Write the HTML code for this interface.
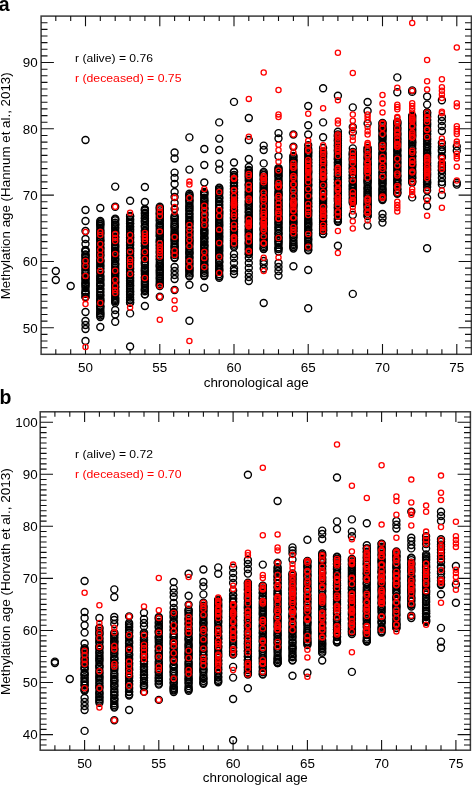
<!DOCTYPE html>
<html><head><meta charset="utf-8"><style>
html,body{margin:0;padding:0;background:#fff;}
body{width:472px;height:785px;overflow:hidden;}
svg{display:block;font-family:"Liberation Sans",sans-serif;}
</style></head><body>
<div style="will-change:transform;width:472px;height:785px"><svg width="472" height="785" viewBox="0 0 472 785" font-family="Liberation Sans, sans-serif"><rect x="41.1" y="16.1" width="430.3" height="338.2" fill="none" stroke="#3a3a3a" stroke-width="1.5"/><path d="M55.8 354.3v-5.0M55.8 16.1v5.0M70.7 354.3v-5.0M70.7 16.1v5.0M85.5 354.3v-10.2M85.5 16.1v10.2M100.3 354.3v-5.0M100.3 16.1v5.0M115.2 354.3v-5.0M115.2 16.1v5.0M130.1 354.3v-5.0M130.1 16.1v5.0M144.9 354.3v-5.0M144.9 16.1v5.0M159.8 354.3v-10.2M159.8 16.1v10.2M174.6 354.3v-5.0M174.6 16.1v5.0M189.4 354.3v-5.0M189.4 16.1v5.0M204.3 354.3v-5.0M204.3 16.1v5.0M219.2 354.3v-5.0M219.2 16.1v5.0M234.0 354.3v-10.2M234.0 16.1v10.2M248.8 354.3v-5.0M248.8 16.1v5.0M263.7 354.3v-5.0M263.7 16.1v5.0M278.5 354.3v-5.0M278.5 16.1v5.0M293.4 354.3v-5.0M293.4 16.1v5.0M308.2 354.3v-10.2M308.2 16.1v10.2M323.1 354.3v-5.0M323.1 16.1v5.0M337.9 354.3v-5.0M337.9 16.1v5.0M352.8 354.3v-5.0M352.8 16.1v5.0M367.6 354.3v-5.0M367.6 16.1v5.0M382.5 354.3v-10.2M382.5 16.1v10.2M397.3 354.3v-5.0M397.3 16.1v5.0M412.2 354.3v-5.0M412.2 16.1v5.0M427.1 354.3v-5.0M427.1 16.1v5.0M441.9 354.3v-5.0M441.9 16.1v5.0M456.8 354.3v-10.2M456.8 16.1v10.2M41.1 347.7h6.4M471.4 347.7h-6.4M41.1 341.0h6.4M471.4 341.0h-6.4M41.1 334.4h6.4M471.4 334.4h-6.4M41.1 327.8h12.8M471.4 327.8h-12.8M41.1 321.1h6.4M471.4 321.1h-6.4M41.1 314.5h6.4M471.4 314.5h-6.4M41.1 307.9h6.4M471.4 307.9h-6.4M41.1 301.2h6.4M471.4 301.2h-6.4M41.1 294.6h6.4M471.4 294.6h-6.4M41.1 288.0h6.4M471.4 288.0h-6.4M41.1 281.4h6.4M471.4 281.4h-6.4M41.1 274.7h6.4M471.4 274.7h-6.4M41.1 268.1h6.4M471.4 268.1h-6.4M41.1 261.5h12.8M471.4 261.5h-12.8M41.1 254.8h6.4M471.4 254.8h-6.4M41.1 248.2h6.4M471.4 248.2h-6.4M41.1 241.6h6.4M471.4 241.6h-6.4M41.1 234.9h6.4M471.4 234.9h-6.4M41.1 228.3h6.4M471.4 228.3h-6.4M41.1 221.7h6.4M471.4 221.7h-6.4M41.1 215.0h6.4M471.4 215.0h-6.4M41.1 208.4h6.4M471.4 208.4h-6.4M41.1 201.8h6.4M471.4 201.8h-6.4M41.1 195.1h12.8M471.4 195.1h-12.8M41.1 188.5h6.4M471.4 188.5h-6.4M41.1 181.9h6.4M471.4 181.9h-6.4M41.1 175.3h6.4M471.4 175.3h-6.4M41.1 168.6h6.4M471.4 168.6h-6.4M41.1 162.0h6.4M471.4 162.0h-6.4M41.1 155.4h6.4M471.4 155.4h-6.4M41.1 148.7h6.4M471.4 148.7h-6.4M41.1 142.1h6.4M471.4 142.1h-6.4M41.1 135.5h6.4M471.4 135.5h-6.4M41.1 128.8h12.8M471.4 128.8h-12.8M41.1 122.2h6.4M471.4 122.2h-6.4M41.1 115.6h6.4M471.4 115.6h-6.4M41.1 108.9h6.4M471.4 108.9h-6.4M41.1 102.3h6.4M471.4 102.3h-6.4M41.1 95.7h6.4M471.4 95.7h-6.4M41.1 89.0h6.4M471.4 89.0h-6.4M41.1 82.4h6.4M471.4 82.4h-6.4M41.1 75.8h6.4M471.4 75.8h-6.4M41.1 69.2h6.4M471.4 69.2h-6.4M41.1 62.5h12.8M471.4 62.5h-12.8M41.1 55.9h6.4M471.4 55.9h-6.4M41.1 49.3h6.4M471.4 49.3h-6.4M41.1 42.6h6.4M471.4 42.6h-6.4M41.1 36.0h6.4M471.4 36.0h-6.4M41.1 29.4h6.4M471.4 29.4h-6.4M41.1 22.7h6.4M471.4 22.7h-6.4" stroke="#111" stroke-width="1.1" fill="none"/><rect x="40.2" y="411.8" width="430.2" height="338.4" fill="none" stroke="#3a3a3a" stroke-width="1.5"/><path d="M54.9 750.2v-5.0M54.9 411.8v5.0M69.8 750.2v-5.0M69.8 411.8v5.0M84.6 750.2v-10.2M84.6 411.8v10.2M99.4 750.2v-5.0M99.4 411.8v5.0M114.3 750.2v-5.0M114.3 411.8v5.0M129.1 750.2v-5.0M129.1 411.8v5.0M144.0 750.2v-5.0M144.0 411.8v5.0M158.8 750.2v-10.2M158.8 411.8v10.2M173.7 750.2v-5.0M173.7 411.8v5.0M188.6 750.2v-5.0M188.6 411.8v5.0M203.4 750.2v-5.0M203.4 411.8v5.0M218.2 750.2v-5.0M218.2 411.8v5.0M233.1 750.2v-10.2M233.1 411.8v10.2M247.9 750.2v-5.0M247.9 411.8v5.0M262.8 750.2v-5.0M262.8 411.8v5.0M277.6 750.2v-5.0M277.6 411.8v5.0M292.5 750.2v-5.0M292.5 411.8v5.0M307.4 750.2v-10.2M307.4 411.8v10.2M322.2 750.2v-5.0M322.2 411.8v5.0M337.0 750.2v-5.0M337.0 411.8v5.0M351.9 750.2v-5.0M351.9 411.8v5.0M366.8 750.2v-5.0M366.8 411.8v5.0M381.6 750.2v-10.2M381.6 411.8v10.2M396.4 750.2v-5.0M396.4 411.8v5.0M411.3 750.2v-5.0M411.3 411.8v5.0M426.1 750.2v-5.0M426.1 411.8v5.0M441.0 750.2v-5.0M441.0 411.8v5.0M455.9 750.2v-10.2M455.9 411.8v10.2M40.2 745.0h6.4M470.4 745.0h-6.4M40.2 739.8h6.4M470.4 739.8h-6.4M40.2 734.6h12.8M470.4 734.6h-12.8M40.2 729.4h6.4M470.4 729.4h-6.4M40.2 724.2h6.4M470.4 724.2h-6.4M40.2 719.0h6.4M470.4 719.0h-6.4M40.2 713.8h6.4M470.4 713.8h-6.4M40.2 708.6h6.4M470.4 708.6h-6.4M40.2 703.3h6.4M470.4 703.3h-6.4M40.2 698.1h6.4M470.4 698.1h-6.4M40.2 692.9h6.4M470.4 692.9h-6.4M40.2 687.7h6.4M470.4 687.7h-6.4M40.2 682.5h12.8M470.4 682.5h-12.8M40.2 677.3h6.4M470.4 677.3h-6.4M40.2 672.1h6.4M470.4 672.1h-6.4M40.2 666.9h6.4M470.4 666.9h-6.4M40.2 661.7h6.4M470.4 661.7h-6.4M40.2 656.5h6.4M470.4 656.5h-6.4M40.2 651.3h6.4M470.4 651.3h-6.4M40.2 646.1h6.4M470.4 646.1h-6.4M40.2 640.9h6.4M470.4 640.9h-6.4M40.2 635.7h6.4M470.4 635.7h-6.4M40.2 630.5h12.8M470.4 630.5h-12.8M40.2 625.3h6.4M470.4 625.3h-6.4M40.2 620.0h6.4M470.4 620.0h-6.4M40.2 614.8h6.4M470.4 614.8h-6.4M40.2 609.6h6.4M470.4 609.6h-6.4M40.2 604.4h6.4M470.4 604.4h-6.4M40.2 599.2h6.4M470.4 599.2h-6.4M40.2 594.0h6.4M470.4 594.0h-6.4M40.2 588.8h6.4M470.4 588.8h-6.4M40.2 583.6h6.4M470.4 583.6h-6.4M40.2 578.4h12.8M470.4 578.4h-12.8M40.2 573.2h6.4M470.4 573.2h-6.4M40.2 568.0h6.4M470.4 568.0h-6.4M40.2 562.8h6.4M470.4 562.8h-6.4M40.2 557.6h6.4M470.4 557.6h-6.4M40.2 552.4h6.4M470.4 552.4h-6.4M40.2 547.2h6.4M470.4 547.2h-6.4M40.2 542.0h6.4M470.4 542.0h-6.4M40.2 536.7h6.4M470.4 536.7h-6.4M40.2 531.5h6.4M470.4 531.5h-6.4M40.2 526.3h12.8M470.4 526.3h-12.8M40.2 521.1h6.4M470.4 521.1h-6.4M40.2 515.9h6.4M470.4 515.9h-6.4M40.2 510.7h6.4M470.4 510.7h-6.4M40.2 505.5h6.4M470.4 505.5h-6.4M40.2 500.3h6.4M470.4 500.3h-6.4M40.2 495.1h6.4M470.4 495.1h-6.4M40.2 489.9h6.4M470.4 489.9h-6.4M40.2 484.7h6.4M470.4 484.7h-6.4M40.2 479.5h6.4M470.4 479.5h-6.4M40.2 474.3h12.8M470.4 474.3h-12.8M40.2 469.1h6.4M470.4 469.1h-6.4M40.2 463.9h6.4M470.4 463.9h-6.4M40.2 458.7h6.4M470.4 458.7h-6.4M40.2 453.4h6.4M470.4 453.4h-6.4M40.2 448.2h6.4M470.4 448.2h-6.4M40.2 443.0h6.4M470.4 443.0h-6.4M40.2 437.8h6.4M470.4 437.8h-6.4M40.2 432.6h6.4M470.4 432.6h-6.4M40.2 427.4h6.4M470.4 427.4h-6.4M40.2 422.2h12.8M470.4 422.2h-12.8M40.2 417.0h6.4M470.4 417.0h-6.4" stroke="#111" stroke-width="1.1" fill="none"/><g fill="none" stroke="#000" stroke-width="1.4"><circle cx="55.8" cy="271.0" r="3.5"/><circle cx="55.8" cy="280.0" r="3.5"/><circle cx="70.7" cy="286.0" r="3.5"/><circle cx="85.5" cy="140.0" r="3.5"/><circle cx="85.5" cy="210.0" r="3.5"/><circle cx="85.5" cy="221.0" r="3.5"/><circle cx="85.5" cy="231.0" r="3.5"/><circle cx="85.5" cy="239.0" r="3.5"/><circle cx="85.5" cy="244.0" r="3.5"/><circle cx="85.5" cy="312.0" r="3.5"/><circle cx="85.5" cy="321.0" r="3.5"/><circle cx="85.5" cy="325.0" r="3.5"/><circle cx="85.5" cy="329.0" r="3.5"/><circle cx="85.5" cy="341.0" r="3.5"/><circle cx="85.5" cy="250.0" r="3.5"/><circle cx="85.5" cy="297.0" r="3.5"/><circle cx="85.5" cy="250.7" r="3.5"/><circle cx="85.5" cy="251.6" r="3.5"/><circle cx="85.5" cy="254.4" r="3.5"/><circle cx="85.5" cy="255.2" r="3.5"/><circle cx="85.5" cy="256.8" r="3.5"/><circle cx="85.5" cy="258.1" r="3.5"/><circle cx="85.5" cy="260.3" r="3.5"/><circle cx="85.5" cy="261.2" r="3.5"/><circle cx="85.5" cy="262.7" r="3.5"/><circle cx="85.5" cy="264.8" r="3.5"/><circle cx="85.5" cy="266.5" r="3.5"/><circle cx="85.5" cy="267.5" r="3.5"/><circle cx="85.5" cy="269.7" r="3.5"/><circle cx="85.5" cy="270.9" r="3.5"/><circle cx="85.5" cy="273.4" r="3.5"/><circle cx="85.5" cy="273.6" r="3.5"/><circle cx="85.5" cy="276.6" r="3.5"/><circle cx="85.5" cy="277.3" r="3.5"/><circle cx="85.5" cy="279.0" r="3.5"/><circle cx="85.5" cy="280.0" r="3.5"/><circle cx="85.5" cy="282.5" r="3.5"/><circle cx="85.5" cy="283.2" r="3.5"/><circle cx="85.5" cy="285.0" r="3.5"/><circle cx="85.5" cy="286.1" r="3.5"/><circle cx="85.5" cy="288.1" r="3.5"/><circle cx="85.5" cy="290.7" r="3.5"/><circle cx="85.5" cy="292.3" r="3.5"/><circle cx="85.5" cy="293.5" r="3.5"/><circle cx="85.5" cy="293.9" r="3.5"/><circle cx="85.5" cy="296.9" r="3.5"/><circle cx="100.3" cy="208.0" r="3.5"/><circle cx="100.3" cy="327.0" r="3.5"/><circle cx="100.3" cy="221.0" r="3.5"/><circle cx="100.3" cy="317.0" r="3.5"/><circle cx="100.3" cy="222.3" r="3.5"/><circle cx="100.3" cy="223.7" r="3.5"/><circle cx="100.3" cy="224.4" r="3.5"/><circle cx="100.3" cy="225.8" r="3.5"/><circle cx="100.3" cy="227.8" r="3.5"/><circle cx="100.3" cy="230.1" r="3.5"/><circle cx="100.3" cy="231.2" r="3.5"/><circle cx="100.3" cy="233.0" r="3.5"/><circle cx="100.3" cy="233.7" r="3.5"/><circle cx="100.3" cy="235.7" r="3.5"/><circle cx="100.3" cy="237.6" r="3.5"/><circle cx="100.3" cy="239.3" r="3.5"/><circle cx="100.3" cy="240.8" r="3.5"/><circle cx="100.3" cy="241.5" r="3.5"/><circle cx="100.3" cy="244.0" r="3.5"/><circle cx="100.3" cy="244.6" r="3.5"/><circle cx="100.3" cy="247.0" r="3.5"/><circle cx="100.3" cy="248.2" r="3.5"/><circle cx="100.3" cy="249.2" r="3.5"/><circle cx="100.3" cy="251.3" r="3.5"/><circle cx="100.3" cy="252.8" r="3.5"/><circle cx="100.3" cy="255.0" r="3.5"/><circle cx="100.3" cy="255.1" r="3.5"/><circle cx="100.3" cy="256.9" r="3.5"/><circle cx="100.3" cy="259.7" r="3.5"/><circle cx="100.3" cy="261.0" r="3.5"/><circle cx="100.3" cy="261.5" r="3.5"/><circle cx="100.3" cy="263.2" r="3.5"/><circle cx="100.3" cy="265.2" r="3.5"/><circle cx="100.3" cy="266.1" r="3.5"/><circle cx="100.3" cy="268.0" r="3.5"/><circle cx="100.3" cy="269.1" r="3.5"/><circle cx="100.3" cy="271.7" r="3.5"/><circle cx="100.3" cy="272.2" r="3.5"/><circle cx="100.3" cy="275.2" r="3.5"/><circle cx="100.3" cy="276.6" r="3.5"/><circle cx="100.3" cy="278.0" r="3.5"/><circle cx="100.3" cy="279.5" r="3.5"/><circle cx="100.3" cy="280.4" r="3.5"/><circle cx="100.3" cy="282.4" r="3.5"/><circle cx="100.3" cy="284.1" r="3.5"/><circle cx="100.3" cy="285.2" r="3.5"/><circle cx="100.3" cy="286.1" r="3.5"/><circle cx="100.3" cy="288.6" r="3.5"/><circle cx="100.3" cy="289.6" r="3.5"/><circle cx="100.3" cy="291.6" r="3.5"/><circle cx="100.3" cy="292.9" r="3.5"/><circle cx="100.3" cy="295.2" r="3.5"/><circle cx="100.3" cy="295.6" r="3.5"/><circle cx="100.3" cy="298.1" r="3.5"/><circle cx="100.3" cy="299.5" r="3.5"/><circle cx="100.3" cy="300.8" r="3.5"/><circle cx="100.3" cy="301.6" r="3.5"/><circle cx="100.3" cy="303.3" r="3.5"/><circle cx="100.3" cy="306.1" r="3.5"/><circle cx="100.3" cy="306.5" r="3.5"/><circle cx="100.3" cy="308.0" r="3.5"/><circle cx="100.3" cy="309.7" r="3.5"/><circle cx="100.3" cy="311.6" r="3.5"/><circle cx="100.3" cy="313.2" r="3.5"/><circle cx="100.3" cy="313.9" r="3.5"/><circle cx="100.3" cy="315.5" r="3.5"/><circle cx="115.2" cy="186.6" r="3.5"/><circle cx="115.2" cy="206.7" r="3.5"/><circle cx="115.2" cy="310.0" r="3.5"/><circle cx="115.2" cy="314.5" r="3.5"/><circle cx="115.2" cy="321.7" r="3.5"/><circle cx="115.2" cy="218.6" r="3.5"/><circle cx="115.2" cy="302.7" r="3.5"/><circle cx="115.2" cy="219.4" r="3.5"/><circle cx="115.2" cy="220.4" r="3.5"/><circle cx="115.2" cy="222.7" r="3.5"/><circle cx="115.2" cy="224.5" r="3.5"/><circle cx="115.2" cy="225.0" r="3.5"/><circle cx="115.2" cy="227.2" r="3.5"/><circle cx="115.2" cy="228.6" r="3.5"/><circle cx="115.2" cy="230.7" r="3.5"/><circle cx="115.2" cy="232.5" r="3.5"/><circle cx="115.2" cy="233.3" r="3.5"/><circle cx="115.2" cy="234.6" r="3.5"/><circle cx="115.2" cy="237.1" r="3.5"/><circle cx="115.2" cy="237.3" r="3.5"/><circle cx="115.2" cy="239.4" r="3.5"/><circle cx="115.2" cy="241.0" r="3.5"/><circle cx="115.2" cy="242.2" r="3.5"/><circle cx="115.2" cy="244.6" r="3.5"/><circle cx="115.2" cy="245.9" r="3.5"/><circle cx="115.2" cy="247.0" r="3.5"/><circle cx="115.2" cy="248.8" r="3.5"/><circle cx="115.2" cy="250.8" r="3.5"/><circle cx="115.2" cy="251.8" r="3.5"/><circle cx="115.2" cy="253.0" r="3.5"/><circle cx="115.2" cy="255.1" r="3.5"/><circle cx="115.2" cy="256.3" r="3.5"/><circle cx="115.2" cy="258.5" r="3.5"/><circle cx="115.2" cy="259.4" r="3.5"/><circle cx="115.2" cy="260.9" r="3.5"/><circle cx="115.2" cy="263.6" r="3.5"/><circle cx="115.2" cy="264.3" r="3.5"/><circle cx="115.2" cy="265.8" r="3.5"/><circle cx="115.2" cy="267.7" r="3.5"/><circle cx="115.2" cy="269.5" r="3.5"/><circle cx="115.2" cy="271.0" r="3.5"/><circle cx="115.2" cy="272.8" r="3.5"/><circle cx="115.2" cy="273.5" r="3.5"/><circle cx="115.2" cy="275.3" r="3.5"/><circle cx="115.2" cy="276.8" r="3.5"/><circle cx="115.2" cy="278.6" r="3.5"/><circle cx="115.2" cy="280.2" r="3.5"/><circle cx="115.2" cy="281.9" r="3.5"/><circle cx="115.2" cy="282.6" r="3.5"/><circle cx="115.2" cy="284.6" r="3.5"/><circle cx="115.2" cy="286.7" r="3.5"/><circle cx="115.2" cy="287.2" r="3.5"/><circle cx="115.2" cy="289.8" r="3.5"/><circle cx="115.2" cy="291.3" r="3.5"/><circle cx="115.2" cy="292.4" r="3.5"/><circle cx="115.2" cy="294.1" r="3.5"/><circle cx="115.2" cy="295.3" r="3.5"/><circle cx="115.2" cy="297.6" r="3.5"/><circle cx="115.2" cy="298.8" r="3.5"/><circle cx="115.2" cy="300.0" r="3.5"/><circle cx="115.2" cy="301.2" r="3.5"/><circle cx="130.1" cy="200.8" r="3.5"/><circle cx="130.1" cy="313.4" r="3.5"/><circle cx="130.1" cy="346.5" r="3.5"/><circle cx="130.1" cy="216.0" r="3.5"/><circle cx="130.1" cy="302.7" r="3.5"/><circle cx="130.1" cy="216.5" r="3.5"/><circle cx="130.1" cy="219.0" r="3.5"/><circle cx="130.1" cy="220.1" r="3.5"/><circle cx="130.1" cy="221.6" r="3.5"/><circle cx="130.1" cy="223.6" r="3.5"/><circle cx="130.1" cy="223.8" r="3.5"/><circle cx="130.1" cy="226.2" r="3.5"/><circle cx="130.1" cy="227.1" r="3.5"/><circle cx="130.1" cy="229.0" r="3.5"/><circle cx="130.1" cy="230.2" r="3.5"/><circle cx="130.1" cy="232.0" r="3.5"/><circle cx="130.1" cy="234.4" r="3.5"/><circle cx="130.1" cy="235.7" r="3.5"/><circle cx="130.1" cy="237.4" r="3.5"/><circle cx="130.1" cy="237.8" r="3.5"/><circle cx="130.1" cy="239.7" r="3.5"/><circle cx="130.1" cy="242.0" r="3.5"/><circle cx="130.1" cy="242.4" r="3.5"/><circle cx="130.1" cy="244.2" r="3.5"/><circle cx="130.1" cy="245.5" r="3.5"/><circle cx="130.1" cy="248.2" r="3.5"/><circle cx="130.1" cy="248.9" r="3.5"/><circle cx="130.1" cy="250.7" r="3.5"/><circle cx="130.1" cy="251.6" r="3.5"/><circle cx="130.1" cy="253.3" r="3.5"/><circle cx="130.1" cy="255.5" r="3.5"/><circle cx="130.1" cy="257.5" r="3.5"/><circle cx="130.1" cy="258.3" r="3.5"/><circle cx="130.1" cy="259.8" r="3.5"/><circle cx="130.1" cy="261.0" r="3.5"/><circle cx="130.1" cy="262.6" r="3.5"/><circle cx="130.1" cy="264.2" r="3.5"/><circle cx="130.1" cy="265.9" r="3.5"/><circle cx="130.1" cy="268.0" r="3.5"/><circle cx="130.1" cy="269.2" r="3.5"/><circle cx="130.1" cy="271.7" r="3.5"/><circle cx="130.1" cy="272.2" r="3.5"/><circle cx="130.1" cy="274.6" r="3.5"/><circle cx="130.1" cy="275.0" r="3.5"/><circle cx="130.1" cy="277.2" r="3.5"/><circle cx="130.1" cy="278.8" r="3.5"/><circle cx="130.1" cy="280.5" r="3.5"/><circle cx="130.1" cy="281.7" r="3.5"/><circle cx="130.1" cy="283.4" r="3.5"/><circle cx="130.1" cy="285.3" r="3.5"/><circle cx="130.1" cy="285.9" r="3.5"/><circle cx="130.1" cy="288.0" r="3.5"/><circle cx="130.1" cy="289.7" r="3.5"/><circle cx="130.1" cy="291.5" r="3.5"/><circle cx="130.1" cy="292.1" r="3.5"/><circle cx="130.1" cy="294.1" r="3.5"/><circle cx="130.1" cy="295.0" r="3.5"/><circle cx="130.1" cy="297.5" r="3.5"/><circle cx="130.1" cy="299.4" r="3.5"/><circle cx="130.1" cy="300.2" r="3.5"/><circle cx="130.1" cy="302.4" r="3.5"/><circle cx="144.9" cy="187.0" r="3.5"/><circle cx="144.9" cy="202.0" r="3.5"/><circle cx="144.9" cy="306.0" r="3.5"/><circle cx="144.9" cy="209.0" r="3.5"/><circle cx="144.9" cy="294.4" r="3.5"/><circle cx="144.9" cy="210.0" r="3.5"/><circle cx="144.9" cy="210.6" r="3.5"/><circle cx="144.9" cy="212.8" r="3.5"/><circle cx="144.9" cy="213.7" r="3.5"/><circle cx="144.9" cy="215.7" r="3.5"/><circle cx="144.9" cy="218.0" r="3.5"/><circle cx="144.9" cy="218.5" r="3.5"/><circle cx="144.9" cy="220.7" r="3.5"/><circle cx="144.9" cy="221.5" r="3.5"/><circle cx="144.9" cy="223.1" r="3.5"/><circle cx="144.9" cy="226.0" r="3.5"/><circle cx="144.9" cy="226.2" r="3.5"/><circle cx="144.9" cy="227.9" r="3.5"/><circle cx="144.9" cy="230.6" r="3.5"/><circle cx="144.9" cy="231.2" r="3.5"/><circle cx="144.9" cy="232.6" r="3.5"/><circle cx="144.9" cy="234.0" r="3.5"/><circle cx="144.9" cy="236.2" r="3.5"/><circle cx="144.9" cy="237.0" r="3.5"/><circle cx="144.9" cy="238.8" r="3.5"/><circle cx="144.9" cy="240.4" r="3.5"/><circle cx="144.9" cy="242.8" r="3.5"/><circle cx="144.9" cy="243.4" r="3.5"/><circle cx="144.9" cy="245.6" r="3.5"/><circle cx="144.9" cy="246.6" r="3.5"/><circle cx="144.9" cy="249.4" r="3.5"/><circle cx="144.9" cy="250.9" r="3.5"/><circle cx="144.9" cy="252.4" r="3.5"/><circle cx="144.9" cy="253.9" r="3.5"/><circle cx="144.9" cy="254.9" r="3.5"/><circle cx="144.9" cy="257.0" r="3.5"/><circle cx="144.9" cy="258.1" r="3.5"/><circle cx="144.9" cy="258.9" r="3.5"/><circle cx="144.9" cy="261.4" r="3.5"/><circle cx="144.9" cy="263.1" r="3.5"/><circle cx="144.9" cy="263.4" r="3.5"/><circle cx="144.9" cy="265.2" r="3.5"/><circle cx="144.9" cy="267.7" r="3.5"/><circle cx="144.9" cy="269.2" r="3.5"/><circle cx="144.9" cy="270.4" r="3.5"/><circle cx="144.9" cy="271.3" r="3.5"/><circle cx="144.9" cy="273.1" r="3.5"/><circle cx="144.9" cy="274.6" r="3.5"/><circle cx="144.9" cy="277.3" r="3.5"/><circle cx="144.9" cy="277.7" r="3.5"/><circle cx="144.9" cy="279.4" r="3.5"/><circle cx="144.9" cy="281.5" r="3.5"/><circle cx="144.9" cy="283.0" r="3.5"/><circle cx="144.9" cy="284.4" r="3.5"/><circle cx="144.9" cy="286.1" r="3.5"/><circle cx="144.9" cy="288.0" r="3.5"/><circle cx="144.9" cy="289.6" r="3.5"/><circle cx="144.9" cy="289.9" r="3.5"/><circle cx="144.9" cy="291.3" r="3.5"/><circle cx="144.9" cy="294.3" r="3.5"/><circle cx="159.8" cy="296.8" r="3.5"/><circle cx="159.8" cy="206.7" r="3.5"/><circle cx="159.8" cy="286.0" r="3.5"/><circle cx="159.8" cy="208.1" r="3.5"/><circle cx="159.8" cy="208.8" r="3.5"/><circle cx="159.8" cy="210.4" r="3.5"/><circle cx="159.8" cy="212.4" r="3.5"/><circle cx="159.8" cy="213.6" r="3.5"/><circle cx="159.8" cy="214.6" r="3.5"/><circle cx="159.8" cy="216.4" r="3.5"/><circle cx="159.8" cy="218.1" r="3.5"/><circle cx="159.8" cy="220.0" r="3.5"/><circle cx="159.8" cy="221.0" r="3.5"/><circle cx="159.8" cy="223.4" r="3.5"/><circle cx="159.8" cy="225.3" r="3.5"/><circle cx="159.8" cy="226.0" r="3.5"/><circle cx="159.8" cy="227.8" r="3.5"/><circle cx="159.8" cy="229.5" r="3.5"/><circle cx="159.8" cy="231.3" r="3.5"/><circle cx="159.8" cy="232.6" r="3.5"/><circle cx="159.8" cy="233.9" r="3.5"/><circle cx="159.8" cy="235.8" r="3.5"/><circle cx="159.8" cy="236.3" r="3.5"/><circle cx="159.8" cy="239.3" r="3.5"/><circle cx="159.8" cy="240.8" r="3.5"/><circle cx="159.8" cy="242.0" r="3.5"/><circle cx="159.8" cy="242.8" r="3.5"/><circle cx="159.8" cy="245.0" r="3.5"/><circle cx="159.8" cy="245.6" r="3.5"/><circle cx="159.8" cy="247.7" r="3.5"/><circle cx="159.8" cy="249.0" r="3.5"/><circle cx="159.8" cy="251.1" r="3.5"/><circle cx="159.8" cy="252.2" r="3.5"/><circle cx="159.8" cy="253.5" r="3.5"/><circle cx="159.8" cy="256.1" r="3.5"/><circle cx="159.8" cy="256.8" r="3.5"/><circle cx="159.8" cy="258.9" r="3.5"/><circle cx="159.8" cy="259.6" r="3.5"/><circle cx="159.8" cy="262.0" r="3.5"/><circle cx="159.8" cy="263.9" r="3.5"/><circle cx="159.8" cy="265.5" r="3.5"/><circle cx="159.8" cy="266.3" r="3.5"/><circle cx="159.8" cy="267.5" r="3.5"/><circle cx="159.8" cy="269.8" r="3.5"/><circle cx="159.8" cy="270.9" r="3.5"/><circle cx="159.8" cy="272.5" r="3.5"/><circle cx="159.8" cy="273.9" r="3.5"/><circle cx="159.8" cy="275.7" r="3.5"/><circle cx="159.8" cy="277.7" r="3.5"/><circle cx="159.8" cy="278.8" r="3.5"/><circle cx="159.8" cy="280.8" r="3.5"/><circle cx="159.8" cy="282.5" r="3.5"/><circle cx="159.8" cy="284.2" r="3.5"/><circle cx="159.8" cy="285.3" r="3.5"/><circle cx="174.6" cy="152.5" r="3.5"/><circle cx="174.6" cy="158.5" r="3.5"/><circle cx="174.6" cy="172.6" r="3.5"/><circle cx="174.6" cy="178.0" r="3.5"/><circle cx="174.6" cy="184.0" r="3.5"/><circle cx="174.6" cy="192.0" r="3.5"/><circle cx="174.6" cy="197.0" r="3.5"/><circle cx="174.6" cy="203.0" r="3.5"/><circle cx="174.6" cy="209.0" r="3.5"/><circle cx="174.6" cy="267.0" r="3.5"/><circle cx="174.6" cy="271.0" r="3.5"/><circle cx="174.6" cy="275.0" r="3.5"/><circle cx="174.6" cy="279.0" r="3.5"/><circle cx="174.6" cy="290.0" r="3.5"/><circle cx="174.6" cy="216.0" r="3.5"/><circle cx="174.6" cy="258.0" r="3.5"/><circle cx="174.6" cy="217.5" r="3.5"/><circle cx="174.6" cy="218.3" r="3.5"/><circle cx="174.6" cy="219.9" r="3.5"/><circle cx="174.6" cy="221.7" r="3.5"/><circle cx="174.6" cy="223.7" r="3.5"/><circle cx="174.6" cy="224.9" r="3.5"/><circle cx="174.6" cy="226.8" r="3.5"/><circle cx="174.6" cy="227.1" r="3.5"/><circle cx="174.6" cy="229.1" r="3.5"/><circle cx="174.6" cy="231.1" r="3.5"/><circle cx="174.6" cy="232.7" r="3.5"/><circle cx="174.6" cy="234.4" r="3.5"/><circle cx="174.6" cy="235.1" r="3.5"/><circle cx="174.6" cy="236.7" r="3.5"/><circle cx="174.6" cy="238.4" r="3.5"/><circle cx="174.6" cy="239.9" r="3.5"/><circle cx="174.6" cy="241.0" r="3.5"/><circle cx="174.6" cy="243.1" r="3.5"/><circle cx="174.6" cy="245.0" r="3.5"/><circle cx="174.6" cy="246.7" r="3.5"/><circle cx="174.6" cy="247.5" r="3.5"/><circle cx="174.6" cy="249.6" r="3.5"/><circle cx="174.6" cy="251.4" r="3.5"/><circle cx="174.6" cy="252.0" r="3.5"/><circle cx="174.6" cy="253.4" r="3.5"/><circle cx="174.6" cy="255.1" r="3.5"/><circle cx="174.6" cy="257.5" r="3.5"/><circle cx="189.4" cy="137.4" r="3.5"/><circle cx="189.4" cy="169.6" r="3.5"/><circle cx="189.4" cy="284.8" r="3.5"/><circle cx="189.4" cy="320.8" r="3.5"/><circle cx="189.4" cy="193.7" r="3.5"/><circle cx="189.4" cy="276.3" r="3.5"/><circle cx="189.4" cy="195.1" r="3.5"/><circle cx="189.4" cy="195.9" r="3.5"/><circle cx="189.4" cy="197.3" r="3.5"/><circle cx="189.4" cy="199.4" r="3.5"/><circle cx="189.4" cy="200.4" r="3.5"/><circle cx="189.4" cy="201.6" r="3.5"/><circle cx="189.4" cy="203.4" r="3.5"/><circle cx="189.4" cy="205.5" r="3.5"/><circle cx="189.4" cy="206.9" r="3.5"/><circle cx="189.4" cy="208.3" r="3.5"/><circle cx="189.4" cy="209.9" r="3.5"/><circle cx="189.4" cy="211.1" r="3.5"/><circle cx="189.4" cy="213.6" r="3.5"/><circle cx="189.4" cy="214.5" r="3.5"/><circle cx="189.4" cy="216.6" r="3.5"/><circle cx="189.4" cy="218.0" r="3.5"/><circle cx="189.4" cy="220.0" r="3.5"/><circle cx="189.4" cy="221.4" r="3.5"/><circle cx="189.4" cy="222.0" r="3.5"/><circle cx="189.4" cy="224.0" r="3.5"/><circle cx="189.4" cy="224.9" r="3.5"/><circle cx="189.4" cy="227.6" r="3.5"/><circle cx="189.4" cy="228.3" r="3.5"/><circle cx="189.4" cy="231.1" r="3.5"/><circle cx="189.4" cy="231.5" r="3.5"/><circle cx="189.4" cy="233.5" r="3.5"/><circle cx="189.4" cy="235.0" r="3.5"/><circle cx="189.4" cy="237.1" r="3.5"/><circle cx="189.4" cy="238.3" r="3.5"/><circle cx="189.4" cy="240.3" r="3.5"/><circle cx="189.4" cy="241.0" r="3.5"/><circle cx="189.4" cy="242.2" r="3.5"/><circle cx="189.4" cy="243.9" r="3.5"/><circle cx="189.4" cy="245.2" r="3.5"/><circle cx="189.4" cy="247.8" r="3.5"/><circle cx="189.4" cy="249.3" r="3.5"/><circle cx="189.4" cy="251.0" r="3.5"/><circle cx="189.4" cy="252.6" r="3.5"/><circle cx="189.4" cy="253.1" r="3.5"/><circle cx="189.4" cy="254.6" r="3.5"/><circle cx="189.4" cy="257.1" r="3.5"/><circle cx="189.4" cy="257.6" r="3.5"/><circle cx="189.4" cy="259.7" r="3.5"/><circle cx="189.4" cy="261.6" r="3.5"/><circle cx="189.4" cy="263.3" r="3.5"/><circle cx="189.4" cy="264.8" r="3.5"/><circle cx="189.4" cy="266.9" r="3.5"/><circle cx="189.4" cy="268.5" r="3.5"/><circle cx="189.4" cy="269.0" r="3.5"/><circle cx="189.4" cy="270.6" r="3.5"/><circle cx="189.4" cy="271.7" r="3.5"/><circle cx="189.4" cy="273.4" r="3.5"/><circle cx="189.4" cy="275.4" r="3.5"/><circle cx="204.3" cy="149.0" r="3.5"/><circle cx="204.3" cy="165.0" r="3.5"/><circle cx="204.3" cy="182.5" r="3.5"/><circle cx="204.3" cy="287.8" r="3.5"/><circle cx="204.3" cy="192.0" r="3.5"/><circle cx="204.3" cy="276.0" r="3.5"/><circle cx="204.3" cy="193.0" r="3.5"/><circle cx="204.3" cy="193.9" r="3.5"/><circle cx="204.3" cy="195.3" r="3.5"/><circle cx="204.3" cy="197.7" r="3.5"/><circle cx="204.3" cy="199.3" r="3.5"/><circle cx="204.3" cy="200.6" r="3.5"/><circle cx="204.3" cy="201.6" r="3.5"/><circle cx="204.3" cy="203.2" r="3.5"/><circle cx="204.3" cy="204.9" r="3.5"/><circle cx="204.3" cy="207.3" r="3.5"/><circle cx="204.3" cy="209.0" r="3.5"/><circle cx="204.3" cy="209.2" r="3.5"/><circle cx="204.3" cy="212.1" r="3.5"/><circle cx="204.3" cy="213.6" r="3.5"/><circle cx="204.3" cy="215.0" r="3.5"/><circle cx="204.3" cy="215.7" r="3.5"/><circle cx="204.3" cy="218.4" r="3.5"/><circle cx="204.3" cy="219.7" r="3.5"/><circle cx="204.3" cy="220.2" r="3.5"/><circle cx="204.3" cy="221.6" r="3.5"/><circle cx="204.3" cy="223.7" r="3.5"/><circle cx="204.3" cy="225.6" r="3.5"/><circle cx="204.3" cy="226.3" r="3.5"/><circle cx="204.3" cy="229.3" r="3.5"/><circle cx="204.3" cy="230.4" r="3.5"/><circle cx="204.3" cy="231.7" r="3.5"/><circle cx="204.3" cy="233.2" r="3.5"/><circle cx="204.3" cy="234.2" r="3.5"/><circle cx="204.3" cy="236.7" r="3.5"/><circle cx="204.3" cy="238.3" r="3.5"/><circle cx="204.3" cy="238.7" r="3.5"/><circle cx="204.3" cy="241.5" r="3.5"/><circle cx="204.3" cy="242.3" r="3.5"/><circle cx="204.3" cy="244.8" r="3.5"/><circle cx="204.3" cy="245.4" r="3.5"/><circle cx="204.3" cy="246.8" r="3.5"/><circle cx="204.3" cy="248.3" r="3.5"/><circle cx="204.3" cy="250.1" r="3.5"/><circle cx="204.3" cy="251.2" r="3.5"/><circle cx="204.3" cy="252.9" r="3.5"/><circle cx="204.3" cy="255.0" r="3.5"/><circle cx="204.3" cy="256.6" r="3.5"/><circle cx="204.3" cy="258.2" r="3.5"/><circle cx="204.3" cy="259.1" r="3.5"/><circle cx="204.3" cy="260.5" r="3.5"/><circle cx="204.3" cy="262.2" r="3.5"/><circle cx="204.3" cy="265.0" r="3.5"/><circle cx="204.3" cy="265.3" r="3.5"/><circle cx="204.3" cy="267.7" r="3.5"/><circle cx="204.3" cy="269.1" r="3.5"/><circle cx="204.3" cy="270.7" r="3.5"/><circle cx="204.3" cy="272.8" r="3.5"/><circle cx="204.3" cy="273.3" r="3.5"/><circle cx="204.3" cy="275.5" r="3.5"/><circle cx="219.2" cy="122.4" r="3.5"/><circle cx="219.2" cy="138.6" r="3.5"/><circle cx="219.2" cy="150.0" r="3.5"/><circle cx="219.2" cy="163.6" r="3.5"/><circle cx="219.2" cy="169.6" r="3.5"/><circle cx="219.2" cy="187.6" r="3.5"/><circle cx="219.2" cy="277.8" r="3.5"/><circle cx="219.2" cy="188.4" r="3.5"/><circle cx="219.2" cy="189.7" r="3.5"/><circle cx="219.2" cy="191.3" r="3.5"/><circle cx="219.2" cy="192.6" r="3.5"/><circle cx="219.2" cy="194.0" r="3.5"/><circle cx="219.2" cy="196.8" r="3.5"/><circle cx="219.2" cy="197.9" r="3.5"/><circle cx="219.2" cy="198.8" r="3.5"/><circle cx="219.2" cy="201.3" r="3.5"/><circle cx="219.2" cy="201.9" r="3.5"/><circle cx="219.2" cy="204.2" r="3.5"/><circle cx="219.2" cy="205.6" r="3.5"/><circle cx="219.2" cy="207.5" r="3.5"/><circle cx="219.2" cy="208.5" r="3.5"/><circle cx="219.2" cy="210.9" r="3.5"/><circle cx="219.2" cy="212.0" r="3.5"/><circle cx="219.2" cy="213.2" r="3.5"/><circle cx="219.2" cy="214.2" r="3.5"/><circle cx="219.2" cy="216.0" r="3.5"/><circle cx="219.2" cy="217.4" r="3.5"/><circle cx="219.2" cy="219.5" r="3.5"/><circle cx="219.2" cy="221.5" r="3.5"/><circle cx="219.2" cy="223.0" r="3.5"/><circle cx="219.2" cy="224.4" r="3.5"/><circle cx="219.2" cy="225.6" r="3.5"/><circle cx="219.2" cy="226.9" r="3.5"/><circle cx="219.2" cy="229.3" r="3.5"/><circle cx="219.2" cy="230.6" r="3.5"/><circle cx="219.2" cy="232.2" r="3.5"/><circle cx="219.2" cy="233.6" r="3.5"/><circle cx="219.2" cy="235.5" r="3.5"/><circle cx="219.2" cy="236.7" r="3.5"/><circle cx="219.2" cy="237.8" r="3.5"/><circle cx="219.2" cy="239.5" r="3.5"/><circle cx="219.2" cy="241.0" r="3.5"/><circle cx="219.2" cy="242.5" r="3.5"/><circle cx="219.2" cy="245.0" r="3.5"/><circle cx="219.2" cy="246.2" r="3.5"/><circle cx="219.2" cy="247.7" r="3.5"/><circle cx="219.2" cy="249.0" r="3.5"/><circle cx="219.2" cy="250.6" r="3.5"/><circle cx="219.2" cy="251.5" r="3.5"/><circle cx="219.2" cy="253.7" r="3.5"/><circle cx="219.2" cy="255.4" r="3.5"/><circle cx="219.2" cy="256.6" r="3.5"/><circle cx="219.2" cy="258.4" r="3.5"/><circle cx="219.2" cy="260.7" r="3.5"/><circle cx="219.2" cy="262.1" r="3.5"/><circle cx="219.2" cy="262.4" r="3.5"/><circle cx="219.2" cy="265.3" r="3.5"/><circle cx="219.2" cy="266.6" r="3.5"/><circle cx="219.2" cy="268.2" r="3.5"/><circle cx="219.2" cy="269.7" r="3.5"/><circle cx="219.2" cy="270.3" r="3.5"/><circle cx="219.2" cy="271.8" r="3.5"/><circle cx="219.2" cy="274.1" r="3.5"/><circle cx="219.2" cy="276.0" r="3.5"/><circle cx="219.2" cy="276.4" r="3.5"/><circle cx="234.0" cy="101.9" r="3.5"/><circle cx="234.0" cy="162.5" r="3.5"/><circle cx="234.0" cy="254.0" r="3.5"/><circle cx="234.0" cy="258.0" r="3.5"/><circle cx="234.0" cy="263.0" r="3.5"/><circle cx="234.0" cy="268.5" r="3.5"/><circle cx="234.0" cy="271.0" r="3.5"/><circle cx="234.0" cy="274.0" r="3.5"/><circle cx="234.0" cy="172.0" r="3.5"/><circle cx="234.0" cy="247.0" r="3.5"/><circle cx="234.0" cy="172.0" r="3.5"/><circle cx="234.0" cy="175.0" r="3.5"/><circle cx="234.0" cy="176.5" r="3.5"/><circle cx="234.0" cy="177.1" r="3.5"/><circle cx="234.0" cy="179.5" r="3.5"/><circle cx="234.0" cy="180.3" r="3.5"/><circle cx="234.0" cy="182.7" r="3.5"/><circle cx="234.0" cy="183.0" r="3.5"/><circle cx="234.0" cy="185.5" r="3.5"/><circle cx="234.0" cy="186.4" r="3.5"/><circle cx="234.0" cy="188.6" r="3.5"/><circle cx="234.0" cy="189.2" r="3.5"/><circle cx="234.0" cy="191.8" r="3.5"/><circle cx="234.0" cy="192.5" r="3.5"/><circle cx="234.0" cy="194.6" r="3.5"/><circle cx="234.0" cy="195.5" r="3.5"/><circle cx="234.0" cy="197.6" r="3.5"/><circle cx="234.0" cy="198.8" r="3.5"/><circle cx="234.0" cy="200.6" r="3.5"/><circle cx="234.0" cy="202.4" r="3.5"/><circle cx="234.0" cy="204.3" r="3.5"/><circle cx="234.0" cy="205.8" r="3.5"/><circle cx="234.0" cy="207.2" r="3.5"/><circle cx="234.0" cy="209.3" r="3.5"/><circle cx="234.0" cy="210.1" r="3.5"/><circle cx="234.0" cy="211.3" r="3.5"/><circle cx="234.0" cy="213.7" r="3.5"/><circle cx="234.0" cy="214.7" r="3.5"/><circle cx="234.0" cy="217.2" r="3.5"/><circle cx="234.0" cy="217.9" r="3.5"/><circle cx="234.0" cy="218.9" r="3.5"/><circle cx="234.0" cy="221.0" r="3.5"/><circle cx="234.0" cy="223.5" r="3.5"/><circle cx="234.0" cy="224.3" r="3.5"/><circle cx="234.0" cy="226.4" r="3.5"/><circle cx="234.0" cy="227.3" r="3.5"/><circle cx="234.0" cy="229.2" r="3.5"/><circle cx="234.0" cy="229.9" r="3.5"/><circle cx="234.0" cy="231.7" r="3.5"/><circle cx="234.0" cy="233.1" r="3.5"/><circle cx="234.0" cy="235.1" r="3.5"/><circle cx="234.0" cy="236.6" r="3.5"/><circle cx="234.0" cy="238.5" r="3.5"/><circle cx="234.0" cy="240.2" r="3.5"/><circle cx="234.0" cy="241.1" r="3.5"/><circle cx="234.0" cy="242.7" r="3.5"/><circle cx="234.0" cy="243.9" r="3.5"/><circle cx="234.0" cy="245.6" r="3.5"/><circle cx="248.8" cy="118.0" r="3.5"/><circle cx="248.8" cy="140.0" r="3.5"/><circle cx="248.8" cy="159.0" r="3.5"/><circle cx="248.8" cy="167.0" r="3.5"/><circle cx="248.8" cy="258.0" r="3.5"/><circle cx="248.8" cy="263.0" r="3.5"/><circle cx="248.8" cy="268.0" r="3.5"/><circle cx="248.8" cy="273.0" r="3.5"/><circle cx="248.8" cy="277.0" r="3.5"/><circle cx="248.8" cy="281.0" r="3.5"/><circle cx="248.8" cy="170.0" r="3.5"/><circle cx="248.8" cy="254.0" r="3.5"/><circle cx="248.8" cy="171.0" r="3.5"/><circle cx="248.8" cy="172.8" r="3.5"/><circle cx="248.8" cy="173.9" r="3.5"/><circle cx="248.8" cy="175.3" r="3.5"/><circle cx="248.8" cy="176.4" r="3.5"/><circle cx="248.8" cy="177.8" r="3.5"/><circle cx="248.8" cy="179.6" r="3.5"/><circle cx="248.8" cy="181.1" r="3.5"/><circle cx="248.8" cy="183.9" r="3.5"/><circle cx="248.8" cy="184.9" r="3.5"/><circle cx="248.8" cy="185.6" r="3.5"/><circle cx="248.8" cy="187.6" r="3.5"/><circle cx="248.8" cy="189.3" r="3.5"/><circle cx="248.8" cy="191.5" r="3.5"/><circle cx="248.8" cy="192.4" r="3.5"/><circle cx="248.8" cy="194.2" r="3.5"/><circle cx="248.8" cy="195.3" r="3.5"/><circle cx="248.8" cy="196.9" r="3.5"/><circle cx="248.8" cy="198.1" r="3.5"/><circle cx="248.8" cy="200.8" r="3.5"/><circle cx="248.8" cy="201.9" r="3.5"/><circle cx="248.8" cy="203.8" r="3.5"/><circle cx="248.8" cy="205.1" r="3.5"/><circle cx="248.8" cy="205.9" r="3.5"/><circle cx="248.8" cy="207.8" r="3.5"/><circle cx="248.8" cy="209.4" r="3.5"/><circle cx="248.8" cy="211.7" r="3.5"/><circle cx="248.8" cy="212.5" r="3.5"/><circle cx="248.8" cy="215.1" r="3.5"/><circle cx="248.8" cy="216.4" r="3.5"/><circle cx="248.8" cy="217.7" r="3.5"/><circle cx="248.8" cy="219.0" r="3.5"/><circle cx="248.8" cy="220.9" r="3.5"/><circle cx="248.8" cy="221.9" r="3.5"/><circle cx="248.8" cy="223.0" r="3.5"/><circle cx="248.8" cy="225.8" r="3.5"/><circle cx="248.8" cy="226.7" r="3.5"/><circle cx="248.8" cy="229.0" r="3.5"/><circle cx="248.8" cy="230.2" r="3.5"/><circle cx="248.8" cy="231.6" r="3.5"/><circle cx="248.8" cy="232.9" r="3.5"/><circle cx="248.8" cy="234.8" r="3.5"/><circle cx="248.8" cy="235.7" r="3.5"/><circle cx="248.8" cy="237.4" r="3.5"/><circle cx="248.8" cy="238.9" r="3.5"/><circle cx="248.8" cy="241.3" r="3.5"/><circle cx="248.8" cy="243.0" r="3.5"/><circle cx="248.8" cy="243.3" r="3.5"/><circle cx="248.8" cy="244.7" r="3.5"/><circle cx="248.8" cy="246.8" r="3.5"/><circle cx="248.8" cy="248.8" r="3.5"/><circle cx="248.8" cy="250.0" r="3.5"/><circle cx="248.8" cy="252.1" r="3.5"/><circle cx="248.8" cy="254.0" r="3.5"/><circle cx="263.7" cy="145.6" r="3.5"/><circle cx="263.7" cy="150.0" r="3.5"/><circle cx="263.7" cy="163.4" r="3.5"/><circle cx="263.7" cy="261.0" r="3.5"/><circle cx="263.7" cy="264.0" r="3.5"/><circle cx="263.7" cy="268.5" r="3.5"/><circle cx="263.7" cy="303.0" r="3.5"/><circle cx="263.7" cy="172.0" r="3.5"/><circle cx="263.7" cy="249.0" r="3.5"/><circle cx="263.7" cy="173.4" r="3.5"/><circle cx="263.7" cy="174.9" r="3.5"/><circle cx="263.7" cy="175.1" r="3.5"/><circle cx="263.7" cy="177.0" r="3.5"/><circle cx="263.7" cy="179.1" r="3.5"/><circle cx="263.7" cy="180.1" r="3.5"/><circle cx="263.7" cy="182.6" r="3.5"/><circle cx="263.7" cy="183.9" r="3.5"/><circle cx="263.7" cy="185.5" r="3.5"/><circle cx="263.7" cy="187.3" r="3.5"/><circle cx="263.7" cy="188.5" r="3.5"/><circle cx="263.7" cy="190.4" r="3.5"/><circle cx="263.7" cy="191.2" r="3.5"/><circle cx="263.7" cy="192.2" r="3.5"/><circle cx="263.7" cy="194.4" r="3.5"/><circle cx="263.7" cy="196.6" r="3.5"/><circle cx="263.7" cy="197.6" r="3.5"/><circle cx="263.7" cy="198.7" r="3.5"/><circle cx="263.7" cy="199.9" r="3.5"/><circle cx="263.7" cy="201.5" r="3.5"/><circle cx="263.7" cy="203.0" r="3.5"/><circle cx="263.7" cy="205.4" r="3.5"/><circle cx="263.7" cy="206.4" r="3.5"/><circle cx="263.7" cy="208.1" r="3.5"/><circle cx="263.7" cy="210.5" r="3.5"/><circle cx="263.7" cy="211.0" r="3.5"/><circle cx="263.7" cy="213.0" r="3.5"/><circle cx="263.7" cy="214.1" r="3.5"/><circle cx="263.7" cy="215.7" r="3.5"/><circle cx="263.7" cy="217.3" r="3.5"/><circle cx="263.7" cy="218.9" r="3.5"/><circle cx="263.7" cy="219.9" r="3.5"/><circle cx="263.7" cy="222.3" r="3.5"/><circle cx="263.7" cy="223.7" r="3.5"/><circle cx="263.7" cy="224.5" r="3.5"/><circle cx="263.7" cy="227.4" r="3.5"/><circle cx="263.7" cy="229.0" r="3.5"/><circle cx="263.7" cy="229.4" r="3.5"/><circle cx="263.7" cy="231.0" r="3.5"/><circle cx="263.7" cy="233.3" r="3.5"/><circle cx="263.7" cy="234.4" r="3.5"/><circle cx="263.7" cy="236.0" r="3.5"/><circle cx="263.7" cy="237.9" r="3.5"/><circle cx="263.7" cy="239.4" r="3.5"/><circle cx="263.7" cy="240.2" r="3.5"/><circle cx="263.7" cy="242.1" r="3.5"/><circle cx="263.7" cy="244.1" r="3.5"/><circle cx="263.7" cy="245.7" r="3.5"/><circle cx="263.7" cy="247.3" r="3.5"/><circle cx="263.7" cy="248.7" r="3.5"/><circle cx="278.5" cy="133.1" r="3.5"/><circle cx="278.5" cy="138.5" r="3.5"/><circle cx="278.5" cy="156.3" r="3.5"/><circle cx="278.5" cy="251.5" r="3.5"/><circle cx="278.5" cy="263.0" r="3.5"/><circle cx="278.5" cy="267.0" r="3.5"/><circle cx="278.5" cy="271.0" r="3.5"/><circle cx="278.5" cy="275.6" r="3.5"/><circle cx="278.5" cy="168.0" r="3.5"/><circle cx="278.5" cy="249.0" r="3.5"/><circle cx="278.5" cy="169.3" r="3.5"/><circle cx="278.5" cy="170.5" r="3.5"/><circle cx="278.5" cy="172.0" r="3.5"/><circle cx="278.5" cy="173.0" r="3.5"/><circle cx="278.5" cy="175.3" r="3.5"/><circle cx="278.5" cy="176.0" r="3.5"/><circle cx="278.5" cy="178.0" r="3.5"/><circle cx="278.5" cy="180.3" r="3.5"/><circle cx="278.5" cy="181.8" r="3.5"/><circle cx="278.5" cy="183.5" r="3.5"/><circle cx="278.5" cy="183.9" r="3.5"/><circle cx="278.5" cy="186.5" r="3.5"/><circle cx="278.5" cy="187.4" r="3.5"/><circle cx="278.5" cy="188.5" r="3.5"/><circle cx="278.5" cy="191.2" r="3.5"/><circle cx="278.5" cy="192.8" r="3.5"/><circle cx="278.5" cy="194.4" r="3.5"/><circle cx="278.5" cy="195.0" r="3.5"/><circle cx="278.5" cy="196.4" r="3.5"/><circle cx="278.5" cy="199.0" r="3.5"/><circle cx="278.5" cy="200.3" r="3.5"/><circle cx="278.5" cy="202.2" r="3.5"/><circle cx="278.5" cy="203.4" r="3.5"/><circle cx="278.5" cy="205.4" r="3.5"/><circle cx="278.5" cy="206.5" r="3.5"/><circle cx="278.5" cy="208.2" r="3.5"/><circle cx="278.5" cy="209.9" r="3.5"/><circle cx="278.5" cy="210.7" r="3.5"/><circle cx="278.5" cy="213.0" r="3.5"/><circle cx="278.5" cy="213.8" r="3.5"/><circle cx="278.5" cy="216.2" r="3.5"/><circle cx="278.5" cy="217.1" r="3.5"/><circle cx="278.5" cy="218.8" r="3.5"/><circle cx="278.5" cy="219.4" r="3.5"/><circle cx="278.5" cy="221.5" r="3.5"/><circle cx="278.5" cy="222.9" r="3.5"/><circle cx="278.5" cy="224.1" r="3.5"/><circle cx="278.5" cy="226.1" r="3.5"/><circle cx="278.5" cy="227.6" r="3.5"/><circle cx="278.5" cy="228.9" r="3.5"/><circle cx="278.5" cy="230.7" r="3.5"/><circle cx="278.5" cy="233.2" r="3.5"/><circle cx="278.5" cy="233.8" r="3.5"/><circle cx="278.5" cy="236.1" r="3.5"/><circle cx="278.5" cy="238.1" r="3.5"/><circle cx="278.5" cy="238.1" r="3.5"/><circle cx="278.5" cy="240.8" r="3.5"/><circle cx="278.5" cy="241.4" r="3.5"/><circle cx="278.5" cy="243.1" r="3.5"/><circle cx="278.5" cy="244.8" r="3.5"/><circle cx="278.5" cy="247.3" r="3.5"/><circle cx="278.5" cy="248.8" r="3.5"/><circle cx="293.4" cy="134.5" r="3.5"/><circle cx="293.4" cy="146.7" r="3.5"/><circle cx="293.4" cy="266.3" r="3.5"/><circle cx="293.4" cy="156.0" r="3.5"/><circle cx="293.4" cy="248.5" r="3.5"/><circle cx="293.4" cy="156.9" r="3.5"/><circle cx="293.4" cy="159.0" r="3.5"/><circle cx="293.4" cy="160.5" r="3.5"/><circle cx="293.4" cy="160.9" r="3.5"/><circle cx="293.4" cy="162.3" r="3.5"/><circle cx="293.4" cy="164.0" r="3.5"/><circle cx="293.4" cy="166.0" r="3.5"/><circle cx="293.4" cy="167.9" r="3.5"/><circle cx="293.4" cy="169.7" r="3.5"/><circle cx="293.4" cy="171.0" r="3.5"/><circle cx="293.4" cy="172.4" r="3.5"/><circle cx="293.4" cy="173.9" r="3.5"/><circle cx="293.4" cy="175.5" r="3.5"/><circle cx="293.4" cy="176.7" r="3.5"/><circle cx="293.4" cy="178.6" r="3.5"/><circle cx="293.4" cy="180.4" r="3.5"/><circle cx="293.4" cy="182.0" r="3.5"/><circle cx="293.4" cy="183.3" r="3.5"/><circle cx="293.4" cy="184.8" r="3.5"/><circle cx="293.4" cy="185.4" r="3.5"/><circle cx="293.4" cy="187.3" r="3.5"/><circle cx="293.4" cy="189.1" r="3.5"/><circle cx="293.4" cy="190.4" r="3.5"/><circle cx="293.4" cy="191.8" r="3.5"/><circle cx="293.4" cy="193.6" r="3.5"/><circle cx="293.4" cy="195.8" r="3.5"/><circle cx="293.4" cy="196.5" r="3.5"/><circle cx="293.4" cy="199.1" r="3.5"/><circle cx="293.4" cy="199.2" r="3.5"/><circle cx="293.4" cy="201.4" r="3.5"/><circle cx="293.4" cy="203.4" r="3.5"/><circle cx="293.4" cy="205.0" r="3.5"/><circle cx="293.4" cy="205.4" r="3.5"/><circle cx="293.4" cy="207.1" r="3.5"/><circle cx="293.4" cy="208.5" r="3.5"/><circle cx="293.4" cy="210.8" r="3.5"/><circle cx="293.4" cy="211.6" r="3.5"/><circle cx="293.4" cy="213.7" r="3.5"/><circle cx="293.4" cy="215.0" r="3.5"/><circle cx="293.4" cy="216.3" r="3.5"/><circle cx="293.4" cy="218.2" r="3.5"/><circle cx="293.4" cy="219.9" r="3.5"/><circle cx="293.4" cy="221.6" r="3.5"/><circle cx="293.4" cy="222.8" r="3.5"/><circle cx="293.4" cy="223.9" r="3.5"/><circle cx="293.4" cy="225.9" r="3.5"/><circle cx="293.4" cy="228.0" r="3.5"/><circle cx="293.4" cy="228.5" r="3.5"/><circle cx="293.4" cy="230.8" r="3.5"/><circle cx="293.4" cy="231.6" r="3.5"/><circle cx="293.4" cy="234.4" r="3.5"/><circle cx="293.4" cy="234.9" r="3.5"/><circle cx="293.4" cy="237.0" r="3.5"/><circle cx="293.4" cy="237.8" r="3.5"/><circle cx="293.4" cy="240.1" r="3.5"/><circle cx="293.4" cy="242.0" r="3.5"/><circle cx="293.4" cy="243.7" r="3.5"/><circle cx="293.4" cy="245.1" r="3.5"/><circle cx="293.4" cy="246.8" r="3.5"/><circle cx="293.4" cy="247.0" r="3.5"/><circle cx="308.2" cy="106.0" r="3.5"/><circle cx="308.2" cy="125.3" r="3.5"/><circle cx="308.2" cy="134.5" r="3.5"/><circle cx="308.2" cy="145.2" r="3.5"/><circle cx="308.2" cy="270.0" r="3.5"/><circle cx="308.2" cy="308.2" r="3.5"/><circle cx="308.2" cy="148.8" r="3.5"/><circle cx="308.2" cy="250.3" r="3.5"/><circle cx="308.2" cy="150.1" r="3.5"/><circle cx="308.2" cy="151.7" r="3.5"/><circle cx="308.2" cy="152.4" r="3.5"/><circle cx="308.2" cy="153.6" r="3.5"/><circle cx="308.2" cy="155.2" r="3.5"/><circle cx="308.2" cy="156.8" r="3.5"/><circle cx="308.2" cy="159.3" r="3.5"/><circle cx="308.2" cy="159.9" r="3.5"/><circle cx="308.2" cy="162.5" r="3.5"/><circle cx="308.2" cy="162.9" r="3.5"/><circle cx="308.2" cy="165.5" r="3.5"/><circle cx="308.2" cy="166.4" r="3.5"/><circle cx="308.2" cy="168.5" r="3.5"/><circle cx="308.2" cy="170.3" r="3.5"/><circle cx="308.2" cy="171.7" r="3.5"/><circle cx="308.2" cy="172.3" r="3.5"/><circle cx="308.2" cy="173.8" r="3.5"/><circle cx="308.2" cy="175.9" r="3.5"/><circle cx="308.2" cy="178.3" r="3.5"/><circle cx="308.2" cy="179.2" r="3.5"/><circle cx="308.2" cy="180.4" r="3.5"/><circle cx="308.2" cy="182.3" r="3.5"/><circle cx="308.2" cy="184.4" r="3.5"/><circle cx="308.2" cy="185.0" r="3.5"/><circle cx="308.2" cy="186.5" r="3.5"/><circle cx="308.2" cy="189.3" r="3.5"/><circle cx="308.2" cy="190.1" r="3.5"/><circle cx="308.2" cy="191.7" r="3.5"/><circle cx="308.2" cy="193.0" r="3.5"/><circle cx="308.2" cy="194.5" r="3.5"/><circle cx="308.2" cy="197.0" r="3.5"/><circle cx="308.2" cy="198.5" r="3.5"/><circle cx="308.2" cy="199.2" r="3.5"/><circle cx="308.2" cy="201.5" r="3.5"/><circle cx="308.2" cy="203.3" r="3.5"/><circle cx="308.2" cy="204.1" r="3.5"/><circle cx="308.2" cy="206.5" r="3.5"/><circle cx="308.2" cy="206.7" r="3.5"/><circle cx="308.2" cy="209.4" r="3.5"/><circle cx="308.2" cy="211.0" r="3.5"/><circle cx="308.2" cy="211.7" r="3.5"/><circle cx="308.2" cy="213.3" r="3.5"/><circle cx="308.2" cy="214.8" r="3.5"/><circle cx="308.2" cy="216.2" r="3.5"/><circle cx="308.2" cy="218.8" r="3.5"/><circle cx="308.2" cy="220.2" r="3.5"/><circle cx="308.2" cy="221.9" r="3.5"/><circle cx="308.2" cy="223.2" r="3.5"/><circle cx="308.2" cy="224.2" r="3.5"/><circle cx="308.2" cy="225.5" r="3.5"/><circle cx="308.2" cy="227.3" r="3.5"/><circle cx="308.2" cy="229.7" r="3.5"/><circle cx="308.2" cy="230.0" r="3.5"/><circle cx="308.2" cy="232.4" r="3.5"/><circle cx="308.2" cy="233.6" r="3.5"/><circle cx="308.2" cy="235.1" r="3.5"/><circle cx="308.2" cy="236.8" r="3.5"/><circle cx="308.2" cy="238.7" r="3.5"/><circle cx="308.2" cy="239.6" r="3.5"/><circle cx="308.2" cy="241.2" r="3.5"/><circle cx="308.2" cy="243.8" r="3.5"/><circle cx="308.2" cy="245.2" r="3.5"/><circle cx="308.2" cy="246.2" r="3.5"/><circle cx="308.2" cy="247.6" r="3.5"/><circle cx="308.2" cy="249.7" r="3.5"/><circle cx="323.1" cy="88.2" r="3.5"/><circle cx="323.1" cy="122.4" r="3.5"/><circle cx="323.1" cy="137.2" r="3.5"/><circle cx="323.1" cy="148.0" r="3.5"/><circle cx="323.1" cy="151.5" r="3.5"/><circle cx="323.1" cy="234.0" r="3.5"/><circle cx="323.1" cy="152.9" r="3.5"/><circle cx="323.1" cy="153.8" r="3.5"/><circle cx="323.1" cy="154.9" r="3.5"/><circle cx="323.1" cy="156.6" r="3.5"/><circle cx="323.1" cy="158.0" r="3.5"/><circle cx="323.1" cy="160.6" r="3.5"/><circle cx="323.1" cy="162.0" r="3.5"/><circle cx="323.1" cy="162.9" r="3.5"/><circle cx="323.1" cy="164.4" r="3.5"/><circle cx="323.1" cy="165.7" r="3.5"/><circle cx="323.1" cy="167.8" r="3.5"/><circle cx="323.1" cy="170.1" r="3.5"/><circle cx="323.1" cy="171.4" r="3.5"/><circle cx="323.1" cy="173.2" r="3.5"/><circle cx="323.1" cy="173.4" r="3.5"/><circle cx="323.1" cy="176.3" r="3.5"/><circle cx="323.1" cy="177.8" r="3.5"/><circle cx="323.1" cy="179.2" r="3.5"/><circle cx="323.1" cy="179.7" r="3.5"/><circle cx="323.1" cy="182.4" r="3.5"/><circle cx="323.1" cy="184.2" r="3.5"/><circle cx="323.1" cy="185.3" r="3.5"/><circle cx="323.1" cy="186.5" r="3.5"/><circle cx="323.1" cy="187.8" r="3.5"/><circle cx="323.1" cy="190.2" r="3.5"/><circle cx="323.1" cy="191.3" r="3.5"/><circle cx="323.1" cy="192.5" r="3.5"/><circle cx="323.1" cy="193.7" r="3.5"/><circle cx="323.1" cy="195.1" r="3.5"/><circle cx="323.1" cy="197.7" r="3.5"/><circle cx="323.1" cy="198.7" r="3.5"/><circle cx="323.1" cy="200.0" r="3.5"/><circle cx="323.1" cy="201.8" r="3.5"/><circle cx="323.1" cy="203.6" r="3.5"/><circle cx="323.1" cy="205.7" r="3.5"/><circle cx="323.1" cy="206.7" r="3.5"/><circle cx="323.1" cy="207.7" r="3.5"/><circle cx="323.1" cy="210.4" r="3.5"/><circle cx="323.1" cy="211.7" r="3.5"/><circle cx="323.1" cy="213.1" r="3.5"/><circle cx="323.1" cy="215.2" r="3.5"/><circle cx="323.1" cy="216.0" r="3.5"/><circle cx="323.1" cy="217.5" r="3.5"/><circle cx="323.1" cy="218.5" r="3.5"/><circle cx="323.1" cy="221.1" r="3.5"/><circle cx="323.1" cy="222.5" r="3.5"/><circle cx="323.1" cy="224.6" r="3.5"/><circle cx="323.1" cy="224.7" r="3.5"/><circle cx="323.1" cy="226.9" r="3.5"/><circle cx="323.1" cy="228.5" r="3.5"/><circle cx="323.1" cy="230.0" r="3.5"/><circle cx="323.1" cy="231.0" r="3.5"/><circle cx="323.1" cy="233.7" r="3.5"/><circle cx="337.9" cy="95.8" r="3.5"/><circle cx="337.9" cy="131.8" r="3.5"/><circle cx="337.9" cy="245.7" r="3.5"/><circle cx="337.9" cy="134.5" r="3.5"/><circle cx="337.9" cy="221.7" r="3.5"/><circle cx="337.9" cy="135.9" r="3.5"/><circle cx="337.9" cy="136.3" r="3.5"/><circle cx="337.9" cy="138.8" r="3.5"/><circle cx="337.9" cy="140.7" r="3.5"/><circle cx="337.9" cy="140.8" r="3.5"/><circle cx="337.9" cy="143.3" r="3.5"/><circle cx="337.9" cy="145.4" r="3.5"/><circle cx="337.9" cy="145.6" r="3.5"/><circle cx="337.9" cy="147.8" r="3.5"/><circle cx="337.9" cy="149.9" r="3.5"/><circle cx="337.9" cy="150.5" r="3.5"/><circle cx="337.9" cy="152.0" r="3.5"/><circle cx="337.9" cy="154.3" r="3.5"/><circle cx="337.9" cy="156.0" r="3.5"/><circle cx="337.9" cy="157.8" r="3.5"/><circle cx="337.9" cy="158.9" r="3.5"/><circle cx="337.9" cy="159.5" r="3.5"/><circle cx="337.9" cy="162.3" r="3.5"/><circle cx="337.9" cy="163.0" r="3.5"/><circle cx="337.9" cy="165.0" r="3.5"/><circle cx="337.9" cy="166.8" r="3.5"/><circle cx="337.9" cy="168.7" r="3.5"/><circle cx="337.9" cy="169.6" r="3.5"/><circle cx="337.9" cy="170.5" r="3.5"/><circle cx="337.9" cy="172.7" r="3.5"/><circle cx="337.9" cy="174.3" r="3.5"/><circle cx="337.9" cy="176.2" r="3.5"/><circle cx="337.9" cy="176.8" r="3.5"/><circle cx="337.9" cy="179.0" r="3.5"/><circle cx="337.9" cy="179.7" r="3.5"/><circle cx="337.9" cy="182.7" r="3.5"/><circle cx="337.9" cy="182.8" r="3.5"/><circle cx="337.9" cy="185.2" r="3.5"/><circle cx="337.9" cy="186.2" r="3.5"/><circle cx="337.9" cy="187.9" r="3.5"/><circle cx="337.9" cy="189.6" r="3.5"/><circle cx="337.9" cy="191.0" r="3.5"/><circle cx="337.9" cy="192.5" r="3.5"/><circle cx="337.9" cy="194.2" r="3.5"/><circle cx="337.9" cy="196.0" r="3.5"/><circle cx="337.9" cy="198.3" r="3.5"/><circle cx="337.9" cy="198.7" r="3.5"/><circle cx="337.9" cy="200.2" r="3.5"/><circle cx="337.9" cy="201.5" r="3.5"/><circle cx="337.9" cy="204.4" r="3.5"/><circle cx="337.9" cy="205.8" r="3.5"/><circle cx="337.9" cy="207.4" r="3.5"/><circle cx="337.9" cy="207.9" r="3.5"/><circle cx="337.9" cy="209.9" r="3.5"/><circle cx="337.9" cy="211.8" r="3.5"/><circle cx="337.9" cy="213.2" r="3.5"/><circle cx="337.9" cy="215.1" r="3.5"/><circle cx="337.9" cy="215.8" r="3.5"/><circle cx="337.9" cy="218.4" r="3.5"/><circle cx="337.9" cy="219.5" r="3.5"/><circle cx="337.9" cy="221.1" r="3.5"/><circle cx="352.8" cy="107.4" r="3.5"/><circle cx="352.8" cy="127.0" r="3.5"/><circle cx="352.8" cy="132.4" r="3.5"/><circle cx="352.8" cy="148.4" r="3.5"/><circle cx="352.8" cy="215.0" r="3.5"/><circle cx="352.8" cy="293.9" r="3.5"/><circle cx="352.8" cy="152.0" r="3.5"/><circle cx="352.8" cy="203.0" r="3.5"/><circle cx="352.8" cy="153.4" r="3.5"/><circle cx="352.8" cy="154.4" r="3.5"/><circle cx="352.8" cy="155.2" r="3.5"/><circle cx="352.8" cy="157.5" r="3.5"/><circle cx="352.8" cy="158.9" r="3.5"/><circle cx="352.8" cy="159.8" r="3.5"/><circle cx="352.8" cy="161.8" r="3.5"/><circle cx="352.8" cy="164.1" r="3.5"/><circle cx="352.8" cy="165.3" r="3.5"/><circle cx="352.8" cy="167.3" r="3.5"/><circle cx="352.8" cy="168.6" r="3.5"/><circle cx="352.8" cy="169.3" r="3.5"/><circle cx="352.8" cy="171.6" r="3.5"/><circle cx="352.8" cy="172.2" r="3.5"/><circle cx="352.8" cy="175.0" r="3.5"/><circle cx="352.8" cy="175.6" r="3.5"/><circle cx="352.8" cy="178.2" r="3.5"/><circle cx="352.8" cy="178.3" r="3.5"/><circle cx="352.8" cy="181.0" r="3.5"/><circle cx="352.8" cy="181.5" r="3.5"/><circle cx="352.8" cy="184.2" r="3.5"/><circle cx="352.8" cy="185.7" r="3.5"/><circle cx="352.8" cy="186.8" r="3.5"/><circle cx="352.8" cy="188.4" r="3.5"/><circle cx="352.8" cy="189.4" r="3.5"/><circle cx="352.8" cy="191.2" r="3.5"/><circle cx="352.8" cy="192.4" r="3.5"/><circle cx="352.8" cy="194.3" r="3.5"/><circle cx="352.8" cy="195.5" r="3.5"/><circle cx="352.8" cy="197.8" r="3.5"/><circle cx="352.8" cy="199.1" r="3.5"/><circle cx="352.8" cy="200.5" r="3.5"/><circle cx="352.8" cy="202.0" r="3.5"/><circle cx="367.6" cy="102.0" r="3.5"/><circle cx="367.6" cy="111.0" r="3.5"/><circle cx="367.6" cy="123.4" r="3.5"/><circle cx="367.6" cy="225.6" r="3.5"/><circle cx="367.6" cy="148.0" r="3.5"/><circle cx="367.6" cy="216.0" r="3.5"/><circle cx="367.6" cy="148.8" r="3.5"/><circle cx="367.6" cy="150.9" r="3.5"/><circle cx="367.6" cy="151.1" r="3.5"/><circle cx="367.6" cy="152.8" r="3.5"/><circle cx="367.6" cy="154.8" r="3.5"/><circle cx="367.6" cy="156.7" r="3.5"/><circle cx="367.6" cy="157.9" r="3.5"/><circle cx="367.6" cy="159.2" r="3.5"/><circle cx="367.6" cy="161.6" r="3.5"/><circle cx="367.6" cy="163.2" r="3.5"/><circle cx="367.6" cy="164.5" r="3.5"/><circle cx="367.6" cy="165.2" r="3.5"/><circle cx="367.6" cy="167.7" r="3.5"/><circle cx="367.6" cy="169.0" r="3.5"/><circle cx="367.6" cy="170.8" r="3.5"/><circle cx="367.6" cy="172.3" r="3.5"/><circle cx="367.6" cy="173.6" r="3.5"/><circle cx="367.6" cy="174.9" r="3.5"/><circle cx="367.6" cy="177.1" r="3.5"/><circle cx="367.6" cy="178.8" r="3.5"/><circle cx="367.6" cy="180.4" r="3.5"/><circle cx="367.6" cy="180.9" r="3.5"/><circle cx="367.6" cy="182.3" r="3.5"/><circle cx="367.6" cy="183.8" r="3.5"/><circle cx="367.6" cy="186.1" r="3.5"/><circle cx="367.6" cy="188.1" r="3.5"/><circle cx="367.6" cy="188.6" r="3.5"/><circle cx="367.6" cy="190.4" r="3.5"/><circle cx="367.6" cy="192.1" r="3.5"/><circle cx="367.6" cy="193.5" r="3.5"/><circle cx="367.6" cy="195.2" r="3.5"/><circle cx="367.6" cy="196.5" r="3.5"/><circle cx="367.6" cy="198.4" r="3.5"/><circle cx="367.6" cy="200.5" r="3.5"/><circle cx="367.6" cy="201.7" r="3.5"/><circle cx="367.6" cy="203.6" r="3.5"/><circle cx="367.6" cy="204.3" r="3.5"/><circle cx="367.6" cy="205.4" r="3.5"/><circle cx="367.6" cy="207.0" r="3.5"/><circle cx="367.6" cy="208.6" r="3.5"/><circle cx="367.6" cy="211.0" r="3.5"/><circle cx="367.6" cy="211.7" r="3.5"/><circle cx="367.6" cy="213.8" r="3.5"/><circle cx="367.6" cy="215.9" r="3.5"/><circle cx="382.5" cy="214.0" r="3.5"/><circle cx="382.5" cy="218.0" r="3.5"/><circle cx="382.5" cy="222.6" r="3.5"/><circle cx="382.5" cy="123.0" r="3.5"/><circle cx="382.5" cy="200.0" r="3.5"/><circle cx="382.5" cy="123.5" r="3.5"/><circle cx="382.5" cy="125.8" r="3.5"/><circle cx="382.5" cy="127.4" r="3.5"/><circle cx="382.5" cy="129.1" r="3.5"/><circle cx="382.5" cy="129.8" r="3.5"/><circle cx="382.5" cy="130.8" r="3.5"/><circle cx="382.5" cy="132.3" r="3.5"/><circle cx="382.5" cy="135.0" r="3.5"/><circle cx="382.5" cy="135.9" r="3.5"/><circle cx="382.5" cy="137.1" r="3.5"/><circle cx="382.5" cy="138.8" r="3.5"/><circle cx="382.5" cy="140.1" r="3.5"/><circle cx="382.5" cy="142.9" r="3.5"/><circle cx="382.5" cy="143.7" r="3.5"/><circle cx="382.5" cy="145.3" r="3.5"/><circle cx="382.5" cy="146.4" r="3.5"/><circle cx="382.5" cy="148.4" r="3.5"/><circle cx="382.5" cy="149.6" r="3.5"/><circle cx="382.5" cy="152.2" r="3.5"/><circle cx="382.5" cy="153.6" r="3.5"/><circle cx="382.5" cy="154.9" r="3.5"/><circle cx="382.5" cy="156.2" r="3.5"/><circle cx="382.5" cy="158.0" r="3.5"/><circle cx="382.5" cy="158.6" r="3.5"/><circle cx="382.5" cy="160.5" r="3.5"/><circle cx="382.5" cy="162.9" r="3.5"/><circle cx="382.5" cy="164.3" r="3.5"/><circle cx="382.5" cy="165.1" r="3.5"/><circle cx="382.5" cy="166.7" r="3.5"/><circle cx="382.5" cy="167.9" r="3.5"/><circle cx="382.5" cy="169.2" r="3.5"/><circle cx="382.5" cy="172.2" r="3.5"/><circle cx="382.5" cy="172.6" r="3.5"/><circle cx="382.5" cy="175.1" r="3.5"/><circle cx="382.5" cy="175.6" r="3.5"/><circle cx="382.5" cy="177.6" r="3.5"/><circle cx="382.5" cy="179.3" r="3.5"/><circle cx="382.5" cy="180.3" r="3.5"/><circle cx="382.5" cy="182.0" r="3.5"/><circle cx="382.5" cy="183.3" r="3.5"/><circle cx="382.5" cy="184.6" r="3.5"/><circle cx="382.5" cy="186.7" r="3.5"/><circle cx="382.5" cy="189.0" r="3.5"/><circle cx="382.5" cy="189.6" r="3.5"/><circle cx="382.5" cy="191.4" r="3.5"/><circle cx="382.5" cy="192.9" r="3.5"/><circle cx="382.5" cy="194.6" r="3.5"/><circle cx="382.5" cy="195.7" r="3.5"/><circle cx="382.5" cy="197.0" r="3.5"/><circle cx="382.5" cy="199.0" r="3.5"/><circle cx="397.3" cy="77.4" r="3.5"/><circle cx="397.3" cy="92.2" r="3.5"/><circle cx="397.3" cy="121.7" r="3.5"/><circle cx="397.3" cy="193.7" r="3.5"/><circle cx="397.3" cy="122.4" r="3.5"/><circle cx="397.3" cy="123.6" r="3.5"/><circle cx="397.3" cy="125.0" r="3.5"/><circle cx="397.3" cy="127.5" r="3.5"/><circle cx="397.3" cy="128.8" r="3.5"/><circle cx="397.3" cy="130.1" r="3.5"/><circle cx="397.3" cy="132.2" r="3.5"/><circle cx="397.3" cy="134.0" r="3.5"/><circle cx="397.3" cy="134.8" r="3.5"/><circle cx="397.3" cy="136.6" r="3.5"/><circle cx="397.3" cy="138.7" r="3.5"/><circle cx="397.3" cy="139.3" r="3.5"/><circle cx="397.3" cy="141.2" r="3.5"/><circle cx="397.3" cy="142.8" r="3.5"/><circle cx="397.3" cy="144.2" r="3.5"/><circle cx="397.3" cy="146.1" r="3.5"/><circle cx="397.3" cy="148.0" r="3.5"/><circle cx="397.3" cy="149.7" r="3.5"/><circle cx="397.3" cy="150.5" r="3.5"/><circle cx="397.3" cy="151.9" r="3.5"/><circle cx="397.3" cy="154.2" r="3.5"/><circle cx="397.3" cy="155.7" r="3.5"/><circle cx="397.3" cy="156.6" r="3.5"/><circle cx="397.3" cy="158.4" r="3.5"/><circle cx="397.3" cy="159.7" r="3.5"/><circle cx="397.3" cy="161.7" r="3.5"/><circle cx="397.3" cy="162.7" r="3.5"/><circle cx="397.3" cy="164.1" r="3.5"/><circle cx="397.3" cy="165.9" r="3.5"/><circle cx="397.3" cy="167.2" r="3.5"/><circle cx="397.3" cy="169.1" r="3.5"/><circle cx="397.3" cy="170.7" r="3.5"/><circle cx="397.3" cy="172.3" r="3.5"/><circle cx="397.3" cy="174.8" r="3.5"/><circle cx="397.3" cy="176.1" r="3.5"/><circle cx="397.3" cy="176.9" r="3.5"/><circle cx="397.3" cy="179.5" r="3.5"/><circle cx="397.3" cy="180.4" r="3.5"/><circle cx="397.3" cy="181.2" r="3.5"/><circle cx="397.3" cy="183.5" r="3.5"/><circle cx="397.3" cy="184.4" r="3.5"/><circle cx="397.3" cy="186.3" r="3.5"/><circle cx="397.3" cy="188.9" r="3.5"/><circle cx="397.3" cy="189.8" r="3.5"/><circle cx="397.3" cy="192.1" r="3.5"/><circle cx="397.3" cy="192.8" r="3.5"/><circle cx="412.2" cy="90.4" r="3.5"/><circle cx="412.2" cy="91.9" r="3.5"/><circle cx="412.2" cy="197.4" r="3.5"/><circle cx="412.2" cy="115.6" r="3.5"/><circle cx="412.2" cy="182.8" r="3.5"/><circle cx="412.2" cy="116.8" r="3.5"/><circle cx="412.2" cy="118.2" r="3.5"/><circle cx="412.2" cy="120.0" r="3.5"/><circle cx="412.2" cy="121.7" r="3.5"/><circle cx="412.2" cy="123.0" r="3.5"/><circle cx="412.2" cy="124.7" r="3.5"/><circle cx="412.2" cy="125.4" r="3.5"/><circle cx="412.2" cy="127.3" r="3.5"/><circle cx="412.2" cy="129.0" r="3.5"/><circle cx="412.2" cy="130.3" r="3.5"/><circle cx="412.2" cy="132.0" r="3.5"/><circle cx="412.2" cy="133.5" r="3.5"/><circle cx="412.2" cy="135.2" r="3.5"/><circle cx="412.2" cy="136.0" r="3.5"/><circle cx="412.2" cy="137.7" r="3.5"/><circle cx="412.2" cy="140.2" r="3.5"/><circle cx="412.2" cy="142.0" r="3.5"/><circle cx="412.2" cy="142.5" r="3.5"/><circle cx="412.2" cy="143.9" r="3.5"/><circle cx="412.2" cy="145.7" r="3.5"/><circle cx="412.2" cy="148.2" r="3.5"/><circle cx="412.2" cy="149.1" r="3.5"/><circle cx="412.2" cy="151.5" r="3.5"/><circle cx="412.2" cy="152.3" r="3.5"/><circle cx="412.2" cy="153.3" r="3.5"/><circle cx="412.2" cy="155.9" r="3.5"/><circle cx="412.2" cy="156.4" r="3.5"/><circle cx="412.2" cy="158.9" r="3.5"/><circle cx="412.2" cy="160.9" r="3.5"/><circle cx="412.2" cy="162.1" r="3.5"/><circle cx="412.2" cy="163.8" r="3.5"/><circle cx="412.2" cy="164.7" r="3.5"/><circle cx="412.2" cy="165.7" r="3.5"/><circle cx="412.2" cy="167.5" r="3.5"/><circle cx="412.2" cy="170.1" r="3.5"/><circle cx="412.2" cy="171.5" r="3.5"/><circle cx="412.2" cy="172.8" r="3.5"/><circle cx="412.2" cy="173.7" r="3.5"/><circle cx="412.2" cy="175.7" r="3.5"/><circle cx="412.2" cy="177.8" r="3.5"/><circle cx="412.2" cy="178.3" r="3.5"/><circle cx="412.2" cy="181.1" r="3.5"/><circle cx="412.2" cy="181.4" r="3.5"/><circle cx="427.1" cy="96.5" r="3.5"/><circle cx="427.1" cy="104.6" r="3.5"/><circle cx="427.1" cy="184.4" r="3.5"/><circle cx="427.1" cy="187.0" r="3.5"/><circle cx="427.1" cy="190.5" r="3.5"/><circle cx="427.1" cy="198.0" r="3.5"/><circle cx="427.1" cy="206.0" r="3.5"/><circle cx="427.1" cy="248.3" r="3.5"/><circle cx="427.1" cy="112.5" r="3.5"/><circle cx="427.1" cy="182.8" r="3.5"/><circle cx="427.1" cy="112.7" r="3.5"/><circle cx="427.1" cy="114.2" r="3.5"/><circle cx="427.1" cy="116.2" r="3.5"/><circle cx="427.1" cy="117.3" r="3.5"/><circle cx="427.1" cy="119.6" r="3.5"/><circle cx="427.1" cy="120.4" r="3.5"/><circle cx="427.1" cy="122.7" r="3.5"/><circle cx="427.1" cy="123.9" r="3.5"/><circle cx="427.1" cy="125.1" r="3.5"/><circle cx="427.1" cy="126.6" r="3.5"/><circle cx="427.1" cy="129.0" r="3.5"/><circle cx="427.1" cy="130.8" r="3.5"/><circle cx="427.1" cy="131.5" r="3.5"/><circle cx="427.1" cy="133.7" r="3.5"/><circle cx="427.1" cy="134.5" r="3.5"/><circle cx="427.1" cy="136.7" r="3.5"/><circle cx="427.1" cy="138.8" r="3.5"/><circle cx="427.1" cy="139.4" r="3.5"/><circle cx="427.1" cy="141.3" r="3.5"/><circle cx="427.1" cy="143.6" r="3.5"/><circle cx="427.1" cy="144.2" r="3.5"/><circle cx="427.1" cy="146.5" r="3.5"/><circle cx="427.1" cy="147.0" r="3.5"/><circle cx="427.1" cy="148.9" r="3.5"/><circle cx="427.1" cy="151.2" r="3.5"/><circle cx="427.1" cy="152.9" r="3.5"/><circle cx="427.1" cy="153.6" r="3.5"/><circle cx="427.1" cy="155.3" r="3.5"/><circle cx="427.1" cy="156.8" r="3.5"/><circle cx="427.1" cy="158.1" r="3.5"/><circle cx="427.1" cy="159.9" r="3.5"/><circle cx="427.1" cy="162.2" r="3.5"/><circle cx="427.1" cy="163.4" r="3.5"/><circle cx="427.1" cy="165.4" r="3.5"/><circle cx="427.1" cy="166.5" r="3.5"/><circle cx="427.1" cy="168.2" r="3.5"/><circle cx="427.1" cy="169.6" r="3.5"/><circle cx="427.1" cy="170.6" r="3.5"/><circle cx="427.1" cy="172.6" r="3.5"/><circle cx="427.1" cy="174.0" r="3.5"/><circle cx="427.1" cy="175.3" r="3.5"/><circle cx="427.1" cy="177.0" r="3.5"/><circle cx="427.1" cy="179.6" r="3.5"/><circle cx="427.1" cy="181.2" r="3.5"/><circle cx="427.1" cy="182.7" r="3.5"/><circle cx="441.9" cy="100.3" r="3.5"/><circle cx="441.9" cy="117.0" r="3.5"/><circle cx="441.9" cy="121.0" r="3.5"/><circle cx="441.9" cy="126.0" r="3.5"/><circle cx="441.9" cy="131.0" r="3.5"/><circle cx="441.9" cy="143.0" r="3.5"/><circle cx="441.9" cy="147.0" r="3.5"/><circle cx="441.9" cy="170.6" r="3.5"/><circle cx="441.9" cy="174.0" r="3.5"/><circle cx="441.9" cy="178.0" r="3.5"/><circle cx="441.9" cy="182.0" r="3.5"/><circle cx="441.9" cy="184.4" r="3.5"/><circle cx="441.9" cy="195.0" r="3.5"/><circle cx="441.9" cy="150.0" r="3.5"/><circle cx="441.9" cy="170.0" r="3.5"/><circle cx="441.9" cy="151.5" r="3.5"/><circle cx="441.9" cy="156.1" r="3.5"/><circle cx="441.9" cy="157.5" r="3.5"/><circle cx="441.9" cy="163.2" r="3.5"/><circle cx="441.9" cy="165.8" r="3.5"/><circle cx="441.9" cy="167.3" r="3.5"/><circle cx="456.8" cy="146.4" r="3.5"/><circle cx="456.8" cy="150.7" r="3.5"/><circle cx="456.8" cy="182.8" r="3.5"/><circle cx="456.8" cy="184.6" r="3.5"/></g><g fill="none" stroke="#000" stroke-width="1.4"><circle cx="54.9" cy="661.6" r="3.5"/><circle cx="54.9" cy="663.0" r="3.5"/><circle cx="69.8" cy="679.0" r="3.5"/><circle cx="84.6" cy="581.0" r="3.5"/><circle cx="84.6" cy="612.0" r="3.5"/><circle cx="84.6" cy="618.0" r="3.5"/><circle cx="84.6" cy="625.3" r="3.5"/><circle cx="84.6" cy="632.6" r="3.5"/><circle cx="84.6" cy="643.5" r="3.5"/><circle cx="84.6" cy="698.0" r="3.5"/><circle cx="84.6" cy="702.0" r="3.5"/><circle cx="84.6" cy="706.0" r="3.5"/><circle cx="84.6" cy="710.0" r="3.5"/><circle cx="84.6" cy="730.9" r="3.5"/><circle cx="84.6" cy="648.3" r="3.5"/><circle cx="84.6" cy="690.7" r="3.5"/><circle cx="84.6" cy="649.5" r="3.5"/><circle cx="84.6" cy="650.6" r="3.5"/><circle cx="84.6" cy="652.0" r="3.5"/><circle cx="84.6" cy="653.8" r="3.5"/><circle cx="84.6" cy="656.1" r="3.5"/><circle cx="84.6" cy="658.8" r="3.5"/><circle cx="84.6" cy="659.3" r="3.5"/><circle cx="84.6" cy="661.6" r="3.5"/><circle cx="84.6" cy="663.2" r="3.5"/><circle cx="84.6" cy="664.5" r="3.5"/><circle cx="84.6" cy="667.2" r="3.5"/><circle cx="84.6" cy="668.3" r="3.5"/><circle cx="84.6" cy="669.6" r="3.5"/><circle cx="84.6" cy="672.8" r="3.5"/><circle cx="84.6" cy="674.4" r="3.5"/><circle cx="84.6" cy="674.9" r="3.5"/><circle cx="84.6" cy="677.4" r="3.5"/><circle cx="84.6" cy="678.9" r="3.5"/><circle cx="84.6" cy="681.3" r="3.5"/><circle cx="84.6" cy="682.4" r="3.5"/><circle cx="84.6" cy="684.9" r="3.5"/><circle cx="84.6" cy="685.5" r="3.5"/><circle cx="84.6" cy="688.8" r="3.5"/><circle cx="84.6" cy="690.1" r="3.5"/><circle cx="99.4" cy="618.0" r="3.5"/><circle cx="99.4" cy="627.8" r="3.5"/><circle cx="99.4" cy="702.8" r="3.5"/><circle cx="99.4" cy="628.5" r="3.5"/><circle cx="99.4" cy="631.0" r="3.5"/><circle cx="99.4" cy="632.7" r="3.5"/><circle cx="99.4" cy="633.7" r="3.5"/><circle cx="99.4" cy="635.1" r="3.5"/><circle cx="99.4" cy="637.9" r="3.5"/><circle cx="99.4" cy="639.3" r="3.5"/><circle cx="99.4" cy="641.8" r="3.5"/><circle cx="99.4" cy="642.4" r="3.5"/><circle cx="99.4" cy="645.4" r="3.5"/><circle cx="99.4" cy="647.2" r="3.5"/><circle cx="99.4" cy="647.8" r="3.5"/><circle cx="99.4" cy="649.7" r="3.5"/><circle cx="99.4" cy="652.1" r="3.5"/><circle cx="99.4" cy="653.3" r="3.5"/><circle cx="99.4" cy="655.5" r="3.5"/><circle cx="99.4" cy="657.3" r="3.5"/><circle cx="99.4" cy="658.9" r="3.5"/><circle cx="99.4" cy="660.2" r="3.5"/><circle cx="99.4" cy="662.2" r="3.5"/><circle cx="99.4" cy="665.0" r="3.5"/><circle cx="99.4" cy="666.7" r="3.5"/><circle cx="99.4" cy="667.3" r="3.5"/><circle cx="99.4" cy="670.1" r="3.5"/><circle cx="99.4" cy="672.2" r="3.5"/><circle cx="99.4" cy="673.5" r="3.5"/><circle cx="99.4" cy="675.9" r="3.5"/><circle cx="99.4" cy="677.1" r="3.5"/><circle cx="99.4" cy="678.6" r="3.5"/><circle cx="99.4" cy="680.3" r="3.5"/><circle cx="99.4" cy="682.4" r="3.5"/><circle cx="99.4" cy="684.3" r="3.5"/><circle cx="99.4" cy="686.7" r="3.5"/><circle cx="99.4" cy="687.0" r="3.5"/><circle cx="99.4" cy="689.1" r="3.5"/><circle cx="99.4" cy="691.9" r="3.5"/><circle cx="99.4" cy="693.3" r="3.5"/><circle cx="99.4" cy="694.4" r="3.5"/><circle cx="99.4" cy="696.7" r="3.5"/><circle cx="99.4" cy="697.6" r="3.5"/><circle cx="99.4" cy="699.5" r="3.5"/><circle cx="99.4" cy="701.1" r="3.5"/><circle cx="114.3" cy="589.4" r="3.5"/><circle cx="114.3" cy="597.0" r="3.5"/><circle cx="114.3" cy="617.0" r="3.5"/><circle cx="114.3" cy="620.0" r="3.5"/><circle cx="114.3" cy="624.0" r="3.5"/><circle cx="114.3" cy="720.2" r="3.5"/><circle cx="114.3" cy="632.6" r="3.5"/><circle cx="114.3" cy="707.6" r="3.5"/><circle cx="114.3" cy="634.1" r="3.5"/><circle cx="114.3" cy="634.6" r="3.5"/><circle cx="114.3" cy="636.8" r="3.5"/><circle cx="114.3" cy="638.5" r="3.5"/><circle cx="114.3" cy="641.0" r="3.5"/><circle cx="114.3" cy="641.7" r="3.5"/><circle cx="114.3" cy="643.3" r="3.5"/><circle cx="114.3" cy="645.4" r="3.5"/><circle cx="114.3" cy="647.9" r="3.5"/><circle cx="114.3" cy="649.3" r="3.5"/><circle cx="114.3" cy="650.6" r="3.5"/><circle cx="114.3" cy="652.8" r="3.5"/><circle cx="114.3" cy="654.5" r="3.5"/><circle cx="114.3" cy="657.1" r="3.5"/><circle cx="114.3" cy="658.9" r="3.5"/><circle cx="114.3" cy="659.4" r="3.5"/><circle cx="114.3" cy="662.7" r="3.5"/><circle cx="114.3" cy="663.1" r="3.5"/><circle cx="114.3" cy="665.5" r="3.5"/><circle cx="114.3" cy="667.3" r="3.5"/><circle cx="114.3" cy="668.4" r="3.5"/><circle cx="114.3" cy="670.3" r="3.5"/><circle cx="114.3" cy="673.2" r="3.5"/><circle cx="114.3" cy="674.9" r="3.5"/><circle cx="114.3" cy="676.9" r="3.5"/><circle cx="114.3" cy="679.0" r="3.5"/><circle cx="114.3" cy="680.6" r="3.5"/><circle cx="114.3" cy="681.4" r="3.5"/><circle cx="114.3" cy="683.8" r="3.5"/><circle cx="114.3" cy="685.6" r="3.5"/><circle cx="114.3" cy="686.6" r="3.5"/><circle cx="114.3" cy="689.3" r="3.5"/><circle cx="114.3" cy="691.4" r="3.5"/><circle cx="114.3" cy="692.6" r="3.5"/><circle cx="114.3" cy="694.7" r="3.5"/><circle cx="114.3" cy="695.6" r="3.5"/><circle cx="114.3" cy="698.4" r="3.5"/><circle cx="114.3" cy="699.3" r="3.5"/><circle cx="114.3" cy="701.0" r="3.5"/><circle cx="114.3" cy="703.3" r="3.5"/><circle cx="114.3" cy="705.1" r="3.5"/><circle cx="114.3" cy="706.6" r="3.5"/><circle cx="129.1" cy="616.4" r="3.5"/><circle cx="129.1" cy="710.0" r="3.5"/><circle cx="129.1" cy="623.0" r="3.5"/><circle cx="129.1" cy="695.5" r="3.5"/><circle cx="129.1" cy="624.5" r="3.5"/><circle cx="129.1" cy="626.2" r="3.5"/><circle cx="129.1" cy="627.6" r="3.5"/><circle cx="129.1" cy="630.0" r="3.5"/><circle cx="129.1" cy="631.0" r="3.5"/><circle cx="129.1" cy="632.8" r="3.5"/><circle cx="129.1" cy="635.7" r="3.5"/><circle cx="129.1" cy="636.3" r="3.5"/><circle cx="129.1" cy="637.7" r="3.5"/><circle cx="129.1" cy="640.9" r="3.5"/><circle cx="129.1" cy="642.4" r="3.5"/><circle cx="129.1" cy="643.5" r="3.5"/><circle cx="129.1" cy="646.2" r="3.5"/><circle cx="129.1" cy="647.8" r="3.5"/><circle cx="129.1" cy="649.2" r="3.5"/><circle cx="129.1" cy="651.1" r="3.5"/><circle cx="129.1" cy="653.7" r="3.5"/><circle cx="129.1" cy="654.8" r="3.5"/><circle cx="129.1" cy="655.8" r="3.5"/><circle cx="129.1" cy="658.2" r="3.5"/><circle cx="129.1" cy="659.8" r="3.5"/><circle cx="129.1" cy="662.8" r="3.5"/><circle cx="129.1" cy="663.7" r="3.5"/><circle cx="129.1" cy="665.4" r="3.5"/><circle cx="129.1" cy="667.9" r="3.5"/><circle cx="129.1" cy="669.7" r="3.5"/><circle cx="129.1" cy="670.3" r="3.5"/><circle cx="129.1" cy="673.2" r="3.5"/><circle cx="129.1" cy="675.4" r="3.5"/><circle cx="129.1" cy="676.6" r="3.5"/><circle cx="129.1" cy="677.9" r="3.5"/><circle cx="129.1" cy="680.9" r="3.5"/><circle cx="129.1" cy="681.1" r="3.5"/><circle cx="129.1" cy="683.7" r="3.5"/><circle cx="129.1" cy="685.0" r="3.5"/><circle cx="129.1" cy="687.4" r="3.5"/><circle cx="129.1" cy="689.0" r="3.5"/><circle cx="129.1" cy="691.7" r="3.5"/><circle cx="129.1" cy="692.0" r="3.5"/><circle cx="129.1" cy="694.5" r="3.5"/><circle cx="144.0" cy="612.8" r="3.5"/><circle cx="144.0" cy="619.0" r="3.5"/><circle cx="144.0" cy="623.0" r="3.5"/><circle cx="144.0" cy="626.5" r="3.5"/><circle cx="144.0" cy="691.9" r="3.5"/><circle cx="144.0" cy="632.6" r="3.5"/><circle cx="144.0" cy="687.0" r="3.5"/><circle cx="144.0" cy="633.1" r="3.5"/><circle cx="144.0" cy="634.6" r="3.5"/><circle cx="144.0" cy="637.8" r="3.5"/><circle cx="144.0" cy="639.2" r="3.5"/><circle cx="144.0" cy="640.5" r="3.5"/><circle cx="144.0" cy="642.6" r="3.5"/><circle cx="144.0" cy="644.3" r="3.5"/><circle cx="144.0" cy="645.4" r="3.5"/><circle cx="144.0" cy="647.7" r="3.5"/><circle cx="144.0" cy="649.0" r="3.5"/><circle cx="144.0" cy="650.9" r="3.5"/><circle cx="144.0" cy="654.1" r="3.5"/><circle cx="144.0" cy="655.8" r="3.5"/><circle cx="144.0" cy="656.7" r="3.5"/><circle cx="144.0" cy="658.0" r="3.5"/><circle cx="144.0" cy="661.4" r="3.5"/><circle cx="144.0" cy="661.7" r="3.5"/><circle cx="144.0" cy="663.9" r="3.5"/><circle cx="144.0" cy="666.8" r="3.5"/><circle cx="144.0" cy="668.1" r="3.5"/><circle cx="144.0" cy="669.7" r="3.5"/><circle cx="144.0" cy="672.1" r="3.5"/><circle cx="144.0" cy="674.2" r="3.5"/><circle cx="144.0" cy="675.4" r="3.5"/><circle cx="144.0" cy="677.8" r="3.5"/><circle cx="144.0" cy="678.1" r="3.5"/><circle cx="144.0" cy="680.7" r="3.5"/><circle cx="144.0" cy="682.8" r="3.5"/><circle cx="144.0" cy="684.9" r="3.5"/><circle cx="144.0" cy="686.0" r="3.5"/><circle cx="158.8" cy="699.9" r="3.5"/><circle cx="158.8" cy="617.0" r="3.5"/><circle cx="158.8" cy="684.6" r="3.5"/><circle cx="158.8" cy="618.1" r="3.5"/><circle cx="158.8" cy="619.3" r="3.5"/><circle cx="158.8" cy="621.9" r="3.5"/><circle cx="158.8" cy="623.4" r="3.5"/><circle cx="158.8" cy="625.9" r="3.5"/><circle cx="158.8" cy="626.8" r="3.5"/><circle cx="158.8" cy="628.0" r="3.5"/><circle cx="158.8" cy="630.9" r="3.5"/><circle cx="158.8" cy="632.0" r="3.5"/><circle cx="158.8" cy="633.2" r="3.5"/><circle cx="158.8" cy="636.5" r="3.5"/><circle cx="158.8" cy="637.4" r="3.5"/><circle cx="158.8" cy="638.6" r="3.5"/><circle cx="158.8" cy="640.5" r="3.5"/><circle cx="158.8" cy="642.4" r="3.5"/><circle cx="158.8" cy="645.3" r="3.5"/><circle cx="158.8" cy="646.9" r="3.5"/><circle cx="158.8" cy="647.3" r="3.5"/><circle cx="158.8" cy="650.3" r="3.5"/><circle cx="158.8" cy="651.4" r="3.5"/><circle cx="158.8" cy="653.4" r="3.5"/><circle cx="158.8" cy="655.7" r="3.5"/><circle cx="158.8" cy="656.7" r="3.5"/><circle cx="158.8" cy="658.4" r="3.5"/><circle cx="158.8" cy="661.4" r="3.5"/><circle cx="158.8" cy="662.9" r="3.5"/><circle cx="158.8" cy="664.7" r="3.5"/><circle cx="158.8" cy="666.4" r="3.5"/><circle cx="158.8" cy="668.5" r="3.5"/><circle cx="158.8" cy="669.9" r="3.5"/><circle cx="158.8" cy="671.7" r="3.5"/><circle cx="158.8" cy="672.7" r="3.5"/><circle cx="158.8" cy="675.2" r="3.5"/><circle cx="158.8" cy="677.4" r="3.5"/><circle cx="158.8" cy="678.5" r="3.5"/><circle cx="158.8" cy="680.5" r="3.5"/><circle cx="158.8" cy="681.4" r="3.5"/><circle cx="158.8" cy="683.6" r="3.5"/><circle cx="173.7" cy="582.0" r="3.5"/><circle cx="173.7" cy="588.6" r="3.5"/><circle cx="173.7" cy="592.8" r="3.5"/><circle cx="173.7" cy="597.0" r="3.5"/><circle cx="173.7" cy="603.0" r="3.5"/><circle cx="173.7" cy="608.0" r="3.5"/><circle cx="173.7" cy="688.3" r="3.5"/><circle cx="173.7" cy="612.0" r="3.5"/><circle cx="173.7" cy="692.0" r="3.5"/><circle cx="173.7" cy="613.0" r="3.5"/><circle cx="173.7" cy="615.1" r="3.5"/><circle cx="173.7" cy="616.6" r="3.5"/><circle cx="173.7" cy="617.9" r="3.5"/><circle cx="173.7" cy="621.1" r="3.5"/><circle cx="173.7" cy="622.0" r="3.5"/><circle cx="173.7" cy="623.1" r="3.5"/><circle cx="173.7" cy="626.3" r="3.5"/><circle cx="173.7" cy="627.2" r="3.5"/><circle cx="173.7" cy="630.1" r="3.5"/><circle cx="173.7" cy="630.2" r="3.5"/><circle cx="173.7" cy="633.4" r="3.5"/><circle cx="173.7" cy="635.1" r="3.5"/><circle cx="173.7" cy="636.9" r="3.5"/><circle cx="173.7" cy="637.5" r="3.5"/><circle cx="173.7" cy="640.2" r="3.5"/><circle cx="173.7" cy="642.0" r="3.5"/><circle cx="173.7" cy="643.5" r="3.5"/><circle cx="173.7" cy="644.9" r="3.5"/><circle cx="173.7" cy="647.7" r="3.5"/><circle cx="173.7" cy="649.0" r="3.5"/><circle cx="173.7" cy="652.0" r="3.5"/><circle cx="173.7" cy="652.4" r="3.5"/><circle cx="173.7" cy="654.5" r="3.5"/><circle cx="173.7" cy="656.8" r="3.5"/><circle cx="173.7" cy="657.7" r="3.5"/><circle cx="173.7" cy="659.5" r="3.5"/><circle cx="173.7" cy="661.3" r="3.5"/><circle cx="173.7" cy="664.5" r="3.5"/><circle cx="173.7" cy="666.2" r="3.5"/><circle cx="173.7" cy="666.8" r="3.5"/><circle cx="173.7" cy="668.9" r="3.5"/><circle cx="173.7" cy="671.4" r="3.5"/><circle cx="173.7" cy="672.1" r="3.5"/><circle cx="173.7" cy="673.9" r="3.5"/><circle cx="173.7" cy="676.0" r="3.5"/><circle cx="173.7" cy="678.9" r="3.5"/><circle cx="173.7" cy="679.7" r="3.5"/><circle cx="173.7" cy="682.4" r="3.5"/><circle cx="173.7" cy="683.2" r="3.5"/><circle cx="173.7" cy="685.9" r="3.5"/><circle cx="173.7" cy="687.8" r="3.5"/><circle cx="173.7" cy="689.5" r="3.5"/><circle cx="173.7" cy="690.5" r="3.5"/><circle cx="188.6" cy="573.7" r="3.5"/><circle cx="188.6" cy="595.8" r="3.5"/><circle cx="188.6" cy="604.8" r="3.5"/><circle cx="188.6" cy="609.6" r="3.5"/><circle cx="188.6" cy="690.7" r="3.5"/><circle cx="188.6" cy="610.4" r="3.5"/><circle cx="188.6" cy="611.9" r="3.5"/><circle cx="188.6" cy="613.8" r="3.5"/><circle cx="188.6" cy="615.6" r="3.5"/><circle cx="188.6" cy="618.4" r="3.5"/><circle cx="188.6" cy="618.9" r="3.5"/><circle cx="188.6" cy="621.1" r="3.5"/><circle cx="188.6" cy="623.6" r="3.5"/><circle cx="188.6" cy="624.2" r="3.5"/><circle cx="188.6" cy="627.2" r="3.5"/><circle cx="188.6" cy="629.3" r="3.5"/><circle cx="188.6" cy="630.5" r="3.5"/><circle cx="188.6" cy="632.9" r="3.5"/><circle cx="188.6" cy="633.8" r="3.5"/><circle cx="188.6" cy="636.2" r="3.5"/><circle cx="188.6" cy="638.4" r="3.5"/><circle cx="188.6" cy="639.3" r="3.5"/><circle cx="188.6" cy="641.1" r="3.5"/><circle cx="188.6" cy="643.8" r="3.5"/><circle cx="188.6" cy="645.1" r="3.5"/><circle cx="188.6" cy="646.6" r="3.5"/><circle cx="188.6" cy="648.2" r="3.5"/><circle cx="188.6" cy="650.5" r="3.5"/><circle cx="188.6" cy="652.8" r="3.5"/><circle cx="188.6" cy="653.8" r="3.5"/><circle cx="188.6" cy="655.5" r="3.5"/><circle cx="188.6" cy="657.4" r="3.5"/><circle cx="188.6" cy="658.3" r="3.5"/><circle cx="188.6" cy="661.5" r="3.5"/><circle cx="188.6" cy="663.2" r="3.5"/><circle cx="188.6" cy="664.8" r="3.5"/><circle cx="188.6" cy="666.7" r="3.5"/><circle cx="188.6" cy="668.7" r="3.5"/><circle cx="188.6" cy="669.9" r="3.5"/><circle cx="188.6" cy="671.9" r="3.5"/><circle cx="188.6" cy="673.1" r="3.5"/><circle cx="188.6" cy="675.5" r="3.5"/><circle cx="188.6" cy="677.5" r="3.5"/><circle cx="188.6" cy="679.1" r="3.5"/><circle cx="188.6" cy="680.2" r="3.5"/><circle cx="188.6" cy="682.2" r="3.5"/><circle cx="188.6" cy="683.6" r="3.5"/><circle cx="188.6" cy="686.1" r="3.5"/><circle cx="188.6" cy="688.1" r="3.5"/><circle cx="188.6" cy="689.5" r="3.5"/><circle cx="203.4" cy="569.5" r="3.5"/><circle cx="203.4" cy="582.0" r="3.5"/><circle cx="203.4" cy="586.4" r="3.5"/><circle cx="203.4" cy="594.4" r="3.5"/><circle cx="203.4" cy="602.7" r="3.5"/><circle cx="203.4" cy="605.7" r="3.5"/><circle cx="203.4" cy="683.7" r="3.5"/><circle cx="203.4" cy="606.9" r="3.5"/><circle cx="203.4" cy="608.2" r="3.5"/><circle cx="203.4" cy="610.2" r="3.5"/><circle cx="203.4" cy="611.5" r="3.5"/><circle cx="203.4" cy="613.9" r="3.5"/><circle cx="203.4" cy="615.2" r="3.5"/><circle cx="203.4" cy="617.0" r="3.5"/><circle cx="203.4" cy="619.2" r="3.5"/><circle cx="203.4" cy="621.4" r="3.5"/><circle cx="203.4" cy="623.0" r="3.5"/><circle cx="203.4" cy="624.3" r="3.5"/><circle cx="203.4" cy="626.7" r="3.5"/><circle cx="203.4" cy="628.7" r="3.5"/><circle cx="203.4" cy="629.7" r="3.5"/><circle cx="203.4" cy="631.3" r="3.5"/><circle cx="203.4" cy="634.5" r="3.5"/><circle cx="203.4" cy="635.3" r="3.5"/><circle cx="203.4" cy="637.6" r="3.5"/><circle cx="203.4" cy="639.2" r="3.5"/><circle cx="203.4" cy="641.1" r="3.5"/><circle cx="203.4" cy="642.5" r="3.5"/><circle cx="203.4" cy="644.1" r="3.5"/><circle cx="203.4" cy="646.9" r="3.5"/><circle cx="203.4" cy="648.7" r="3.5"/><circle cx="203.4" cy="650.9" r="3.5"/><circle cx="203.4" cy="652.0" r="3.5"/><circle cx="203.4" cy="654.4" r="3.5"/><circle cx="203.4" cy="655.6" r="3.5"/><circle cx="203.4" cy="658.3" r="3.5"/><circle cx="203.4" cy="658.6" r="3.5"/><circle cx="203.4" cy="660.7" r="3.5"/><circle cx="203.4" cy="663.3" r="3.5"/><circle cx="203.4" cy="664.5" r="3.5"/><circle cx="203.4" cy="666.6" r="3.5"/><circle cx="203.4" cy="669.0" r="3.5"/><circle cx="203.4" cy="669.6" r="3.5"/><circle cx="203.4" cy="671.1" r="3.5"/><circle cx="203.4" cy="672.8" r="3.5"/><circle cx="203.4" cy="675.8" r="3.5"/><circle cx="203.4" cy="678.2" r="3.5"/><circle cx="203.4" cy="678.7" r="3.5"/><circle cx="203.4" cy="681.0" r="3.5"/><circle cx="203.4" cy="682.7" r="3.5"/><circle cx="218.2" cy="567.4" r="3.5"/><circle cx="218.2" cy="573.7" r="3.5"/><circle cx="218.2" cy="599.6" r="3.5"/><circle cx="218.2" cy="682.2" r="3.5"/><circle cx="218.2" cy="600.5" r="3.5"/><circle cx="218.2" cy="602.9" r="3.5"/><circle cx="218.2" cy="604.8" r="3.5"/><circle cx="218.2" cy="606.0" r="3.5"/><circle cx="218.2" cy="607.6" r="3.5"/><circle cx="218.2" cy="610.2" r="3.5"/><circle cx="218.2" cy="611.2" r="3.5"/><circle cx="218.2" cy="612.7" r="3.5"/><circle cx="218.2" cy="614.8" r="3.5"/><circle cx="218.2" cy="616.9" r="3.5"/><circle cx="218.2" cy="618.0" r="3.5"/><circle cx="218.2" cy="620.7" r="3.5"/><circle cx="218.2" cy="621.8" r="3.5"/><circle cx="218.2" cy="623.1" r="3.5"/><circle cx="218.2" cy="626.0" r="3.5"/><circle cx="218.2" cy="628.1" r="3.5"/><circle cx="218.2" cy="630.0" r="3.5"/><circle cx="218.2" cy="631.9" r="3.5"/><circle cx="218.2" cy="632.0" r="3.5"/><circle cx="218.2" cy="635.5" r="3.5"/><circle cx="218.2" cy="637.1" r="3.5"/><circle cx="218.2" cy="638.9" r="3.5"/><circle cx="218.2" cy="639.1" r="3.5"/><circle cx="218.2" cy="642.1" r="3.5"/><circle cx="218.2" cy="643.1" r="3.5"/><circle cx="218.2" cy="646.1" r="3.5"/><circle cx="218.2" cy="646.8" r="3.5"/><circle cx="218.2" cy="648.2" r="3.5"/><circle cx="218.2" cy="650.9" r="3.5"/><circle cx="218.2" cy="652.9" r="3.5"/><circle cx="218.2" cy="654.4" r="3.5"/><circle cx="218.2" cy="656.0" r="3.5"/><circle cx="218.2" cy="657.2" r="3.5"/><circle cx="218.2" cy="660.2" r="3.5"/><circle cx="218.2" cy="660.7" r="3.5"/><circle cx="218.2" cy="663.5" r="3.5"/><circle cx="218.2" cy="664.4" r="3.5"/><circle cx="218.2" cy="666.9" r="3.5"/><circle cx="218.2" cy="668.9" r="3.5"/><circle cx="218.2" cy="670.1" r="3.5"/><circle cx="218.2" cy="672.8" r="3.5"/><circle cx="218.2" cy="673.7" r="3.5"/><circle cx="218.2" cy="676.6" r="3.5"/><circle cx="218.2" cy="677.5" r="3.5"/><circle cx="218.2" cy="679.8" r="3.5"/><circle cx="218.2" cy="681.2" r="3.5"/><circle cx="233.1" cy="567.8" r="3.5"/><circle cx="233.1" cy="573.0" r="3.5"/><circle cx="233.1" cy="578.0" r="3.5"/><circle cx="233.1" cy="583.0" r="3.5"/><circle cx="233.1" cy="590.4" r="3.5"/><circle cx="233.1" cy="666.9" r="3.5"/><circle cx="233.1" cy="677.6" r="3.5"/><circle cx="233.1" cy="699.0" r="3.5"/><circle cx="233.1" cy="740.2" r="3.5"/><circle cx="233.1" cy="595.0" r="3.5"/><circle cx="233.1" cy="654.6" r="3.5"/><circle cx="233.1" cy="595.3" r="3.5"/><circle cx="233.1" cy="598.2" r="3.5"/><circle cx="233.1" cy="599.1" r="3.5"/><circle cx="233.1" cy="601.4" r="3.5"/><circle cx="233.1" cy="602.3" r="3.5"/><circle cx="233.1" cy="605.1" r="3.5"/><circle cx="233.1" cy="606.4" r="3.5"/><circle cx="233.1" cy="607.7" r="3.5"/><circle cx="233.1" cy="609.5" r="3.5"/><circle cx="233.1" cy="611.7" r="3.5"/><circle cx="233.1" cy="614.0" r="3.5"/><circle cx="233.1" cy="616.2" r="3.5"/><circle cx="233.1" cy="616.7" r="3.5"/><circle cx="233.1" cy="619.4" r="3.5"/><circle cx="233.1" cy="620.9" r="3.5"/><circle cx="233.1" cy="623.2" r="3.5"/><circle cx="233.1" cy="625.2" r="3.5"/><circle cx="233.1" cy="625.9" r="3.5"/><circle cx="233.1" cy="628.0" r="3.5"/><circle cx="233.1" cy="630.9" r="3.5"/><circle cx="233.1" cy="632.3" r="3.5"/><circle cx="233.1" cy="633.2" r="3.5"/><circle cx="233.1" cy="635.7" r="3.5"/><circle cx="233.1" cy="637.2" r="3.5"/><circle cx="233.1" cy="638.6" r="3.5"/><circle cx="233.1" cy="640.9" r="3.5"/><circle cx="233.1" cy="642.9" r="3.5"/><circle cx="233.1" cy="645.0" r="3.5"/><circle cx="233.1" cy="647.2" r="3.5"/><circle cx="233.1" cy="647.9" r="3.5"/><circle cx="233.1" cy="651.0" r="3.5"/><circle cx="233.1" cy="651.7" r="3.5"/><circle cx="233.1" cy="654.0" r="3.5"/><circle cx="247.9" cy="474.7" r="3.5"/><circle cx="247.9" cy="560.0" r="3.5"/><circle cx="247.9" cy="564.0" r="3.5"/><circle cx="247.9" cy="569.0" r="3.5"/><circle cx="247.9" cy="573.6" r="3.5"/><circle cx="247.9" cy="688.3" r="3.5"/><circle cx="247.9" cy="582.8" r="3.5"/><circle cx="247.9" cy="674.5" r="3.5"/><circle cx="247.9" cy="583.6" r="3.5"/><circle cx="247.9" cy="585.2" r="3.5"/><circle cx="247.9" cy="587.1" r="3.5"/><circle cx="247.9" cy="589.1" r="3.5"/><circle cx="247.9" cy="590.2" r="3.5"/><circle cx="247.9" cy="593.2" r="3.5"/><circle cx="247.9" cy="594.7" r="3.5"/><circle cx="247.9" cy="596.7" r="3.5"/><circle cx="247.9" cy="598.0" r="3.5"/><circle cx="247.9" cy="599.3" r="3.5"/><circle cx="247.9" cy="602.1" r="3.5"/><circle cx="247.9" cy="604.1" r="3.5"/><circle cx="247.9" cy="606.0" r="3.5"/><circle cx="247.9" cy="607.5" r="3.5"/><circle cx="247.9" cy="608.2" r="3.5"/><circle cx="247.9" cy="610.3" r="3.5"/><circle cx="247.9" cy="612.8" r="3.5"/><circle cx="247.9" cy="613.4" r="3.5"/><circle cx="247.9" cy="615.7" r="3.5"/><circle cx="247.9" cy="617.7" r="3.5"/><circle cx="247.9" cy="620.2" r="3.5"/><circle cx="247.9" cy="620.6" r="3.5"/><circle cx="247.9" cy="622.8" r="3.5"/><circle cx="247.9" cy="625.3" r="3.5"/><circle cx="247.9" cy="626.0" r="3.5"/><circle cx="247.9" cy="628.3" r="3.5"/><circle cx="247.9" cy="630.9" r="3.5"/><circle cx="247.9" cy="632.2" r="3.5"/><circle cx="247.9" cy="634.5" r="3.5"/><circle cx="247.9" cy="635.4" r="3.5"/><circle cx="247.9" cy="638.0" r="3.5"/><circle cx="247.9" cy="638.8" r="3.5"/><circle cx="247.9" cy="641.5" r="3.5"/><circle cx="247.9" cy="643.6" r="3.5"/><circle cx="247.9" cy="644.0" r="3.5"/><circle cx="247.9" cy="646.2" r="3.5"/><circle cx="247.9" cy="648.1" r="3.5"/><circle cx="247.9" cy="650.9" r="3.5"/><circle cx="247.9" cy="651.2" r="3.5"/><circle cx="247.9" cy="653.7" r="3.5"/><circle cx="247.9" cy="656.5" r="3.5"/><circle cx="247.9" cy="656.7" r="3.5"/><circle cx="247.9" cy="660.0" r="3.5"/><circle cx="247.9" cy="660.2" r="3.5"/><circle cx="247.9" cy="662.9" r="3.5"/><circle cx="247.9" cy="664.5" r="3.5"/><circle cx="247.9" cy="666.7" r="3.5"/><circle cx="247.9" cy="667.8" r="3.5"/><circle cx="247.9" cy="670.0" r="3.5"/><circle cx="247.9" cy="672.5" r="3.5"/><circle cx="247.9" cy="673.0" r="3.5"/><circle cx="262.8" cy="564.6" r="3.5"/><circle cx="262.8" cy="585.8" r="3.5"/><circle cx="262.8" cy="674.5" r="3.5"/><circle cx="262.8" cy="586.0" r="3.5"/><circle cx="262.8" cy="588.5" r="3.5"/><circle cx="262.8" cy="590.1" r="3.5"/><circle cx="262.8" cy="592.7" r="3.5"/><circle cx="262.8" cy="593.2" r="3.5"/><circle cx="262.8" cy="596.2" r="3.5"/><circle cx="262.8" cy="598.3" r="3.5"/><circle cx="262.8" cy="598.6" r="3.5"/><circle cx="262.8" cy="601.5" r="3.5"/><circle cx="262.8" cy="603.4" r="3.5"/><circle cx="262.8" cy="605.3" r="3.5"/><circle cx="262.8" cy="607.3" r="3.5"/><circle cx="262.8" cy="608.4" r="3.5"/><circle cx="262.8" cy="610.5" r="3.5"/><circle cx="262.8" cy="612.2" r="3.5"/><circle cx="262.8" cy="613.8" r="3.5"/><circle cx="262.8" cy="615.0" r="3.5"/><circle cx="262.8" cy="617.6" r="3.5"/><circle cx="262.8" cy="619.3" r="3.5"/><circle cx="262.8" cy="620.8" r="3.5"/><circle cx="262.8" cy="623.3" r="3.5"/><circle cx="262.8" cy="625.4" r="3.5"/><circle cx="262.8" cy="626.5" r="3.5"/><circle cx="262.8" cy="628.1" r="3.5"/><circle cx="262.8" cy="630.2" r="3.5"/><circle cx="262.8" cy="632.4" r="3.5"/><circle cx="262.8" cy="633.4" r="3.5"/><circle cx="262.8" cy="636.2" r="3.5"/><circle cx="262.8" cy="637.7" r="3.5"/><circle cx="262.8" cy="639.6" r="3.5"/><circle cx="262.8" cy="641.2" r="3.5"/><circle cx="262.8" cy="642.0" r="3.5"/><circle cx="262.8" cy="644.9" r="3.5"/><circle cx="262.8" cy="647.1" r="3.5"/><circle cx="262.8" cy="648.6" r="3.5"/><circle cx="262.8" cy="650.7" r="3.5"/><circle cx="262.8" cy="651.2" r="3.5"/><circle cx="262.8" cy="653.6" r="3.5"/><circle cx="262.8" cy="655.9" r="3.5"/><circle cx="262.8" cy="658.1" r="3.5"/><circle cx="262.8" cy="658.4" r="3.5"/><circle cx="262.8" cy="660.4" r="3.5"/><circle cx="262.8" cy="662.3" r="3.5"/><circle cx="262.8" cy="664.1" r="3.5"/><circle cx="262.8" cy="666.6" r="3.5"/><circle cx="262.8" cy="668.0" r="3.5"/><circle cx="262.8" cy="670.7" r="3.5"/><circle cx="262.8" cy="672.1" r="3.5"/><circle cx="262.8" cy="673.9" r="3.5"/><circle cx="277.6" cy="501.0" r="3.5"/><circle cx="277.6" cy="562.7" r="3.5"/><circle cx="277.6" cy="663.0" r="3.5"/><circle cx="277.6" cy="567.3" r="3.5"/><circle cx="277.6" cy="663.0" r="3.5"/><circle cx="277.6" cy="568.5" r="3.5"/><circle cx="277.6" cy="570.7" r="3.5"/><circle cx="277.6" cy="571.4" r="3.5"/><circle cx="277.6" cy="573.2" r="3.5"/><circle cx="277.6" cy="576.2" r="3.5"/><circle cx="277.6" cy="576.4" r="3.5"/><circle cx="277.6" cy="579.2" r="3.5"/><circle cx="277.6" cy="580.2" r="3.5"/><circle cx="277.6" cy="583.1" r="3.5"/><circle cx="277.6" cy="583.8" r="3.5"/><circle cx="277.6" cy="586.9" r="3.5"/><circle cx="277.6" cy="587.7" r="3.5"/><circle cx="277.6" cy="590.6" r="3.5"/><circle cx="277.6" cy="591.9" r="3.5"/><circle cx="277.6" cy="594.0" r="3.5"/><circle cx="277.6" cy="594.8" r="3.5"/><circle cx="277.6" cy="597.4" r="3.5"/><circle cx="277.6" cy="599.2" r="3.5"/><circle cx="277.6" cy="600.5" r="3.5"/><circle cx="277.6" cy="602.6" r="3.5"/><circle cx="277.6" cy="604.4" r="3.5"/><circle cx="277.6" cy="606.7" r="3.5"/><circle cx="277.6" cy="608.8" r="3.5"/><circle cx="277.6" cy="610.3" r="3.5"/><circle cx="277.6" cy="611.5" r="3.5"/><circle cx="277.6" cy="612.6" r="3.5"/><circle cx="277.6" cy="615.4" r="3.5"/><circle cx="277.6" cy="617.8" r="3.5"/><circle cx="277.6" cy="618.2" r="3.5"/><circle cx="277.6" cy="619.9" r="3.5"/><circle cx="277.6" cy="621.8" r="3.5"/><circle cx="277.6" cy="623.4" r="3.5"/><circle cx="277.6" cy="626.0" r="3.5"/><circle cx="277.6" cy="627.3" r="3.5"/><circle cx="277.6" cy="630.3" r="3.5"/><circle cx="277.6" cy="632.1" r="3.5"/><circle cx="277.6" cy="633.9" r="3.5"/><circle cx="277.6" cy="635.1" r="3.5"/><circle cx="277.6" cy="636.7" r="3.5"/><circle cx="277.6" cy="638.9" r="3.5"/><circle cx="277.6" cy="640.3" r="3.5"/><circle cx="277.6" cy="642.4" r="3.5"/><circle cx="277.6" cy="643.3" r="3.5"/><circle cx="277.6" cy="645.9" r="3.5"/><circle cx="277.6" cy="647.8" r="3.5"/><circle cx="277.6" cy="648.9" r="3.5"/><circle cx="277.6" cy="650.7" r="3.5"/><circle cx="277.6" cy="653.0" r="3.5"/><circle cx="277.6" cy="655.6" r="3.5"/><circle cx="277.6" cy="657.6" r="3.5"/><circle cx="277.6" cy="658.9" r="3.5"/><circle cx="277.6" cy="660.0" r="3.5"/><circle cx="277.6" cy="661.8" r="3.5"/><circle cx="292.5" cy="547.4" r="3.5"/><circle cx="292.5" cy="550.5" r="3.5"/><circle cx="292.5" cy="553.5" r="3.5"/><circle cx="292.5" cy="559.6" r="3.5"/><circle cx="292.5" cy="675.8" r="3.5"/><circle cx="292.5" cy="573.4" r="3.5"/><circle cx="292.5" cy="660.5" r="3.5"/><circle cx="292.5" cy="574.7" r="3.5"/><circle cx="292.5" cy="575.9" r="3.5"/><circle cx="292.5" cy="578.1" r="3.5"/><circle cx="292.5" cy="579.1" r="3.5"/><circle cx="292.5" cy="581.0" r="3.5"/><circle cx="292.5" cy="583.1" r="3.5"/><circle cx="292.5" cy="584.8" r="3.5"/><circle cx="292.5" cy="587.4" r="3.5"/><circle cx="292.5" cy="589.3" r="3.5"/><circle cx="292.5" cy="590.3" r="3.5"/><circle cx="292.5" cy="593.1" r="3.5"/><circle cx="292.5" cy="594.0" r="3.5"/><circle cx="292.5" cy="596.7" r="3.5"/><circle cx="292.5" cy="598.3" r="3.5"/><circle cx="292.5" cy="599.7" r="3.5"/><circle cx="292.5" cy="602.0" r="3.5"/><circle cx="292.5" cy="603.9" r="3.5"/><circle cx="292.5" cy="604.6" r="3.5"/><circle cx="292.5" cy="607.7" r="3.5"/><circle cx="292.5" cy="608.5" r="3.5"/><circle cx="292.5" cy="609.8" r="3.5"/><circle cx="292.5" cy="613.3" r="3.5"/><circle cx="292.5" cy="615.1" r="3.5"/><circle cx="292.5" cy="616.3" r="3.5"/><circle cx="292.5" cy="617.0" r="3.5"/><circle cx="292.5" cy="618.8" r="3.5"/><circle cx="292.5" cy="622.0" r="3.5"/><circle cx="292.5" cy="623.6" r="3.5"/><circle cx="292.5" cy="625.7" r="3.5"/><circle cx="292.5" cy="627.8" r="3.5"/><circle cx="292.5" cy="629.0" r="3.5"/><circle cx="292.5" cy="631.1" r="3.5"/><circle cx="292.5" cy="632.1" r="3.5"/><circle cx="292.5" cy="634.0" r="3.5"/><circle cx="292.5" cy="636.2" r="3.5"/><circle cx="292.5" cy="637.5" r="3.5"/><circle cx="292.5" cy="639.9" r="3.5"/><circle cx="292.5" cy="642.1" r="3.5"/><circle cx="292.5" cy="643.2" r="3.5"/><circle cx="292.5" cy="645.8" r="3.5"/><circle cx="292.5" cy="647.4" r="3.5"/><circle cx="292.5" cy="648.3" r="3.5"/><circle cx="292.5" cy="649.7" r="3.5"/><circle cx="292.5" cy="652.0" r="3.5"/><circle cx="292.5" cy="654.3" r="3.5"/><circle cx="292.5" cy="656.1" r="3.5"/><circle cx="292.5" cy="657.2" r="3.5"/><circle cx="292.5" cy="659.9" r="3.5"/><circle cx="307.4" cy="539.7" r="3.5"/><circle cx="307.4" cy="645.0" r="3.5"/><circle cx="307.4" cy="672.7" r="3.5"/><circle cx="307.4" cy="561.0" r="3.5"/><circle cx="307.4" cy="643.7" r="3.5"/><circle cx="307.4" cy="561.8" r="3.5"/><circle cx="307.4" cy="563.1" r="3.5"/><circle cx="307.4" cy="565.5" r="3.5"/><circle cx="307.4" cy="566.5" r="3.5"/><circle cx="307.4" cy="568.3" r="3.5"/><circle cx="307.4" cy="570.8" r="3.5"/><circle cx="307.4" cy="572.4" r="3.5"/><circle cx="307.4" cy="575.0" r="3.5"/><circle cx="307.4" cy="575.5" r="3.5"/><circle cx="307.4" cy="577.8" r="3.5"/><circle cx="307.4" cy="580.1" r="3.5"/><circle cx="307.4" cy="581.8" r="3.5"/><circle cx="307.4" cy="583.7" r="3.5"/><circle cx="307.4" cy="585.4" r="3.5"/><circle cx="307.4" cy="587.9" r="3.5"/><circle cx="307.4" cy="588.4" r="3.5"/><circle cx="307.4" cy="590.7" r="3.5"/><circle cx="307.4" cy="591.7" r="3.5"/><circle cx="307.4" cy="594.7" r="3.5"/><circle cx="307.4" cy="596.1" r="3.5"/><circle cx="307.4" cy="598.7" r="3.5"/><circle cx="307.4" cy="599.0" r="3.5"/><circle cx="307.4" cy="601.5" r="3.5"/><circle cx="307.4" cy="602.8" r="3.5"/><circle cx="307.4" cy="604.9" r="3.5"/><circle cx="307.4" cy="607.6" r="3.5"/><circle cx="307.4" cy="608.2" r="3.5"/><circle cx="307.4" cy="609.8" r="3.5"/><circle cx="307.4" cy="612.1" r="3.5"/><circle cx="307.4" cy="613.6" r="3.5"/><circle cx="307.4" cy="616.3" r="3.5"/><circle cx="307.4" cy="618.0" r="3.5"/><circle cx="307.4" cy="619.0" r="3.5"/><circle cx="307.4" cy="621.8" r="3.5"/><circle cx="307.4" cy="622.5" r="3.5"/><circle cx="307.4" cy="624.0" r="3.5"/><circle cx="307.4" cy="626.0" r="3.5"/><circle cx="307.4" cy="628.6" r="3.5"/><circle cx="307.4" cy="630.7" r="3.5"/><circle cx="307.4" cy="632.4" r="3.5"/><circle cx="307.4" cy="633.2" r="3.5"/><circle cx="307.4" cy="635.4" r="3.5"/><circle cx="307.4" cy="638.0" r="3.5"/><circle cx="307.4" cy="639.4" r="3.5"/><circle cx="307.4" cy="641.5" r="3.5"/><circle cx="307.4" cy="642.2" r="3.5"/><circle cx="322.2" cy="530.6" r="3.5"/><circle cx="322.2" cy="534.0" r="3.5"/><circle cx="322.2" cy="539.0" r="3.5"/><circle cx="322.2" cy="660.5" r="3.5"/><circle cx="322.2" cy="553.5" r="3.5"/><circle cx="322.2" cy="652.9" r="3.5"/><circle cx="322.2" cy="555.2" r="3.5"/><circle cx="322.2" cy="555.8" r="3.5"/><circle cx="322.2" cy="558.9" r="3.5"/><circle cx="322.2" cy="560.0" r="3.5"/><circle cx="322.2" cy="561.9" r="3.5"/><circle cx="322.2" cy="563.0" r="3.5"/><circle cx="322.2" cy="566.0" r="3.5"/><circle cx="322.2" cy="566.4" r="3.5"/><circle cx="322.2" cy="569.2" r="3.5"/><circle cx="322.2" cy="571.4" r="3.5"/><circle cx="322.2" cy="573.0" r="3.5"/><circle cx="322.2" cy="573.8" r="3.5"/><circle cx="322.2" cy="577.0" r="3.5"/><circle cx="322.2" cy="578.5" r="3.5"/><circle cx="322.2" cy="580.6" r="3.5"/><circle cx="322.2" cy="582.1" r="3.5"/><circle cx="322.2" cy="584.1" r="3.5"/><circle cx="322.2" cy="584.6" r="3.5"/><circle cx="322.2" cy="586.4" r="3.5"/><circle cx="322.2" cy="588.3" r="3.5"/><circle cx="322.2" cy="590.5" r="3.5"/><circle cx="322.2" cy="591.8" r="3.5"/><circle cx="322.2" cy="594.9" r="3.5"/><circle cx="322.2" cy="596.6" r="3.5"/><circle cx="322.2" cy="597.5" r="3.5"/><circle cx="322.2" cy="599.1" r="3.5"/><circle cx="322.2" cy="600.7" r="3.5"/><circle cx="322.2" cy="602.7" r="3.5"/><circle cx="322.2" cy="604.6" r="3.5"/><circle cx="322.2" cy="606.5" r="3.5"/><circle cx="322.2" cy="609.0" r="3.5"/><circle cx="322.2" cy="609.6" r="3.5"/><circle cx="322.2" cy="612.3" r="3.5"/><circle cx="322.2" cy="614.6" r="3.5"/><circle cx="322.2" cy="615.4" r="3.5"/><circle cx="322.2" cy="617.9" r="3.5"/><circle cx="322.2" cy="619.0" r="3.5"/><circle cx="322.2" cy="622.0" r="3.5"/><circle cx="322.2" cy="623.1" r="3.5"/><circle cx="322.2" cy="624.6" r="3.5"/><circle cx="322.2" cy="627.5" r="3.5"/><circle cx="322.2" cy="628.5" r="3.5"/><circle cx="322.2" cy="630.1" r="3.5"/><circle cx="322.2" cy="631.6" r="3.5"/><circle cx="322.2" cy="633.2" r="3.5"/><circle cx="322.2" cy="635.4" r="3.5"/><circle cx="322.2" cy="636.7" r="3.5"/><circle cx="322.2" cy="640.0" r="3.5"/><circle cx="322.2" cy="641.9" r="3.5"/><circle cx="322.2" cy="643.6" r="3.5"/><circle cx="322.2" cy="644.7" r="3.5"/><circle cx="322.2" cy="646.3" r="3.5"/><circle cx="322.2" cy="648.0" r="3.5"/><circle cx="322.2" cy="649.5" r="3.5"/><circle cx="322.2" cy="651.6" r="3.5"/><circle cx="337.0" cy="477.5" r="3.5"/><circle cx="337.0" cy="521.4" r="3.5"/><circle cx="337.0" cy="529.0" r="3.5"/><circle cx="337.0" cy="559.0" r="3.5"/><circle cx="337.0" cy="641.6" r="3.5"/><circle cx="337.0" cy="556.6" r="3.5"/><circle cx="337.0" cy="642.2" r="3.5"/><circle cx="337.0" cy="557.3" r="3.5"/><circle cx="337.0" cy="559.4" r="3.5"/><circle cx="337.0" cy="560.9" r="3.5"/><circle cx="337.0" cy="563.7" r="3.5"/><circle cx="337.0" cy="564.2" r="3.5"/><circle cx="337.0" cy="567.0" r="3.5"/><circle cx="337.0" cy="568.7" r="3.5"/><circle cx="337.0" cy="569.6" r="3.5"/><circle cx="337.0" cy="572.3" r="3.5"/><circle cx="337.0" cy="573.9" r="3.5"/><circle cx="337.0" cy="575.9" r="3.5"/><circle cx="337.0" cy="577.1" r="3.5"/><circle cx="337.0" cy="578.3" r="3.5"/><circle cx="337.0" cy="580.6" r="3.5"/><circle cx="337.0" cy="583.3" r="3.5"/><circle cx="337.0" cy="585.0" r="3.5"/><circle cx="337.0" cy="585.7" r="3.5"/><circle cx="337.0" cy="588.1" r="3.5"/><circle cx="337.0" cy="588.8" r="3.5"/><circle cx="337.0" cy="591.8" r="3.5"/><circle cx="337.0" cy="593.3" r="3.5"/><circle cx="337.0" cy="594.7" r="3.5"/><circle cx="337.0" cy="596.3" r="3.5"/><circle cx="337.0" cy="597.8" r="3.5"/><circle cx="337.0" cy="599.8" r="3.5"/><circle cx="337.0" cy="601.9" r="3.5"/><circle cx="337.0" cy="603.7" r="3.5"/><circle cx="337.0" cy="605.0" r="3.5"/><circle cx="337.0" cy="607.8" r="3.5"/><circle cx="337.0" cy="608.3" r="3.5"/><circle cx="337.0" cy="610.4" r="3.5"/><circle cx="337.0" cy="612.4" r="3.5"/><circle cx="337.0" cy="614.0" r="3.5"/><circle cx="337.0" cy="616.9" r="3.5"/><circle cx="337.0" cy="618.9" r="3.5"/><circle cx="337.0" cy="619.9" r="3.5"/><circle cx="337.0" cy="621.4" r="3.5"/><circle cx="337.0" cy="624.1" r="3.5"/><circle cx="337.0" cy="625.7" r="3.5"/><circle cx="337.0" cy="627.3" r="3.5"/><circle cx="337.0" cy="629.6" r="3.5"/><circle cx="337.0" cy="629.8" r="3.5"/><circle cx="337.0" cy="632.6" r="3.5"/><circle cx="337.0" cy="633.8" r="3.5"/><circle cx="337.0" cy="636.8" r="3.5"/><circle cx="337.0" cy="637.0" r="3.5"/><circle cx="337.0" cy="640.2" r="3.5"/><circle cx="337.0" cy="642.1" r="3.5"/><circle cx="351.9" cy="519.4" r="3.5"/><circle cx="351.9" cy="531.6" r="3.5"/><circle cx="351.9" cy="536.2" r="3.5"/><circle cx="351.9" cy="671.9" r="3.5"/><circle cx="351.9" cy="559.0" r="3.5"/><circle cx="351.9" cy="634.0" r="3.5"/><circle cx="351.9" cy="560.0" r="3.5"/><circle cx="351.9" cy="561.5" r="3.5"/><circle cx="351.9" cy="563.8" r="3.5"/><circle cx="351.9" cy="565.1" r="3.5"/><circle cx="351.9" cy="567.6" r="3.5"/><circle cx="351.9" cy="568.9" r="3.5"/><circle cx="351.9" cy="570.8" r="3.5"/><circle cx="351.9" cy="572.6" r="3.5"/><circle cx="351.9" cy="574.2" r="3.5"/><circle cx="351.9" cy="576.0" r="3.5"/><circle cx="351.9" cy="576.9" r="3.5"/><circle cx="351.9" cy="578.9" r="3.5"/><circle cx="351.9" cy="581.0" r="3.5"/><circle cx="351.9" cy="582.6" r="3.5"/><circle cx="351.9" cy="584.3" r="3.5"/><circle cx="351.9" cy="587.0" r="3.5"/><circle cx="351.9" cy="588.4" r="3.5"/><circle cx="351.9" cy="589.6" r="3.5"/><circle cx="351.9" cy="592.3" r="3.5"/><circle cx="351.9" cy="593.2" r="3.5"/><circle cx="351.9" cy="595.2" r="3.5"/><circle cx="351.9" cy="596.9" r="3.5"/><circle cx="351.9" cy="599.5" r="3.5"/><circle cx="351.9" cy="601.0" r="3.5"/><circle cx="351.9" cy="601.9" r="3.5"/><circle cx="351.9" cy="604.9" r="3.5"/><circle cx="351.9" cy="605.7" r="3.5"/><circle cx="351.9" cy="607.7" r="3.5"/><circle cx="351.9" cy="609.2" r="3.5"/><circle cx="351.9" cy="611.9" r="3.5"/><circle cx="351.9" cy="613.6" r="3.5"/><circle cx="351.9" cy="614.8" r="3.5"/><circle cx="351.9" cy="617.9" r="3.5"/><circle cx="351.9" cy="618.6" r="3.5"/><circle cx="351.9" cy="620.0" r="3.5"/><circle cx="351.9" cy="622.9" r="3.5"/><circle cx="351.9" cy="624.2" r="3.5"/><circle cx="351.9" cy="625.9" r="3.5"/><circle cx="351.9" cy="627.9" r="3.5"/><circle cx="351.9" cy="629.5" r="3.5"/><circle cx="351.9" cy="631.2" r="3.5"/><circle cx="351.9" cy="632.3" r="3.5"/><circle cx="366.8" cy="523.3" r="3.5"/><circle cx="366.8" cy="545.3" r="3.5"/><circle cx="366.8" cy="641.3" r="3.5"/><circle cx="366.8" cy="548.4" r="3.5"/><circle cx="366.8" cy="641.6" r="3.5"/><circle cx="366.8" cy="548.5" r="3.5"/><circle cx="366.8" cy="551.7" r="3.5"/><circle cx="366.8" cy="552.3" r="3.5"/><circle cx="366.8" cy="554.9" r="3.5"/><circle cx="366.8" cy="557.3" r="3.5"/><circle cx="366.8" cy="558.3" r="3.5"/><circle cx="366.8" cy="560.7" r="3.5"/><circle cx="366.8" cy="562.2" r="3.5"/><circle cx="366.8" cy="564.3" r="3.5"/><circle cx="366.8" cy="564.5" r="3.5"/><circle cx="366.8" cy="567.2" r="3.5"/><circle cx="366.8" cy="569.3" r="3.5"/><circle cx="366.8" cy="571.2" r="3.5"/><circle cx="366.8" cy="573.4" r="3.5"/><circle cx="366.8" cy="573.8" r="3.5"/><circle cx="366.8" cy="576.2" r="3.5"/><circle cx="366.8" cy="578.2" r="3.5"/><circle cx="366.8" cy="579.6" r="3.5"/><circle cx="366.8" cy="582.3" r="3.5"/><circle cx="366.8" cy="583.4" r="3.5"/><circle cx="366.8" cy="584.4" r="3.5"/><circle cx="366.8" cy="587.2" r="3.5"/><circle cx="366.8" cy="589.2" r="3.5"/><circle cx="366.8" cy="590.9" r="3.5"/><circle cx="366.8" cy="592.3" r="3.5"/><circle cx="366.8" cy="594.0" r="3.5"/><circle cx="366.8" cy="596.5" r="3.5"/><circle cx="366.8" cy="598.1" r="3.5"/><circle cx="366.8" cy="599.8" r="3.5"/><circle cx="366.8" cy="601.8" r="3.5"/><circle cx="366.8" cy="602.4" r="3.5"/><circle cx="366.8" cy="605.2" r="3.5"/><circle cx="366.8" cy="607.3" r="3.5"/><circle cx="366.8" cy="608.9" r="3.5"/><circle cx="366.8" cy="611.0" r="3.5"/><circle cx="366.8" cy="611.8" r="3.5"/><circle cx="366.8" cy="614.3" r="3.5"/><circle cx="366.8" cy="616.1" r="3.5"/><circle cx="366.8" cy="617.8" r="3.5"/><circle cx="366.8" cy="619.2" r="3.5"/><circle cx="366.8" cy="621.0" r="3.5"/><circle cx="366.8" cy="623.5" r="3.5"/><circle cx="366.8" cy="624.1" r="3.5"/><circle cx="366.8" cy="626.0" r="3.5"/><circle cx="366.8" cy="627.6" r="3.5"/><circle cx="366.8" cy="630.6" r="3.5"/><circle cx="366.8" cy="632.3" r="3.5"/><circle cx="366.8" cy="633.3" r="3.5"/><circle cx="366.8" cy="635.1" r="3.5"/><circle cx="366.8" cy="637.6" r="3.5"/><circle cx="366.8" cy="639.2" r="3.5"/><circle cx="366.8" cy="640.6" r="3.5"/><circle cx="381.6" cy="543.8" r="3.5"/><circle cx="381.6" cy="632.5" r="3.5"/><circle cx="381.6" cy="543.9" r="3.5"/><circle cx="381.6" cy="546.8" r="3.5"/><circle cx="381.6" cy="548.2" r="3.5"/><circle cx="381.6" cy="549.7" r="3.5"/><circle cx="381.6" cy="551.8" r="3.5"/><circle cx="381.6" cy="554.3" r="3.5"/><circle cx="381.6" cy="555.5" r="3.5"/><circle cx="381.6" cy="558.2" r="3.5"/><circle cx="381.6" cy="560.0" r="3.5"/><circle cx="381.6" cy="561.2" r="3.5"/><circle cx="381.6" cy="562.1" r="3.5"/><circle cx="381.6" cy="564.0" r="3.5"/><circle cx="381.6" cy="566.5" r="3.5"/><circle cx="381.6" cy="568.8" r="3.5"/><circle cx="381.6" cy="571.0" r="3.5"/><circle cx="381.6" cy="572.3" r="3.5"/><circle cx="381.6" cy="572.8" r="3.5"/><circle cx="381.6" cy="576.2" r="3.5"/><circle cx="381.6" cy="577.5" r="3.5"/><circle cx="381.6" cy="578.4" r="3.5"/><circle cx="381.6" cy="581.3" r="3.5"/><circle cx="381.6" cy="583.5" r="3.5"/><circle cx="381.6" cy="584.1" r="3.5"/><circle cx="381.6" cy="586.5" r="3.5"/><circle cx="381.6" cy="588.4" r="3.5"/><circle cx="381.6" cy="590.1" r="3.5"/><circle cx="381.6" cy="591.5" r="3.5"/><circle cx="381.6" cy="593.7" r="3.5"/><circle cx="381.6" cy="596.2" r="3.5"/><circle cx="381.6" cy="597.3" r="3.5"/><circle cx="381.6" cy="598.4" r="3.5"/><circle cx="381.6" cy="601.0" r="3.5"/><circle cx="381.6" cy="603.1" r="3.5"/><circle cx="381.6" cy="603.7" r="3.5"/><circle cx="381.6" cy="606.9" r="3.5"/><circle cx="381.6" cy="608.0" r="3.5"/><circle cx="381.6" cy="609.4" r="3.5"/><circle cx="381.6" cy="611.2" r="3.5"/><circle cx="381.6" cy="612.7" r="3.5"/><circle cx="381.6" cy="615.9" r="3.5"/><circle cx="381.6" cy="617.7" r="3.5"/><circle cx="381.6" cy="618.8" r="3.5"/><circle cx="381.6" cy="621.6" r="3.5"/><circle cx="381.6" cy="622.0" r="3.5"/><circle cx="381.6" cy="623.5" r="3.5"/><circle cx="381.6" cy="626.8" r="3.5"/><circle cx="381.6" cy="628.4" r="3.5"/><circle cx="381.6" cy="629.2" r="3.5"/><circle cx="381.6" cy="631.3" r="3.5"/><circle cx="396.4" cy="521.0" r="3.5"/><circle cx="396.4" cy="524.8" r="3.5"/><circle cx="396.4" cy="528.5" r="3.5"/><circle cx="396.4" cy="624.8" r="3.5"/><circle cx="396.4" cy="551.5" r="3.5"/><circle cx="396.4" cy="628.0" r="3.5"/><circle cx="396.4" cy="552.5" r="3.5"/><circle cx="396.4" cy="554.8" r="3.5"/><circle cx="396.4" cy="556.5" r="3.5"/><circle cx="396.4" cy="557.0" r="3.5"/><circle cx="396.4" cy="559.4" r="3.5"/><circle cx="396.4" cy="561.0" r="3.5"/><circle cx="396.4" cy="564.0" r="3.5"/><circle cx="396.4" cy="565.5" r="3.5"/><circle cx="396.4" cy="567.4" r="3.5"/><circle cx="396.4" cy="567.9" r="3.5"/><circle cx="396.4" cy="571.1" r="3.5"/><circle cx="396.4" cy="571.8" r="3.5"/><circle cx="396.4" cy="573.7" r="3.5"/><circle cx="396.4" cy="576.0" r="3.5"/><circle cx="396.4" cy="578.1" r="3.5"/><circle cx="396.4" cy="579.3" r="3.5"/><circle cx="396.4" cy="582.2" r="3.5"/><circle cx="396.4" cy="583.8" r="3.5"/><circle cx="396.4" cy="586.0" r="3.5"/><circle cx="396.4" cy="586.4" r="3.5"/><circle cx="396.4" cy="588.8" r="3.5"/><circle cx="396.4" cy="590.4" r="3.5"/><circle cx="396.4" cy="592.3" r="3.5"/><circle cx="396.4" cy="593.6" r="3.5"/><circle cx="396.4" cy="596.9" r="3.5"/><circle cx="396.4" cy="597.3" r="3.5"/><circle cx="396.4" cy="599.0" r="3.5"/><circle cx="396.4" cy="600.7" r="3.5"/><circle cx="396.4" cy="603.9" r="3.5"/><circle cx="396.4" cy="605.9" r="3.5"/><circle cx="396.4" cy="606.7" r="3.5"/><circle cx="396.4" cy="608.3" r="3.5"/><circle cx="396.4" cy="610.3" r="3.5"/><circle cx="396.4" cy="612.4" r="3.5"/><circle cx="396.4" cy="614.5" r="3.5"/><circle cx="396.4" cy="615.7" r="3.5"/><circle cx="396.4" cy="618.4" r="3.5"/><circle cx="396.4" cy="620.2" r="3.5"/><circle cx="396.4" cy="622.4" r="3.5"/><circle cx="396.4" cy="624.2" r="3.5"/><circle cx="396.4" cy="625.7" r="3.5"/><circle cx="396.4" cy="627.9" r="3.5"/><circle cx="411.3" cy="511.7" r="3.5"/><circle cx="411.3" cy="537.7" r="3.5"/><circle cx="411.3" cy="541.0" r="3.5"/><circle cx="411.3" cy="545.0" r="3.5"/><circle cx="411.3" cy="548.4" r="3.5"/><circle cx="411.3" cy="615.7" r="3.5"/><circle cx="411.3" cy="618.0" r="3.5"/><circle cx="411.3" cy="557.6" r="3.5"/><circle cx="411.3" cy="606.5" r="3.5"/><circle cx="411.3" cy="558.4" r="3.5"/><circle cx="411.3" cy="560.1" r="3.5"/><circle cx="411.3" cy="562.8" r="3.5"/><circle cx="411.3" cy="564.0" r="3.5"/><circle cx="411.3" cy="565.1" r="3.5"/><circle cx="411.3" cy="567.4" r="3.5"/><circle cx="411.3" cy="569.2" r="3.5"/><circle cx="411.3" cy="570.8" r="3.5"/><circle cx="411.3" cy="572.3" r="3.5"/><circle cx="411.3" cy="575.4" r="3.5"/><circle cx="411.3" cy="577.0" r="3.5"/><circle cx="411.3" cy="579.3" r="3.5"/><circle cx="411.3" cy="580.6" r="3.5"/><circle cx="411.3" cy="582.0" r="3.5"/><circle cx="411.3" cy="584.6" r="3.5"/><circle cx="411.3" cy="585.9" r="3.5"/><circle cx="411.3" cy="588.2" r="3.5"/><circle cx="411.3" cy="590.0" r="3.5"/><circle cx="411.3" cy="591.1" r="3.5"/><circle cx="411.3" cy="592.4" r="3.5"/><circle cx="411.3" cy="594.4" r="3.5"/><circle cx="411.3" cy="597.2" r="3.5"/><circle cx="411.3" cy="598.2" r="3.5"/><circle cx="411.3" cy="600.0" r="3.5"/><circle cx="411.3" cy="601.5" r="3.5"/><circle cx="411.3" cy="604.3" r="3.5"/><circle cx="411.3" cy="604.7" r="3.5"/><circle cx="426.1" cy="536.2" r="3.5"/><circle cx="426.1" cy="540.0" r="3.5"/><circle cx="426.1" cy="544.0" r="3.5"/><circle cx="426.1" cy="548.4" r="3.5"/><circle cx="426.1" cy="613.5" r="3.5"/><circle cx="426.1" cy="617.0" r="3.5"/><circle cx="426.1" cy="620.2" r="3.5"/><circle cx="426.1" cy="554.5" r="3.5"/><circle cx="426.1" cy="621.8" r="3.5"/><circle cx="426.1" cy="556.3" r="3.5"/><circle cx="426.1" cy="557.4" r="3.5"/><circle cx="426.1" cy="559.0" r="3.5"/><circle cx="426.1" cy="560.3" r="3.5"/><circle cx="426.1" cy="562.7" r="3.5"/><circle cx="426.1" cy="565.1" r="3.5"/><circle cx="426.1" cy="566.7" r="3.5"/><circle cx="426.1" cy="567.4" r="3.5"/><circle cx="426.1" cy="569.6" r="3.5"/><circle cx="426.1" cy="572.5" r="3.5"/><circle cx="426.1" cy="572.9" r="3.5"/><circle cx="426.1" cy="575.6" r="3.5"/><circle cx="426.1" cy="577.9" r="3.5"/><circle cx="426.1" cy="579.4" r="3.5"/><circle cx="426.1" cy="581.1" r="3.5"/><circle cx="426.1" cy="581.9" r="3.5"/><circle cx="426.1" cy="584.1" r="3.5"/><circle cx="426.1" cy="585.9" r="3.5"/><circle cx="426.1" cy="587.7" r="3.5"/><circle cx="426.1" cy="590.3" r="3.5"/><circle cx="426.1" cy="591.5" r="3.5"/><circle cx="426.1" cy="592.7" r="3.5"/><circle cx="426.1" cy="594.6" r="3.5"/><circle cx="426.1" cy="597.1" r="3.5"/><circle cx="426.1" cy="598.9" r="3.5"/><circle cx="426.1" cy="601.0" r="3.5"/><circle cx="426.1" cy="602.4" r="3.5"/><circle cx="426.1" cy="605.1" r="3.5"/><circle cx="426.1" cy="607.1" r="3.5"/><circle cx="426.1" cy="608.9" r="3.5"/><circle cx="426.1" cy="610.8" r="3.5"/><circle cx="426.1" cy="611.6" r="3.5"/><circle cx="426.1" cy="613.5" r="3.5"/><circle cx="426.1" cy="616.1" r="3.5"/><circle cx="426.1" cy="616.6" r="3.5"/><circle cx="426.1" cy="619.8" r="3.5"/><circle cx="426.1" cy="621.5" r="3.5"/><circle cx="441.0" cy="511.7" r="3.5"/><circle cx="441.0" cy="516.0" r="3.5"/><circle cx="441.0" cy="521.0" r="3.5"/><circle cx="441.0" cy="594.3" r="3.5"/><circle cx="441.0" cy="627.9" r="3.5"/><circle cx="441.0" cy="641.6" r="3.5"/><circle cx="441.0" cy="647.8" r="3.5"/><circle cx="441.0" cy="539.2" r="3.5"/><circle cx="441.0" cy="585.0" r="3.5"/><circle cx="441.0" cy="541.7" r="3.5"/><circle cx="441.0" cy="544.6" r="3.5"/><circle cx="441.0" cy="546.5" r="3.5"/><circle cx="441.0" cy="549.4" r="3.5"/><circle cx="441.0" cy="552.6" r="3.5"/><circle cx="441.0" cy="556.1" r="3.5"/><circle cx="441.0" cy="559.0" r="3.5"/><circle cx="441.0" cy="562.3" r="3.5"/><circle cx="441.0" cy="566.4" r="3.5"/><circle cx="441.0" cy="567.8" r="3.5"/><circle cx="441.0" cy="571.4" r="3.5"/><circle cx="441.0" cy="573.4" r="3.5"/><circle cx="441.0" cy="577.6" r="3.5"/><circle cx="441.0" cy="580.7" r="3.5"/><circle cx="441.0" cy="584.0" r="3.5"/><circle cx="455.9" cy="566.0" r="3.5"/><circle cx="455.9" cy="584.5" r="3.5"/><circle cx="455.9" cy="602.8" r="3.5"/></g><g fill="none" stroke="#ff0000" stroke-width="1.3"><circle cx="85.5" cy="232.0" r="2.6"/><circle cx="85.5" cy="261.0" r="2.6"/><circle cx="85.5" cy="266.0" r="2.6"/><circle cx="85.5" cy="276.0" r="2.6"/><circle cx="85.5" cy="299.0" r="2.6"/><circle cx="85.5" cy="304.0" r="2.6"/><circle cx="85.5" cy="347.0" r="2.6"/><circle cx="100.3" cy="232.0" r="2.6"/><circle cx="100.3" cy="235.0" r="2.6"/><circle cx="100.3" cy="244.0" r="2.6"/><circle cx="100.3" cy="250.0" r="2.6"/><circle cx="100.3" cy="255.0" r="2.6"/><circle cx="100.3" cy="260.0" r="2.6"/><circle cx="100.3" cy="271.0" r="2.6"/><circle cx="100.3" cy="303.0" r="2.6"/><circle cx="115.2" cy="206.7" r="2.6"/><circle cx="115.2" cy="234.0" r="2.6"/><circle cx="115.2" cy="238.0" r="2.6"/><circle cx="115.2" cy="241.0" r="2.6"/><circle cx="115.2" cy="254.0" r="2.6"/><circle cx="115.2" cy="270.7" r="2.6"/><circle cx="115.2" cy="280.0" r="2.6"/><circle cx="115.2" cy="286.0" r="2.6"/><circle cx="115.2" cy="290.0" r="2.6"/><circle cx="115.2" cy="293.0" r="2.6"/><circle cx="130.1" cy="212.7" r="2.6"/><circle cx="130.1" cy="235.0" r="2.6"/><circle cx="130.1" cy="241.0" r="2.6"/><circle cx="130.1" cy="251.8" r="2.6"/><circle cx="130.1" cy="259.0" r="2.6"/><circle cx="130.1" cy="262.0" r="2.6"/><circle cx="130.1" cy="266.0" r="2.6"/><circle cx="130.1" cy="274.0" r="2.6"/><circle cx="130.1" cy="307.4" r="2.6"/><circle cx="144.9" cy="233.0" r="2.6"/><circle cx="144.9" cy="236.0" r="2.6"/><circle cx="144.9" cy="239.0" r="2.6"/><circle cx="144.9" cy="242.0" r="2.6"/><circle cx="144.9" cy="252.0" r="2.6"/><circle cx="144.9" cy="259.0" r="2.6"/><circle cx="144.9" cy="278.0" r="2.6"/><circle cx="159.8" cy="208.0" r="2.6"/><circle cx="159.8" cy="212.0" r="2.6"/><circle cx="159.8" cy="216.0" r="2.6"/><circle cx="159.8" cy="231.6" r="2.6"/><circle cx="159.8" cy="243.5" r="2.6"/><circle cx="159.8" cy="247.0" r="2.6"/><circle cx="159.8" cy="250.0" r="2.6"/><circle cx="159.8" cy="253.0" r="2.6"/><circle cx="159.8" cy="256.5" r="2.6"/><circle cx="159.8" cy="286.0" r="2.6"/><circle cx="159.8" cy="296.8" r="2.6"/><circle cx="159.8" cy="319.8" r="2.6"/><circle cx="174.6" cy="197.6" r="2.6"/><circle cx="174.6" cy="207.0" r="2.6"/><circle cx="174.6" cy="211.7" r="2.6"/><circle cx="174.6" cy="237.0" r="2.6"/><circle cx="174.6" cy="250.8" r="2.6"/><circle cx="174.6" cy="255.0" r="2.6"/><circle cx="174.6" cy="290.0" r="2.6"/><circle cx="174.6" cy="300.4" r="2.6"/><circle cx="174.6" cy="308.8" r="2.6"/><circle cx="189.4" cy="181.6" r="2.6"/><circle cx="189.4" cy="184.6" r="2.6"/><circle cx="189.4" cy="198.0" r="2.6"/><circle cx="189.4" cy="225.0" r="2.6"/><circle cx="189.4" cy="230.0" r="2.6"/><circle cx="189.4" cy="235.0" r="2.6"/><circle cx="189.4" cy="240.0" r="2.6"/><circle cx="189.4" cy="246.0" r="2.6"/><circle cx="189.4" cy="261.0" r="2.6"/><circle cx="189.4" cy="267.0" r="2.6"/><circle cx="189.4" cy="341.0" r="2.6"/><circle cx="204.3" cy="189.0" r="2.6"/><circle cx="204.3" cy="205.7" r="2.6"/><circle cx="204.3" cy="210.0" r="2.6"/><circle cx="204.3" cy="215.0" r="2.6"/><circle cx="204.3" cy="220.0" r="2.6"/><circle cx="204.3" cy="225.0" r="2.6"/><circle cx="204.3" cy="252.0" r="2.6"/><circle cx="204.3" cy="258.0" r="2.6"/><circle cx="204.3" cy="267.0" r="2.6"/><circle cx="219.2" cy="192.0" r="2.6"/><circle cx="219.2" cy="210.0" r="2.6"/><circle cx="219.2" cy="216.0" r="2.6"/><circle cx="219.2" cy="229.7" r="2.6"/><circle cx="219.2" cy="243.0" r="2.6"/><circle cx="219.2" cy="256.8" r="2.6"/><circle cx="219.2" cy="273.0" r="2.6"/><circle cx="234.0" cy="178.0" r="2.6"/><circle cx="234.0" cy="243.5" r="2.6"/><circle cx="234.0" cy="203.0" r="2.6"/><circle cx="234.0" cy="236.9" r="2.6"/><circle cx="234.0" cy="190.3" r="2.6"/><circle cx="234.0" cy="204.7" r="2.6"/><circle cx="234.0" cy="178.8" r="2.6"/><circle cx="234.0" cy="216.6" r="2.6"/><circle cx="234.0" cy="205.6" r="2.6"/><circle cx="234.0" cy="199.7" r="2.6"/><circle cx="234.0" cy="203.5" r="2.6"/><circle cx="234.0" cy="195.9" r="2.6"/><circle cx="234.0" cy="204.7" r="2.6"/><circle cx="234.0" cy="190.1" r="2.6"/><circle cx="234.0" cy="224.7" r="2.6"/><circle cx="234.0" cy="239.1" r="2.6"/><circle cx="234.0" cy="237.4" r="2.6"/><circle cx="234.0" cy="202.0" r="2.6"/><circle cx="234.0" cy="178.8" r="2.6"/><circle cx="234.0" cy="228.4" r="2.6"/><circle cx="234.0" cy="208.2" r="2.6"/><circle cx="234.0" cy="213.7" r="2.6"/><circle cx="248.8" cy="98.9" r="2.6"/><circle cx="248.8" cy="136.7" r="2.6"/><circle cx="248.8" cy="174.0" r="2.6"/><circle cx="248.8" cy="251.5" r="2.6"/><circle cx="248.8" cy="225.6" r="2.6"/><circle cx="248.8" cy="225.6" r="2.6"/><circle cx="248.8" cy="185.1" r="2.6"/><circle cx="248.8" cy="219.3" r="2.6"/><circle cx="248.8" cy="222.6" r="2.6"/><circle cx="248.8" cy="189.1" r="2.6"/><circle cx="248.8" cy="176.0" r="2.6"/><circle cx="248.8" cy="226.6" r="2.6"/><circle cx="248.8" cy="251.0" r="2.6"/><circle cx="248.8" cy="224.1" r="2.6"/><circle cx="248.8" cy="189.6" r="2.6"/><circle cx="248.8" cy="241.5" r="2.6"/><circle cx="248.8" cy="198.6" r="2.6"/><circle cx="248.8" cy="200.5" r="2.6"/><circle cx="248.8" cy="237.0" r="2.6"/><circle cx="248.8" cy="235.5" r="2.6"/><circle cx="263.7" cy="72.5" r="2.6"/><circle cx="263.7" cy="257.8" r="2.6"/><circle cx="263.7" cy="271.0" r="2.6"/><circle cx="263.7" cy="176.0" r="2.6"/><circle cx="263.7" cy="243.5" r="2.6"/><circle cx="263.7" cy="220.4" r="2.6"/><circle cx="263.7" cy="177.8" r="2.6"/><circle cx="263.7" cy="200.7" r="2.6"/><circle cx="263.7" cy="223.9" r="2.6"/><circle cx="263.7" cy="192.4" r="2.6"/><circle cx="263.7" cy="180.3" r="2.6"/><circle cx="263.7" cy="216.1" r="2.6"/><circle cx="263.7" cy="227.9" r="2.6"/><circle cx="263.7" cy="243.2" r="2.6"/><circle cx="263.7" cy="225.2" r="2.6"/><circle cx="263.7" cy="206.3" r="2.6"/><circle cx="263.7" cy="178.2" r="2.6"/><circle cx="263.7" cy="221.9" r="2.6"/><circle cx="263.7" cy="236.2" r="2.6"/><circle cx="263.7" cy="211.0" r="2.6"/><circle cx="263.7" cy="214.0" r="2.6"/><circle cx="263.7" cy="182.2" r="2.6"/><circle cx="263.7" cy="197.7" r="2.6"/><circle cx="263.7" cy="216.0" r="2.6"/><circle cx="263.7" cy="230.2" r="2.6"/><circle cx="263.7" cy="197.9" r="2.6"/><circle cx="278.5" cy="90.0" r="2.6"/><circle cx="278.5" cy="114.4" r="2.6"/><circle cx="278.5" cy="117.0" r="2.6"/><circle cx="278.5" cy="144.7" r="2.6"/><circle cx="278.5" cy="150.0" r="2.6"/><circle cx="278.5" cy="161.7" r="2.6"/><circle cx="278.5" cy="170.6" r="2.6"/><circle cx="278.5" cy="238.0" r="2.6"/><circle cx="278.5" cy="257.4" r="2.6"/><circle cx="278.5" cy="183.0" r="2.6"/><circle cx="278.5" cy="218.5" r="2.6"/><circle cx="278.5" cy="186.3" r="2.6"/><circle cx="278.5" cy="211.0" r="2.6"/><circle cx="278.5" cy="186.0" r="2.6"/><circle cx="278.5" cy="195.7" r="2.6"/><circle cx="278.5" cy="218.5" r="2.6"/><circle cx="278.5" cy="214.2" r="2.6"/><circle cx="278.5" cy="186.9" r="2.6"/><circle cx="278.5" cy="203.1" r="2.6"/><circle cx="278.5" cy="197.9" r="2.6"/><circle cx="278.5" cy="207.0" r="2.6"/><circle cx="278.5" cy="213.5" r="2.6"/><circle cx="293.4" cy="134.5" r="2.6"/><circle cx="293.4" cy="146.7" r="2.6"/><circle cx="293.4" cy="152.4" r="2.6"/><circle cx="293.4" cy="227.0" r="2.6"/><circle cx="293.4" cy="230.0" r="2.6"/><circle cx="293.4" cy="233.3" r="2.6"/><circle cx="293.4" cy="163.0" r="2.6"/><circle cx="293.4" cy="218.0" r="2.6"/><circle cx="293.4" cy="207.3" r="2.6"/><circle cx="293.4" cy="165.7" r="2.6"/><circle cx="293.4" cy="210.9" r="2.6"/><circle cx="293.4" cy="217.8" r="2.6"/><circle cx="293.4" cy="202.5" r="2.6"/><circle cx="293.4" cy="196.3" r="2.6"/><circle cx="293.4" cy="203.3" r="2.6"/><circle cx="293.4" cy="167.8" r="2.6"/><circle cx="293.4" cy="210.5" r="2.6"/><circle cx="293.4" cy="167.8" r="2.6"/><circle cx="293.4" cy="176.1" r="2.6"/><circle cx="293.4" cy="177.9" r="2.6"/><circle cx="293.4" cy="200.8" r="2.6"/><circle cx="293.4" cy="184.6" r="2.6"/><circle cx="293.4" cy="184.2" r="2.6"/><circle cx="293.4" cy="190.6" r="2.6"/><circle cx="293.4" cy="204.4" r="2.6"/><circle cx="308.2" cy="113.7" r="2.6"/><circle cx="308.2" cy="140.8" r="2.6"/><circle cx="308.2" cy="145.2" r="2.6"/><circle cx="308.2" cy="182.0" r="2.6"/><circle cx="308.2" cy="189.0" r="2.6"/><circle cx="308.2" cy="196.0" r="2.6"/><circle cx="308.2" cy="204.0" r="2.6"/><circle cx="308.2" cy="208.0" r="2.6"/><circle cx="308.2" cy="212.0" r="2.6"/><circle cx="308.2" cy="215.0" r="2.6"/><circle cx="308.2" cy="234.0" r="2.6"/><circle cx="308.2" cy="246.7" r="2.6"/><circle cx="308.2" cy="150.0" r="2.6"/><circle cx="308.2" cy="178.0" r="2.6"/><circle cx="308.2" cy="176.1" r="2.6"/><circle cx="308.2" cy="172.1" r="2.6"/><circle cx="308.2" cy="162.4" r="2.6"/><circle cx="308.2" cy="167.8" r="2.6"/><circle cx="308.2" cy="160.1" r="2.6"/><circle cx="308.2" cy="169.9" r="2.6"/><circle cx="308.2" cy="164.5" r="2.6"/><circle cx="308.2" cy="150.8" r="2.6"/><circle cx="308.2" cy="168.9" r="2.6"/><circle cx="323.1" cy="108.3" r="2.6"/><circle cx="323.1" cy="145.2" r="2.6"/><circle cx="323.1" cy="225.0" r="2.6"/><circle cx="323.1" cy="228.0" r="2.6"/><circle cx="323.1" cy="231.0" r="2.6"/><circle cx="323.1" cy="150.0" r="2.6"/><circle cx="323.1" cy="192.0" r="2.6"/><circle cx="323.1" cy="151.8" r="2.6"/><circle cx="323.1" cy="176.9" r="2.6"/><circle cx="323.1" cy="163.1" r="2.6"/><circle cx="323.1" cy="167.8" r="2.6"/><circle cx="323.1" cy="185.2" r="2.6"/><circle cx="323.1" cy="158.6" r="2.6"/><circle cx="323.1" cy="171.5" r="2.6"/><circle cx="323.1" cy="161.2" r="2.6"/><circle cx="323.1" cy="175.6" r="2.6"/><circle cx="323.1" cy="172.9" r="2.6"/><circle cx="323.1" cy="178.0" r="2.6"/><circle cx="323.1" cy="154.0" r="2.6"/><circle cx="323.1" cy="176.6" r="2.6"/><circle cx="323.1" cy="196.0" r="2.6"/><circle cx="323.1" cy="218.0" r="2.6"/><circle cx="323.1" cy="210.6" r="2.6"/><circle cx="323.1" cy="197.5" r="2.6"/><circle cx="323.1" cy="217.3" r="2.6"/><circle cx="323.1" cy="214.7" r="2.6"/><circle cx="323.1" cy="213.4" r="2.6"/><circle cx="323.1" cy="213.3" r="2.6"/><circle cx="323.1" cy="207.0" r="2.6"/><circle cx="337.9" cy="52.8" r="2.6"/><circle cx="337.9" cy="100.3" r="2.6"/><circle cx="337.9" cy="120.6" r="2.6"/><circle cx="337.9" cy="123.5" r="2.6"/><circle cx="337.9" cy="231.0" r="2.6"/><circle cx="337.9" cy="253.0" r="2.6"/><circle cx="337.9" cy="134.5" r="2.6"/><circle cx="337.9" cy="216.4" r="2.6"/><circle cx="337.9" cy="182.5" r="2.6"/><circle cx="337.9" cy="170.8" r="2.6"/><circle cx="337.9" cy="135.5" r="2.6"/><circle cx="337.9" cy="147.9" r="2.6"/><circle cx="337.9" cy="173.9" r="2.6"/><circle cx="337.9" cy="141.2" r="2.6"/><circle cx="337.9" cy="183.2" r="2.6"/><circle cx="337.9" cy="150.1" r="2.6"/><circle cx="337.9" cy="190.6" r="2.6"/><circle cx="337.9" cy="167.7" r="2.6"/><circle cx="337.9" cy="188.4" r="2.6"/><circle cx="337.9" cy="156.0" r="2.6"/><circle cx="337.9" cy="144.7" r="2.6"/><circle cx="337.9" cy="188.9" r="2.6"/><circle cx="337.9" cy="202.1" r="2.6"/><circle cx="337.9" cy="151.8" r="2.6"/><circle cx="337.9" cy="137.5" r="2.6"/><circle cx="337.9" cy="205.6" r="2.6"/><circle cx="337.9" cy="196.2" r="2.6"/><circle cx="337.9" cy="197.3" r="2.6"/><circle cx="337.9" cy="199.3" r="2.6"/><circle cx="337.9" cy="168.7" r="2.6"/><circle cx="337.9" cy="212.4" r="2.6"/><circle cx="337.9" cy="200.6" r="2.6"/><circle cx="337.9" cy="196.4" r="2.6"/><circle cx="337.9" cy="211.5" r="2.6"/><circle cx="352.8" cy="73.0" r="2.6"/><circle cx="352.8" cy="114.5" r="2.6"/><circle cx="352.8" cy="120.8" r="2.6"/><circle cx="352.8" cy="127.0" r="2.6"/><circle cx="352.8" cy="130.0" r="2.6"/><circle cx="352.8" cy="136.8" r="2.6"/><circle cx="352.8" cy="140.4" r="2.6"/><circle cx="352.8" cy="207.0" r="2.6"/><circle cx="352.8" cy="211.5" r="2.6"/><circle cx="352.8" cy="221.3" r="2.6"/><circle cx="352.8" cy="228.5" r="2.6"/><circle cx="352.8" cy="152.0" r="2.6"/><circle cx="352.8" cy="202.6" r="2.6"/><circle cx="352.8" cy="200.2" r="2.6"/><circle cx="352.8" cy="200.0" r="2.6"/><circle cx="352.8" cy="201.5" r="2.6"/><circle cx="352.8" cy="170.3" r="2.6"/><circle cx="352.8" cy="156.1" r="2.6"/><circle cx="352.8" cy="160.2" r="2.6"/><circle cx="352.8" cy="195.5" r="2.6"/><circle cx="352.8" cy="169.8" r="2.6"/><circle cx="352.8" cy="159.4" r="2.6"/><circle cx="352.8" cy="200.4" r="2.6"/><circle cx="352.8" cy="163.3" r="2.6"/><circle cx="352.8" cy="180.4" r="2.6"/><circle cx="352.8" cy="172.9" r="2.6"/><circle cx="352.8" cy="159.0" r="2.6"/><circle cx="352.8" cy="170.8" r="2.6"/><circle cx="352.8" cy="191.9" r="2.6"/><circle cx="367.6" cy="114.5" r="2.6"/><circle cx="367.6" cy="117.0" r="2.6"/><circle cx="367.6" cy="120.0" r="2.6"/><circle cx="367.6" cy="220.5" r="2.6"/><circle cx="367.6" cy="127.0" r="2.6"/><circle cx="367.6" cy="145.0" r="2.6"/><circle cx="367.6" cy="134.6" r="2.6"/><circle cx="367.6" cy="131.3" r="2.6"/><circle cx="367.6" cy="143.0" r="2.6"/><circle cx="367.6" cy="144.6" r="2.6"/><circle cx="367.6" cy="150.0" r="2.6"/><circle cx="367.6" cy="213.0" r="2.6"/><circle cx="367.6" cy="154.3" r="2.6"/><circle cx="367.6" cy="201.8" r="2.6"/><circle cx="367.6" cy="211.4" r="2.6"/><circle cx="367.6" cy="168.7" r="2.6"/><circle cx="367.6" cy="172.6" r="2.6"/><circle cx="367.6" cy="162.1" r="2.6"/><circle cx="367.6" cy="163.7" r="2.6"/><circle cx="367.6" cy="198.5" r="2.6"/><circle cx="367.6" cy="177.8" r="2.6"/><circle cx="367.6" cy="169.5" r="2.6"/><circle cx="367.6" cy="173.0" r="2.6"/><circle cx="367.6" cy="207.2" r="2.6"/><circle cx="367.6" cy="212.8" r="2.6"/><circle cx="367.6" cy="170.1" r="2.6"/><circle cx="367.6" cy="166.8" r="2.6"/><circle cx="367.6" cy="167.0" r="2.6"/><circle cx="367.6" cy="199.4" r="2.6"/><circle cx="367.6" cy="207.3" r="2.6"/><circle cx="367.6" cy="162.1" r="2.6"/><circle cx="367.6" cy="156.6" r="2.6"/><circle cx="382.5" cy="95.0" r="2.6"/><circle cx="382.5" cy="103.5" r="2.6"/><circle cx="382.5" cy="112.4" r="2.6"/><circle cx="382.5" cy="123.0" r="2.6"/><circle cx="382.5" cy="198.0" r="2.6"/><circle cx="382.5" cy="196.4" r="2.6"/><circle cx="382.5" cy="166.5" r="2.6"/><circle cx="382.5" cy="156.9" r="2.6"/><circle cx="382.5" cy="145.1" r="2.6"/><circle cx="382.5" cy="176.8" r="2.6"/><circle cx="382.5" cy="134.1" r="2.6"/><circle cx="382.5" cy="169.0" r="2.6"/><circle cx="382.5" cy="160.5" r="2.6"/><circle cx="382.5" cy="128.1" r="2.6"/><circle cx="382.5" cy="160.6" r="2.6"/><circle cx="382.5" cy="148.4" r="2.6"/><circle cx="382.5" cy="123.8" r="2.6"/><circle cx="397.3" cy="87.8" r="2.6"/><circle cx="397.3" cy="104.7" r="2.6"/><circle cx="397.3" cy="107.0" r="2.6"/><circle cx="397.3" cy="109.2" r="2.6"/><circle cx="397.3" cy="118.0" r="2.6"/><circle cx="397.3" cy="201.7" r="2.6"/><circle cx="397.3" cy="205.0" r="2.6"/><circle cx="397.3" cy="208.0" r="2.6"/><circle cx="397.3" cy="211.5" r="2.6"/><circle cx="397.3" cy="117.0" r="2.6"/><circle cx="397.3" cy="136.0" r="2.6"/><circle cx="397.3" cy="123.3" r="2.6"/><circle cx="397.3" cy="121.4" r="2.6"/><circle cx="397.3" cy="121.7" r="2.6"/><circle cx="397.3" cy="131.7" r="2.6"/><circle cx="397.3" cy="128.2" r="2.6"/><circle cx="397.3" cy="133.4" r="2.6"/><circle cx="397.3" cy="140.0" r="2.6"/><circle cx="397.3" cy="193.0" r="2.6"/><circle cx="397.3" cy="165.4" r="2.6"/><circle cx="397.3" cy="186.1" r="2.6"/><circle cx="397.3" cy="187.7" r="2.6"/><circle cx="397.3" cy="143.9" r="2.6"/><circle cx="397.3" cy="175.4" r="2.6"/><circle cx="397.3" cy="144.0" r="2.6"/><circle cx="397.3" cy="158.7" r="2.6"/><circle cx="397.3" cy="146.8" r="2.6"/><circle cx="397.3" cy="173.5" r="2.6"/><circle cx="397.3" cy="146.6" r="2.6"/><circle cx="397.3" cy="144.7" r="2.6"/><circle cx="412.2" cy="23.0" r="2.6"/><circle cx="412.2" cy="90.4" r="2.6"/><circle cx="412.2" cy="103.3" r="2.6"/><circle cx="412.2" cy="106.0" r="2.6"/><circle cx="412.2" cy="109.0" r="2.6"/><circle cx="412.2" cy="112.5" r="2.6"/><circle cx="412.2" cy="189.0" r="2.6"/><circle cx="412.2" cy="192.0" r="2.6"/><circle cx="412.2" cy="195.0" r="2.6"/><circle cx="412.2" cy="117.0" r="2.6"/><circle cx="412.2" cy="182.0" r="2.6"/><circle cx="412.2" cy="163.9" r="2.6"/><circle cx="412.2" cy="118.2" r="2.6"/><circle cx="412.2" cy="172.6" r="2.6"/><circle cx="412.2" cy="137.5" r="2.6"/><circle cx="412.2" cy="152.8" r="2.6"/><circle cx="412.2" cy="119.8" r="2.6"/><circle cx="412.2" cy="160.3" r="2.6"/><circle cx="412.2" cy="181.8" r="2.6"/><circle cx="412.2" cy="136.6" r="2.6"/><circle cx="412.2" cy="171.5" r="2.6"/><circle cx="412.2" cy="126.8" r="2.6"/><circle cx="412.2" cy="119.4" r="2.6"/><circle cx="412.2" cy="160.4" r="2.6"/><circle cx="412.2" cy="134.6" r="2.6"/><circle cx="412.2" cy="163.5" r="2.6"/><circle cx="412.2" cy="121.2" r="2.6"/><circle cx="412.2" cy="125.7" r="2.6"/><circle cx="412.2" cy="137.5" r="2.6"/><circle cx="412.2" cy="150.7" r="2.6"/><circle cx="412.2" cy="132.6" r="2.6"/><circle cx="427.1" cy="60.0" r="2.6"/><circle cx="427.1" cy="81.3" r="2.6"/><circle cx="427.1" cy="89.6" r="2.6"/><circle cx="427.1" cy="190.5" r="2.6"/><circle cx="427.1" cy="200.4" r="2.6"/><circle cx="427.1" cy="215.8" r="2.6"/><circle cx="427.1" cy="112.5" r="2.6"/><circle cx="427.1" cy="130.0" r="2.6"/><circle cx="427.1" cy="122.0" r="2.6"/><circle cx="427.1" cy="117.3" r="2.6"/><circle cx="427.1" cy="118.9" r="2.6"/><circle cx="427.1" cy="117.7" r="2.6"/><circle cx="427.1" cy="129.3" r="2.6"/><circle cx="427.1" cy="137.0" r="2.6"/><circle cx="427.1" cy="178.0" r="2.6"/><circle cx="427.1" cy="172.4" r="2.6"/><circle cx="427.1" cy="169.3" r="2.6"/><circle cx="427.1" cy="158.3" r="2.6"/><circle cx="427.1" cy="156.9" r="2.6"/><circle cx="427.1" cy="167.2" r="2.6"/><circle cx="427.1" cy="173.5" r="2.6"/><circle cx="427.1" cy="166.4" r="2.6"/><circle cx="427.1" cy="175.8" r="2.6"/><circle cx="427.1" cy="161.7" r="2.6"/><circle cx="427.1" cy="171.4" r="2.6"/><circle cx="427.1" cy="161.9" r="2.6"/><circle cx="427.1" cy="159.5" r="2.6"/><circle cx="427.1" cy="170.7" r="2.6"/><circle cx="441.9" cy="79.2" r="2.6"/><circle cx="441.9" cy="87.3" r="2.6"/><circle cx="441.9" cy="90.8" r="2.6"/><circle cx="441.9" cy="94.4" r="2.6"/><circle cx="441.9" cy="98.0" r="2.6"/><circle cx="441.9" cy="111.8" r="2.6"/><circle cx="441.9" cy="113.3" r="2.6"/><circle cx="441.9" cy="138.5" r="2.6"/><circle cx="441.9" cy="143.0" r="2.6"/><circle cx="441.9" cy="158.0" r="2.6"/><circle cx="441.9" cy="161.0" r="2.6"/><circle cx="441.9" cy="164.0" r="2.6"/><circle cx="441.9" cy="167.0" r="2.6"/><circle cx="441.9" cy="169.0" r="2.6"/><circle cx="441.9" cy="190.5" r="2.6"/><circle cx="441.9" cy="207.8" r="2.6"/><circle cx="456.8" cy="47.5" r="2.6"/><circle cx="456.8" cy="103.3" r="2.6"/><circle cx="456.8" cy="106.4" r="2.6"/><circle cx="456.8" cy="126.3" r="2.6"/><circle cx="456.8" cy="129.0" r="2.6"/><circle cx="456.8" cy="131.5" r="2.6"/><circle cx="456.8" cy="134.0" r="2.6"/><circle cx="456.8" cy="141.6" r="2.6"/><circle cx="456.8" cy="143.9" r="2.6"/><circle cx="456.8" cy="153.8" r="2.6"/><circle cx="456.8" cy="156.0" r="2.6"/><circle cx="456.8" cy="158.4" r="2.6"/><circle cx="456.8" cy="166.8" r="2.6"/><circle cx="456.8" cy="180.5" r="2.6"/></g><g fill="none" stroke="#ff0000" stroke-width="1.3"><circle cx="84.6" cy="592.8" r="2.6"/><circle cx="84.6" cy="650.8" r="2.6"/><circle cx="84.6" cy="655.0" r="2.6"/><circle cx="84.6" cy="660.0" r="2.6"/><circle cx="84.6" cy="664.0" r="2.6"/><circle cx="84.6" cy="688.3" r="2.6"/><circle cx="99.4" cy="605.3" r="2.6"/><circle cx="99.4" cy="623.0" r="2.6"/><circle cx="99.4" cy="628.0" r="2.6"/><circle cx="99.4" cy="633.0" r="2.6"/><circle cx="99.4" cy="638.0" r="2.6"/><circle cx="99.4" cy="647.0" r="2.6"/><circle cx="99.4" cy="671.3" r="2.6"/><circle cx="99.4" cy="688.3" r="2.6"/><circle cx="99.4" cy="707.6" r="2.6"/><circle cx="114.3" cy="627.8" r="2.6"/><circle cx="114.3" cy="632.6" r="2.6"/><circle cx="114.3" cy="646.0" r="2.6"/><circle cx="114.3" cy="649.5" r="2.6"/><circle cx="114.3" cy="664.0" r="2.6"/><circle cx="114.3" cy="666.5" r="2.6"/><circle cx="114.3" cy="720.2" r="2.6"/><circle cx="129.1" cy="616.4" r="2.6"/><circle cx="129.1" cy="635.0" r="2.6"/><circle cx="129.1" cy="649.5" r="2.6"/><circle cx="129.1" cy="661.6" r="2.6"/><circle cx="129.1" cy="666.0" r="2.6"/><circle cx="129.1" cy="671.0" r="2.6"/><circle cx="129.1" cy="675.0" r="2.6"/><circle cx="129.1" cy="685.8" r="2.6"/><circle cx="144.0" cy="606.5" r="2.6"/><circle cx="144.0" cy="635.0" r="2.6"/><circle cx="144.0" cy="644.7" r="2.6"/><circle cx="144.0" cy="648.0" r="2.6"/><circle cx="144.0" cy="652.0" r="2.6"/><circle cx="144.0" cy="656.0" r="2.6"/><circle cx="144.0" cy="659.2" r="2.6"/><circle cx="144.0" cy="692.4" r="2.6"/><circle cx="158.8" cy="578.0" r="2.6"/><circle cx="158.8" cy="610.3" r="2.6"/><circle cx="158.8" cy="618.0" r="2.6"/><circle cx="158.8" cy="632.6" r="2.6"/><circle cx="158.8" cy="648.3" r="2.6"/><circle cx="158.8" cy="656.8" r="2.6"/><circle cx="158.8" cy="666.5" r="2.6"/><circle cx="158.8" cy="670.0" r="2.6"/><circle cx="158.8" cy="699.9" r="2.6"/><circle cx="173.7" cy="613.0" r="2.6"/><circle cx="173.7" cy="625.3" r="2.6"/><circle cx="173.7" cy="631.4" r="2.6"/><circle cx="173.7" cy="642.3" r="2.6"/><circle cx="173.7" cy="646.0" r="2.6"/><circle cx="173.7" cy="653.2" r="2.6"/><circle cx="173.7" cy="660.4" r="2.6"/><circle cx="173.7" cy="678.6" r="2.6"/><circle cx="188.6" cy="577.0" r="2.6"/><circle cx="188.6" cy="604.8" r="2.6"/><circle cx="188.6" cy="617.0" r="2.6"/><circle cx="188.6" cy="621.0" r="2.6"/><circle cx="188.6" cy="625.0" r="2.6"/><circle cx="188.6" cy="629.0" r="2.6"/><circle cx="188.6" cy="633.0" r="2.6"/><circle cx="188.6" cy="650.8" r="2.6"/><circle cx="188.6" cy="658.0" r="2.6"/><circle cx="188.6" cy="670.0" r="2.6"/><circle cx="188.6" cy="673.7" r="2.6"/><circle cx="203.4" cy="602.7" r="2.6"/><circle cx="203.4" cy="606.0" r="2.6"/><circle cx="203.4" cy="608.8" r="2.6"/><circle cx="203.4" cy="615.0" r="2.6"/><circle cx="203.4" cy="628.7" r="2.6"/><circle cx="203.4" cy="631.7" r="2.6"/><circle cx="203.4" cy="639.4" r="2.6"/><circle cx="203.4" cy="648.5" r="2.6"/><circle cx="203.4" cy="657.7" r="2.6"/><circle cx="203.4" cy="661.0" r="2.6"/><circle cx="203.4" cy="665.3" r="2.6"/><circle cx="218.2" cy="597.5" r="2.6"/><circle cx="218.2" cy="641.0" r="2.6"/><circle cx="218.2" cy="644.0" r="2.6"/><circle cx="218.2" cy="647.0" r="2.6"/><circle cx="218.2" cy="663.8" r="2.6"/><circle cx="218.2" cy="601.0" r="2.6"/><circle cx="218.2" cy="628.7" r="2.6"/><circle cx="218.2" cy="609.9" r="2.6"/><circle cx="218.2" cy="603.6" r="2.6"/><circle cx="218.2" cy="617.9" r="2.6"/><circle cx="218.2" cy="602.4" r="2.6"/><circle cx="218.2" cy="614.0" r="2.6"/><circle cx="218.2" cy="612.3" r="2.6"/><circle cx="218.2" cy="609.1" r="2.6"/><circle cx="218.2" cy="608.0" r="2.6"/><circle cx="218.2" cy="614.5" r="2.6"/><circle cx="218.2" cy="632.0" r="2.6"/><circle cx="218.2" cy="670.0" r="2.6"/><circle cx="218.2" cy="665.5" r="2.6"/><circle cx="218.2" cy="662.2" r="2.6"/><circle cx="218.2" cy="643.7" r="2.6"/><circle cx="218.2" cy="654.6" r="2.6"/><circle cx="218.2" cy="656.0" r="2.6"/><circle cx="218.2" cy="659.4" r="2.6"/><circle cx="218.2" cy="655.8" r="2.6"/><circle cx="218.2" cy="634.4" r="2.6"/><circle cx="233.1" cy="564.6" r="2.6"/><circle cx="233.1" cy="585.8" r="2.6"/><circle cx="233.1" cy="589.0" r="2.6"/><circle cx="233.1" cy="654.6" r="2.6"/><circle cx="233.1" cy="670.0" r="2.6"/><circle cx="233.1" cy="604.0" r="2.6"/><circle cx="233.1" cy="628.7" r="2.6"/><circle cx="233.1" cy="613.8" r="2.6"/><circle cx="233.1" cy="615.1" r="2.6"/><circle cx="233.1" cy="621.0" r="2.6"/><circle cx="233.1" cy="622.3" r="2.6"/><circle cx="233.1" cy="605.7" r="2.6"/><circle cx="233.1" cy="604.6" r="2.6"/><circle cx="233.1" cy="612.6" r="2.6"/><circle cx="233.1" cy="611.8" r="2.6"/><circle cx="233.1" cy="630.0" r="2.6"/><circle cx="233.1" cy="650.0" r="2.6"/><circle cx="233.1" cy="638.9" r="2.6"/><circle cx="233.1" cy="648.9" r="2.6"/><circle cx="233.1" cy="636.0" r="2.6"/><circle cx="233.1" cy="634.5" r="2.6"/><circle cx="247.9" cy="552.8" r="2.6"/><circle cx="247.9" cy="555.3" r="2.6"/><circle cx="247.9" cy="582.8" r="2.6"/><circle cx="247.9" cy="674.5" r="2.6"/><circle cx="247.9" cy="664.9" r="2.6"/><circle cx="247.9" cy="591.5" r="2.6"/><circle cx="247.9" cy="598.8" r="2.6"/><circle cx="247.9" cy="603.3" r="2.6"/><circle cx="247.9" cy="632.1" r="2.6"/><circle cx="247.9" cy="611.2" r="2.6"/><circle cx="247.9" cy="625.9" r="2.6"/><circle cx="247.9" cy="588.3" r="2.6"/><circle cx="247.9" cy="610.5" r="2.6"/><circle cx="247.9" cy="583.3" r="2.6"/><circle cx="247.9" cy="594.0" r="2.6"/><circle cx="247.9" cy="643.2" r="2.6"/><circle cx="247.9" cy="633.9" r="2.6"/><circle cx="247.9" cy="625.2" r="2.6"/><circle cx="247.9" cy="585.1" r="2.6"/><circle cx="247.9" cy="652.4" r="2.6"/><circle cx="247.9" cy="591.8" r="2.6"/><circle cx="247.9" cy="646.9" r="2.6"/><circle cx="247.9" cy="620.1" r="2.6"/><circle cx="247.9" cy="662.8" r="2.6"/><circle cx="247.9" cy="591.7" r="2.6"/><circle cx="247.9" cy="615.0" r="2.6"/><circle cx="247.9" cy="586.6" r="2.6"/><circle cx="247.9" cy="668.8" r="2.6"/><circle cx="247.9" cy="639.2" r="2.6"/><circle cx="247.9" cy="613.9" r="2.6"/><circle cx="247.9" cy="597.6" r="2.6"/><circle cx="247.9" cy="664.5" r="2.6"/><circle cx="247.9" cy="615.4" r="2.6"/><circle cx="262.8" cy="467.7" r="2.6"/><circle cx="262.8" cy="535.3" r="2.6"/><circle cx="262.8" cy="575.0" r="2.6"/><circle cx="262.8" cy="578.0" r="2.6"/><circle cx="262.8" cy="585.8" r="2.6"/><circle cx="262.8" cy="672.0" r="2.6"/><circle cx="262.8" cy="663.9" r="2.6"/><circle cx="262.8" cy="660.0" r="2.6"/><circle cx="262.8" cy="588.2" r="2.6"/><circle cx="262.8" cy="622.3" r="2.6"/><circle cx="262.8" cy="641.8" r="2.6"/><circle cx="262.8" cy="648.2" r="2.6"/><circle cx="262.8" cy="663.7" r="2.6"/><circle cx="262.8" cy="603.5" r="2.6"/><circle cx="262.8" cy="628.5" r="2.6"/><circle cx="262.8" cy="663.3" r="2.6"/><circle cx="262.8" cy="601.8" r="2.6"/><circle cx="262.8" cy="589.5" r="2.6"/><circle cx="262.8" cy="622.4" r="2.6"/><circle cx="262.8" cy="600.9" r="2.6"/><circle cx="262.8" cy="588.7" r="2.6"/><circle cx="262.8" cy="619.8" r="2.6"/><circle cx="262.8" cy="640.6" r="2.6"/><circle cx="277.6" cy="534.4" r="2.6"/><circle cx="277.6" cy="547.4" r="2.6"/><circle cx="277.6" cy="550.4" r="2.6"/><circle cx="277.6" cy="563.0" r="2.6"/><circle cx="277.6" cy="575.0" r="2.6"/><circle cx="277.6" cy="580.0" r="2.6"/><circle cx="277.6" cy="642.0" r="2.6"/><circle cx="277.6" cy="646.7" r="2.6"/><circle cx="277.6" cy="585.6" r="2.6"/><circle cx="277.6" cy="630.0" r="2.6"/><circle cx="277.6" cy="626.7" r="2.6"/><circle cx="277.6" cy="597.4" r="2.6"/><circle cx="277.6" cy="612.1" r="2.6"/><circle cx="277.6" cy="617.7" r="2.6"/><circle cx="277.6" cy="598.1" r="2.6"/><circle cx="277.6" cy="626.7" r="2.6"/><circle cx="277.6" cy="596.7" r="2.6"/><circle cx="277.6" cy="629.6" r="2.6"/><circle cx="277.6" cy="616.9" r="2.6"/><circle cx="277.6" cy="609.0" r="2.6"/><circle cx="277.6" cy="611.2" r="2.6"/><circle cx="277.6" cy="625.2" r="2.6"/><circle cx="277.6" cy="623.7" r="2.6"/><circle cx="277.6" cy="587.5" r="2.6"/><circle cx="277.6" cy="599.7" r="2.6"/><circle cx="277.6" cy="586.0" r="2.6"/><circle cx="277.6" cy="604.3" r="2.6"/><circle cx="292.5" cy="555.0" r="2.6"/><circle cx="292.5" cy="564.0" r="2.6"/><circle cx="292.5" cy="568.0" r="2.6"/><circle cx="292.5" cy="573.4" r="2.6"/><circle cx="292.5" cy="573.4" r="2.6"/><circle cx="292.5" cy="630.0" r="2.6"/><circle cx="292.5" cy="591.4" r="2.6"/><circle cx="292.5" cy="595.1" r="2.6"/><circle cx="292.5" cy="579.8" r="2.6"/><circle cx="292.5" cy="613.6" r="2.6"/><circle cx="292.5" cy="587.5" r="2.6"/><circle cx="292.5" cy="584.9" r="2.6"/><circle cx="292.5" cy="624.1" r="2.6"/><circle cx="292.5" cy="592.3" r="2.6"/><circle cx="292.5" cy="619.1" r="2.6"/><circle cx="292.5" cy="576.7" r="2.6"/><circle cx="292.5" cy="601.9" r="2.6"/><circle cx="292.5" cy="609.9" r="2.6"/><circle cx="292.5" cy="613.3" r="2.6"/><circle cx="292.5" cy="599.7" r="2.6"/><circle cx="292.5" cy="583.2" r="2.6"/><circle cx="292.5" cy="604.2" r="2.6"/><circle cx="292.5" cy="623.4" r="2.6"/><circle cx="292.5" cy="590.1" r="2.6"/><circle cx="292.5" cy="596.4" r="2.6"/><circle cx="292.5" cy="611.0" r="2.6"/><circle cx="292.5" cy="593.3" r="2.6"/><circle cx="292.5" cy="610.2" r="2.6"/><circle cx="307.4" cy="636.0" r="2.6"/><circle cx="307.4" cy="640.0" r="2.6"/><circle cx="307.4" cy="649.8" r="2.6"/><circle cx="307.4" cy="657.4" r="2.6"/><circle cx="307.4" cy="676.7" r="2.6"/><circle cx="307.4" cy="561.0" r="2.6"/><circle cx="307.4" cy="620.0" r="2.6"/><circle cx="307.4" cy="608.3" r="2.6"/><circle cx="307.4" cy="571.1" r="2.6"/><circle cx="307.4" cy="562.8" r="2.6"/><circle cx="307.4" cy="589.3" r="2.6"/><circle cx="307.4" cy="599.1" r="2.6"/><circle cx="307.4" cy="598.4" r="2.6"/><circle cx="307.4" cy="589.7" r="2.6"/><circle cx="307.4" cy="571.8" r="2.6"/><circle cx="307.4" cy="594.5" r="2.6"/><circle cx="307.4" cy="589.0" r="2.6"/><circle cx="307.4" cy="561.1" r="2.6"/><circle cx="307.4" cy="576.5" r="2.6"/><circle cx="307.4" cy="583.7" r="2.6"/><circle cx="307.4" cy="604.2" r="2.6"/><circle cx="307.4" cy="618.4" r="2.6"/><circle cx="307.4" cy="618.7" r="2.6"/><circle cx="307.4" cy="594.5" r="2.6"/><circle cx="307.4" cy="581.8" r="2.6"/><circle cx="307.4" cy="611.6" r="2.6"/><circle cx="307.4" cy="608.2" r="2.6"/><circle cx="322.2" cy="556.6" r="2.6"/><circle cx="322.2" cy="559.8" r="2.6"/><circle cx="322.2" cy="555.0" r="2.6"/><circle cx="322.2" cy="637.6" r="2.6"/><circle cx="322.2" cy="580.6" r="2.6"/><circle cx="322.2" cy="596.6" r="2.6"/><circle cx="322.2" cy="570.7" r="2.6"/><circle cx="322.2" cy="598.3" r="2.6"/><circle cx="322.2" cy="596.1" r="2.6"/><circle cx="322.2" cy="566.6" r="2.6"/><circle cx="322.2" cy="602.8" r="2.6"/><circle cx="322.2" cy="629.8" r="2.6"/><circle cx="322.2" cy="617.4" r="2.6"/><circle cx="322.2" cy="599.7" r="2.6"/><circle cx="322.2" cy="575.4" r="2.6"/><circle cx="322.2" cy="614.2" r="2.6"/><circle cx="322.2" cy="574.7" r="2.6"/><circle cx="322.2" cy="625.1" r="2.6"/><circle cx="322.2" cy="577.9" r="2.6"/><circle cx="322.2" cy="571.0" r="2.6"/><circle cx="322.2" cy="619.3" r="2.6"/><circle cx="322.2" cy="572.4" r="2.6"/><circle cx="322.2" cy="578.1" r="2.6"/><circle cx="322.2" cy="612.6" r="2.6"/><circle cx="322.2" cy="586.6" r="2.6"/><circle cx="322.2" cy="587.6" r="2.6"/><circle cx="322.2" cy="630.6" r="2.6"/><circle cx="322.2" cy="626.7" r="2.6"/><circle cx="322.2" cy="636.9" r="2.6"/><circle cx="322.2" cy="601.1" r="2.6"/><circle cx="337.0" cy="444.5" r="2.6"/><circle cx="337.0" cy="559.0" r="2.6"/><circle cx="337.0" cy="561.0" r="2.6"/><circle cx="337.0" cy="634.5" r="2.6"/><circle cx="337.0" cy="565.2" r="2.6"/><circle cx="337.0" cy="626.0" r="2.6"/><circle cx="337.0" cy="598.2" r="2.6"/><circle cx="337.0" cy="627.1" r="2.6"/><circle cx="337.0" cy="595.4" r="2.6"/><circle cx="337.0" cy="633.0" r="2.6"/><circle cx="337.0" cy="584.2" r="2.6"/><circle cx="337.0" cy="575.2" r="2.6"/><circle cx="337.0" cy="607.5" r="2.6"/><circle cx="337.0" cy="632.7" r="2.6"/><circle cx="337.0" cy="579.8" r="2.6"/><circle cx="337.0" cy="611.5" r="2.6"/><circle cx="337.0" cy="580.5" r="2.6"/><circle cx="337.0" cy="588.3" r="2.6"/><circle cx="337.0" cy="606.2" r="2.6"/><circle cx="337.0" cy="617.6" r="2.6"/><circle cx="337.0" cy="597.4" r="2.6"/><circle cx="337.0" cy="629.4" r="2.6"/><circle cx="337.0" cy="609.1" r="2.6"/><circle cx="337.0" cy="563.6" r="2.6"/><circle cx="337.0" cy="606.2" r="2.6"/><circle cx="337.0" cy="563.6" r="2.6"/><circle cx="337.0" cy="578.7" r="2.6"/><circle cx="351.9" cy="485.7" r="2.6"/><circle cx="351.9" cy="539.2" r="2.6"/><circle cx="351.9" cy="551.5" r="2.6"/><circle cx="351.9" cy="652.3" r="2.6"/><circle cx="351.9" cy="559.0" r="2.6"/><circle cx="351.9" cy="632.0" r="2.6"/><circle cx="351.9" cy="617.2" r="2.6"/><circle cx="351.9" cy="599.2" r="2.6"/><circle cx="351.9" cy="611.1" r="2.6"/><circle cx="351.9" cy="563.3" r="2.6"/><circle cx="351.9" cy="593.5" r="2.6"/><circle cx="351.9" cy="584.0" r="2.6"/><circle cx="351.9" cy="597.4" r="2.6"/><circle cx="351.9" cy="609.7" r="2.6"/><circle cx="351.9" cy="577.7" r="2.6"/><circle cx="351.9" cy="612.6" r="2.6"/><circle cx="351.9" cy="609.8" r="2.6"/><circle cx="351.9" cy="564.2" r="2.6"/><circle cx="351.9" cy="621.7" r="2.6"/><circle cx="351.9" cy="604.6" r="2.6"/><circle cx="351.9" cy="578.6" r="2.6"/><circle cx="351.9" cy="624.2" r="2.6"/><circle cx="351.9" cy="562.2" r="2.6"/><circle cx="351.9" cy="600.9" r="2.6"/><circle cx="351.9" cy="621.3" r="2.6"/><circle cx="351.9" cy="611.9" r="2.6"/><circle cx="351.9" cy="625.7" r="2.6"/><circle cx="351.9" cy="594.5" r="2.6"/><circle cx="351.9" cy="625.7" r="2.6"/><circle cx="366.8" cy="498.0" r="2.6"/><circle cx="366.8" cy="548.4" r="2.6"/><circle cx="366.8" cy="634.0" r="2.6"/><circle cx="366.8" cy="629.8" r="2.6"/><circle cx="366.8" cy="593.8" r="2.6"/><circle cx="366.8" cy="556.4" r="2.6"/><circle cx="366.8" cy="579.9" r="2.6"/><circle cx="366.8" cy="578.6" r="2.6"/><circle cx="366.8" cy="561.3" r="2.6"/><circle cx="366.8" cy="602.0" r="2.6"/><circle cx="366.8" cy="595.7" r="2.6"/><circle cx="366.8" cy="608.6" r="2.6"/><circle cx="366.8" cy="626.1" r="2.6"/><circle cx="366.8" cy="566.6" r="2.6"/><circle cx="366.8" cy="572.2" r="2.6"/><circle cx="366.8" cy="603.0" r="2.6"/><circle cx="366.8" cy="611.6" r="2.6"/><circle cx="366.8" cy="607.4" r="2.6"/><circle cx="366.8" cy="553.0" r="2.6"/><circle cx="366.8" cy="615.9" r="2.6"/><circle cx="366.8" cy="569.2" r="2.6"/><circle cx="366.8" cy="554.6" r="2.6"/><circle cx="366.8" cy="631.2" r="2.6"/><circle cx="366.8" cy="558.2" r="2.6"/><circle cx="366.8" cy="629.4" r="2.6"/><circle cx="366.8" cy="566.6" r="2.6"/><circle cx="366.8" cy="566.0" r="2.6"/><circle cx="366.8" cy="626.6" r="2.6"/><circle cx="366.8" cy="610.8" r="2.6"/><circle cx="366.8" cy="630.4" r="2.6"/><circle cx="381.6" cy="465.2" r="2.6"/><circle cx="381.6" cy="524.6" r="2.6"/><circle cx="381.6" cy="543.8" r="2.6"/><circle cx="381.6" cy="630.0" r="2.6"/><circle cx="381.6" cy="550.7" r="2.6"/><circle cx="381.6" cy="591.8" r="2.6"/><circle cx="381.6" cy="589.7" r="2.6"/><circle cx="381.6" cy="598.3" r="2.6"/><circle cx="381.6" cy="616.4" r="2.6"/><circle cx="381.6" cy="616.8" r="2.6"/><circle cx="381.6" cy="573.4" r="2.6"/><circle cx="381.6" cy="580.0" r="2.6"/><circle cx="381.6" cy="556.9" r="2.6"/><circle cx="381.6" cy="594.1" r="2.6"/><circle cx="381.6" cy="577.2" r="2.6"/><circle cx="381.6" cy="603.8" r="2.6"/><circle cx="381.6" cy="570.0" r="2.6"/><circle cx="381.6" cy="574.9" r="2.6"/><circle cx="381.6" cy="599.9" r="2.6"/><circle cx="381.6" cy="556.7" r="2.6"/><circle cx="381.6" cy="564.2" r="2.6"/><circle cx="381.6" cy="591.9" r="2.6"/><circle cx="381.6" cy="601.1" r="2.6"/><circle cx="381.6" cy="554.3" r="2.6"/><circle cx="381.6" cy="579.2" r="2.6"/><circle cx="381.6" cy="582.9" r="2.6"/><circle cx="381.6" cy="578.8" r="2.6"/><circle cx="381.6" cy="549.7" r="2.6"/><circle cx="381.6" cy="602.9" r="2.6"/><circle cx="381.6" cy="604.0" r="2.6"/><circle cx="381.6" cy="565.1" r="2.6"/><circle cx="396.4" cy="496.4" r="2.6"/><circle cx="396.4" cy="501.0" r="2.6"/><circle cx="396.4" cy="514.8" r="2.6"/><circle cx="396.4" cy="537.7" r="2.6"/><circle cx="396.4" cy="631.4" r="2.6"/><circle cx="396.4" cy="551.5" r="2.6"/><circle cx="396.4" cy="582.0" r="2.6"/><circle cx="396.4" cy="575.3" r="2.6"/><circle cx="396.4" cy="563.3" r="2.6"/><circle cx="396.4" cy="552.2" r="2.6"/><circle cx="396.4" cy="558.1" r="2.6"/><circle cx="396.4" cy="580.3" r="2.6"/><circle cx="396.4" cy="571.7" r="2.6"/><circle cx="396.4" cy="576.5" r="2.6"/><circle cx="396.4" cy="553.2" r="2.6"/><circle cx="396.4" cy="575.5" r="2.6"/><circle cx="396.4" cy="560.0" r="2.6"/><circle cx="396.4" cy="585.0" r="2.6"/><circle cx="396.4" cy="625.0" r="2.6"/><circle cx="396.4" cy="596.8" r="2.6"/><circle cx="396.4" cy="602.4" r="2.6"/><circle cx="396.4" cy="618.3" r="2.6"/><circle cx="396.4" cy="613.3" r="2.6"/><circle cx="396.4" cy="624.5" r="2.6"/><circle cx="396.4" cy="585.2" r="2.6"/><circle cx="396.4" cy="602.5" r="2.6"/><circle cx="396.4" cy="609.8" r="2.6"/><circle cx="411.3" cy="479.6" r="2.6"/><circle cx="411.3" cy="502.5" r="2.6"/><circle cx="411.3" cy="511.7" r="2.6"/><circle cx="411.3" cy="514.8" r="2.6"/><circle cx="411.3" cy="525.5" r="2.6"/><circle cx="411.3" cy="615.7" r="2.6"/><circle cx="411.3" cy="562.0" r="2.6"/><circle cx="411.3" cy="604.0" r="2.6"/><circle cx="411.3" cy="598.4" r="2.6"/><circle cx="411.3" cy="568.8" r="2.6"/><circle cx="411.3" cy="571.0" r="2.6"/><circle cx="411.3" cy="573.6" r="2.6"/><circle cx="411.3" cy="579.9" r="2.6"/><circle cx="411.3" cy="586.5" r="2.6"/><circle cx="411.3" cy="593.5" r="2.6"/><circle cx="411.3" cy="582.2" r="2.6"/><circle cx="411.3" cy="590.3" r="2.6"/><circle cx="411.3" cy="563.7" r="2.6"/><circle cx="411.3" cy="587.9" r="2.6"/><circle cx="411.3" cy="586.5" r="2.6"/><circle cx="411.3" cy="565.1" r="2.6"/><circle cx="426.1" cy="505.6" r="2.6"/><circle cx="426.1" cy="511.7" r="2.6"/><circle cx="426.1" cy="531.6" r="2.6"/><circle cx="426.1" cy="536.2" r="2.6"/><circle cx="426.1" cy="540.0" r="2.6"/><circle cx="426.1" cy="544.0" r="2.6"/><circle cx="426.1" cy="624.8" r="2.6"/><circle cx="426.1" cy="563.7" r="2.6"/><circle cx="426.1" cy="591.2" r="2.6"/><circle cx="426.1" cy="572.1" r="2.6"/><circle cx="426.1" cy="563.8" r="2.6"/><circle cx="426.1" cy="578.2" r="2.6"/><circle cx="426.1" cy="569.1" r="2.6"/><circle cx="426.1" cy="568.9" r="2.6"/><circle cx="426.1" cy="574.2" r="2.6"/><circle cx="426.1" cy="574.9" r="2.6"/><circle cx="426.1" cy="584.2" r="2.6"/><circle cx="426.1" cy="582.8" r="2.6"/><circle cx="441.0" cy="475.6" r="2.6"/><circle cx="441.0" cy="492.8" r="2.6"/><circle cx="441.0" cy="500.1" r="2.6"/><circle cx="441.0" cy="527.0" r="2.6"/><circle cx="441.0" cy="602.8" r="2.6"/><circle cx="441.0" cy="540.0" r="2.6"/><circle cx="441.0" cy="583.0" r="2.6"/><circle cx="441.0" cy="559.4" r="2.6"/><circle cx="441.0" cy="545.9" r="2.6"/><circle cx="441.0" cy="555.1" r="2.6"/><circle cx="441.0" cy="551.8" r="2.6"/><circle cx="441.0" cy="548.1" r="2.6"/><circle cx="441.0" cy="579.8" r="2.6"/><circle cx="441.0" cy="570.2" r="2.6"/><circle cx="441.0" cy="580.5" r="2.6"/><circle cx="441.0" cy="580.5" r="2.6"/><circle cx="455.9" cy="521.8" r="2.6"/><circle cx="455.9" cy="536.2" r="2.6"/><circle cx="455.9" cy="540.0" r="2.6"/><circle cx="455.9" cy="543.5" r="2.6"/><circle cx="455.9" cy="546.9" r="2.6"/><circle cx="455.9" cy="569.8" r="2.6"/><circle cx="455.9" cy="573.0" r="2.6"/><circle cx="455.9" cy="577.0" r="2.6"/><circle cx="455.9" cy="582.0" r="2.6"/><circle cx="455.9" cy="589.7" r="2.6"/></g><text x="-1.3" y="10.6" font-size="19.5" text-anchor="start" fill="#000" font-weight="bold" >a</text><text x="37.6" y="332.5" font-size="13.4" text-anchor="end" fill="#000" font-weight="normal" >50</text><text x="37.6" y="266.2" font-size="13.4" text-anchor="end" fill="#000" font-weight="normal" >60</text><text x="37.6" y="199.8" font-size="13.4" text-anchor="end" fill="#000" font-weight="normal" >70</text><text x="37.6" y="133.5" font-size="13.4" text-anchor="end" fill="#000" font-weight="normal" >80</text><text x="37.6" y="67.2" font-size="13.4" text-anchor="end" fill="#000" font-weight="normal" >90</text><text x="85.5" y="372.0" font-size="13.4" text-anchor="middle" fill="#000" font-weight="normal" >50</text><text x="159.8" y="372.0" font-size="13.4" text-anchor="middle" fill="#000" font-weight="normal" >55</text><text x="234.0" y="372.0" font-size="13.4" text-anchor="middle" fill="#000" font-weight="normal" >60</text><text x="308.2" y="372.0" font-size="13.4" text-anchor="middle" fill="#000" font-weight="normal" >65</text><text x="382.5" y="372.0" font-size="13.4" text-anchor="middle" fill="#000" font-weight="normal" >70</text><text x="456.8" y="372.0" font-size="13.4" text-anchor="middle" fill="#000" font-weight="normal" >75</text><text x="256.2" y="386.5" font-size="13.4" text-anchor="middle" fill="#000" font-weight="normal" textLength="105" lengthAdjust="spacingAndGlyphs">chronological age</text><text transform="translate(9.9 185.8) rotate(-90)" x="0" y="0" font-size="13.6" text-anchor="middle" textLength="227" lengthAdjust="spacingAndGlyphs">Methylation age (Hannum et al., 2013)</text><text x="75" y="61.8" font-size="11.8" text-anchor="start" fill="#000" font-weight="normal" textLength="78" lengthAdjust="spacingAndGlyphs">r (alive) = 0.76</text><text x="75" y="81.8" font-size="11.8" text-anchor="start" fill="#ff0000" font-weight="normal" textLength="106.5" lengthAdjust="spacingAndGlyphs">r (deceased) = 0.75</text><text x="-0.6" y="403.8" font-size="19.5" text-anchor="start" fill="#000" font-weight="bold" >b</text><text x="37.6" y="739.3" font-size="13.4" text-anchor="end" fill="#000" font-weight="normal" >40</text><text x="37.6" y="687.2" font-size="13.4" text-anchor="end" fill="#000" font-weight="normal" >50</text><text x="37.6" y="635.2" font-size="13.4" text-anchor="end" fill="#000" font-weight="normal" >60</text><text x="37.6" y="583.1" font-size="13.4" text-anchor="end" fill="#000" font-weight="normal" >70</text><text x="37.6" y="531.0" font-size="13.4" text-anchor="end" fill="#000" font-weight="normal" >80</text><text x="37.6" y="479.0" font-size="13.4" text-anchor="end" fill="#000" font-weight="normal" >90</text><text x="37.6" y="426.9" font-size="13.4" text-anchor="end" fill="#000" font-weight="normal" >100</text><text x="84.6" y="767.9" font-size="13.4" text-anchor="middle" fill="#000" font-weight="normal" >50</text><text x="158.8" y="767.9" font-size="13.4" text-anchor="middle" fill="#000" font-weight="normal" >55</text><text x="233.1" y="767.9" font-size="13.4" text-anchor="middle" fill="#000" font-weight="normal" >60</text><text x="307.4" y="767.9" font-size="13.4" text-anchor="middle" fill="#000" font-weight="normal" >65</text><text x="381.6" y="767.9" font-size="13.4" text-anchor="middle" fill="#000" font-weight="normal" >70</text><text x="455.9" y="767.9" font-size="13.4" text-anchor="middle" fill="#000" font-weight="normal" >75</text><text x="255.3" y="782.4" font-size="13.4" text-anchor="middle" fill="#000" font-weight="normal" textLength="105" lengthAdjust="spacingAndGlyphs">chronological age</text><text transform="translate(9.9 581.6) rotate(-90)" x="0" y="0" font-size="13.6" text-anchor="middle" textLength="227" lengthAdjust="spacingAndGlyphs">Methylation age (Horvath et al., 2013)</text><text x="75" y="457.5" font-size="11.8" text-anchor="start" fill="#000" font-weight="normal" textLength="78" lengthAdjust="spacingAndGlyphs">r (alive) = 0.72</text><text x="75" y="477.5" font-size="11.8" text-anchor="start" fill="#ff0000" font-weight="normal" textLength="106.5" lengthAdjust="spacingAndGlyphs">r (deceased) = 0.70</text></svg></div>
</body></html>
